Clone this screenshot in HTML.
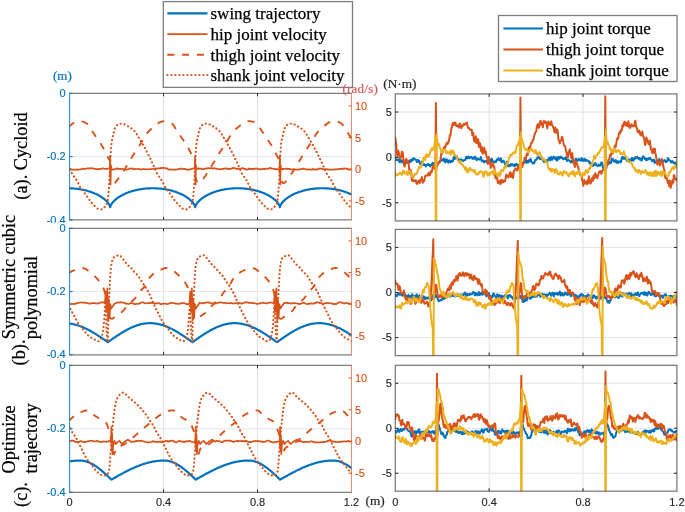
<!DOCTYPE html>
<html><head><meta charset="utf-8"><style>
html,body{margin:0;padding:0;background:#fff;}
body{width:685px;height:512px;position:relative;overflow:hidden;}
</style></head><body>
<svg width="685" height="512" viewBox="0 0 685 512" style="position:absolute;left:0;top:0;will-change:transform"><defs><clipPath id="cl0"><rect x="69.6" y="93.3" width="281.9" height="126.60000000000001"/></clipPath><clipPath id="cl1"><rect x="69.6" y="228.3" width="281.9" height="126.5"/></clipPath><clipPath id="cl2"><rect x="69.6" y="365.3" width="281.9" height="127.0"/></clipPath><clipPath id="cr0"><rect x="395.3" y="93.9" width="281.59999999999997" height="127.0"/></clipPath><clipPath id="cr1"><rect x="395.3" y="229.4" width="281.59999999999997" height="126.20000000000002"/></clipPath><clipPath id="cr2"><rect x="395.3" y="365.3" width="281.59999999999997" height="125.89999999999998"/></clipPath></defs><line x1="163.57" y1="93.3" x2="163.57" y2="219.9" stroke="#e3e3e3" stroke-width="1"/><line x1="257.53" y1="93.3" x2="257.53" y2="219.9" stroke="#e3e3e3" stroke-width="1"/><line x1="69.6" y1="156.6" x2="351.5" y2="156.6" stroke="#dfe9f3" stroke-width="1"/><g clip-path="url(#cl0)"><path d="M68.6,188.26 L69.1,188.26 L69.6,188.27 L70.1,188.29 L70.6,188.3 L71.1,188.33 L71.6,188.35 L72.1,188.38 L72.6,188.41 L73.1,188.44 L73.6,188.48 L74.1,188.52 L74.6,188.56 L75.1,188.61 L75.6,188.66 L76.1,188.71 L76.6,188.77 L77.1,188.83 L77.6,188.89 L78.1,188.96 L78.6,189.03 L79.1,189.11 L79.6,189.18 L80.1,189.27 L80.6,189.35 L81.1,189.44 L81.6,189.53 L82.1,189.63 L82.6,189.73 L83.1,189.83 L83.6,189.94 L84.1,190.05 L84.6,190.17 L85.1,190.29 L85.6,190.41 L86.1,190.54 L86.6,190.67 L87.1,190.81 L87.6,190.95 L88.1,191.09 L88.6,191.24 L89.1,191.4 L89.6,191.55 L90.1,191.72 L90.6,191.89 L91.1,192.06 L91.6,192.24 L92.1,192.42 L92.6,192.61 L93.1,192.8 L93.6,193 L94.1,193.21 L94.6,193.42 L95.1,193.64 L95.6,193.86 L96.1,194.09 L96.6,194.33 L97.1,194.58 L97.6,194.83 L98.1,195.09 L98.6,195.35 L99.1,195.63 L99.6,195.91 L100.1,196.21 L100.6,196.51 L101.1,196.82 L101.6,197.15 L102.1,197.48 L102.6,197.83 L103.1,198.19 L103.6,198.57 L104.1,198.96 L104.6,199.37 L105.1,199.79 L105.6,200.24 L106.1,200.71 L106.6,201.21 L107.1,201.74 L107.6,202.31 L108.1,202.93 L108.6,203.62 L109.1,204.39 L109.6,205.32 L110.1,206.65 L110.2,207.24 L110.6,205.76 L111.1,204.74 L111.6,203.91 L112.1,203.2 L112.6,202.55 L113.1,201.97 L113.6,201.42 L114.1,200.91 L114.6,200.43 L115.1,199.97 L115.6,199.53 L116.1,199.12 L116.6,198.72 L117.1,198.34 L117.6,197.97 L118.1,197.62 L118.6,197.28 L119.1,196.95 L119.6,196.63 L120.1,196.33 L120.6,196.03 L121.1,195.74 L121.6,195.46 L122.1,195.19 L122.6,194.93 L123.1,194.68 L123.6,194.43 L124.1,194.19 L124.6,193.96 L125.1,193.73 L125.6,193.51 L126.1,193.29 L126.6,193.09 L127.1,192.88 L127.6,192.69 L128.1,192.5 L128.6,192.31 L129.1,192.13 L129.6,191.95 L130.1,191.78 L130.6,191.62 L131.1,191.46 L131.6,191.3 L132.1,191.15 L132.6,191 L133.1,190.86 L133.6,190.72 L134.1,190.59 L134.6,190.46 L135.1,190.34 L135.6,190.21 L136.1,190.1 L136.6,189.98 L137.1,189.87 L137.6,189.77 L138.1,189.67 L138.6,189.57 L139.1,189.48 L139.6,189.39 L140.1,189.3 L140.6,189.22 L141.1,189.14 L141.6,189.06 L142.1,188.99 L142.6,188.92 L143.1,188.85 L143.6,188.79 L144.1,188.73 L144.6,188.68 L145.1,188.63 L145.6,188.58 L146.1,188.53 L146.6,188.49 L147.1,188.45 L147.6,188.42 L148.1,188.39 L148.6,188.36 L149.1,188.33 L149.6,188.31 L150.1,188.29 L150.6,188.28 L151.1,188.27 L151.6,188.26 L152.1,188.25 L152.6,188.25 L153.1,188.25 L153.6,188.26 L154.1,188.26 L154.6,188.27 L155.1,188.29 L155.6,188.3 L156.1,188.33 L156.6,188.35 L157.1,188.38 L157.6,188.41 L158.1,188.44 L158.6,188.48 L159.1,188.52 L159.6,188.56 L160.1,188.61 L160.6,188.66 L161.1,188.71 L161.6,188.77 L162.1,188.83 L162.6,188.89 L163.1,188.96 L163.6,189.03 L164.1,189.11 L164.6,189.18 L165.1,189.27 L165.6,189.35 L166.1,189.44 L166.6,189.53 L167.1,189.63 L167.6,189.73 L168.1,189.83 L168.6,189.94 L169.1,190.05 L169.6,190.17 L170.1,190.29 L170.6,190.41 L171.1,190.54 L171.6,190.67 L172.1,190.81 L172.6,190.95 L173.1,191.09 L173.6,191.24 L174.1,191.4 L174.6,191.55 L175.1,191.72 L175.6,191.89 L176.1,192.06 L176.6,192.24 L177.1,192.42 L177.6,192.61 L178.1,192.8 L178.6,193 L179.1,193.21 L179.6,193.42 L180.1,193.64 L180.6,193.86 L181.1,194.09 L181.6,194.33 L182.1,194.58 L182.6,194.83 L183.1,195.09 L183.6,195.35 L184.1,195.63 L184.6,195.91 L185.1,196.21 L185.6,196.51 L186.1,196.82 L186.6,197.15 L187.1,197.48 L187.6,197.83 L188.1,198.19 L188.6,198.57 L189.1,198.96 L189.6,199.37 L190.1,199.79 L190.6,200.24 L191.1,200.71 L191.6,201.21 L192.1,201.74 L192.6,202.31 L193.1,202.93 L193.6,203.62 L194.1,204.39 L194.6,205.32 L195.1,206.65 L195.2,207.24 L195.6,205.76 L196.1,204.73 L196.6,203.9 L197.1,203.19 L197.6,202.54 L198.1,201.95 L198.6,201.41 L199.1,200.89 L199.6,200.41 L200.1,199.95 L200.6,199.52 L201.1,199.1 L201.6,198.7 L202.1,198.32 L202.6,197.95 L203.1,197.6 L203.6,197.26 L204.1,196.93 L204.6,196.61 L205.1,196.31 L205.6,196.01 L206.1,195.72 L206.6,195.44 L207.1,195.17 L207.6,194.91 L208.1,194.65 L208.6,194.41 L209.1,194.17 L209.6,193.93 L210.1,193.71 L210.6,193.48 L211.1,193.27 L211.6,193.06 L212.1,192.86 L212.6,192.66 L213.1,192.47 L213.6,192.29 L214.1,192.11 L214.6,191.93 L215.1,191.76 L215.6,191.6 L216.1,191.44 L216.6,191.28 L217.1,191.13 L217.6,190.98 L218.1,190.84 L218.6,190.7 L219.1,190.57 L219.6,190.44 L220.1,190.31 L220.6,190.19 L221.1,190.08 L221.6,189.96 L222.1,189.85 L222.6,189.75 L223.1,189.65 L223.6,189.55 L224.1,189.46 L224.6,189.37 L225.1,189.28 L225.6,189.2 L226.1,189.12 L226.6,189.04 L227.1,188.97 L227.6,188.9 L228.1,188.84 L228.6,188.78 L229.1,188.72 L229.6,188.67 L230.1,188.61 L230.6,188.57 L231.1,188.52 L231.6,188.48 L232.1,188.44 L232.6,188.41 L233.1,188.38 L233.6,188.35 L234.1,188.33 L234.6,188.31 L235.1,188.29 L235.6,188.27 L236.1,188.26 L236.6,188.26 L237.1,188.25 L237.6,188.25 L238.1,188.25 L238.6,188.26 L239.1,188.27 L239.6,188.28 L240.1,188.29 L240.6,188.31 L241.1,188.33 L241.6,188.36 L242.1,188.39 L242.6,188.42 L243.1,188.45 L243.6,188.49 L244.1,188.53 L244.6,188.58 L245.1,188.62 L245.6,188.68 L246.1,188.73 L246.6,188.79 L247.1,188.85 L247.6,188.92 L248.1,188.99 L248.6,189.06 L249.1,189.14 L249.6,189.21 L250.1,189.3 L250.6,189.38 L251.1,189.48 L251.6,189.57 L252.1,189.67 L252.6,189.77 L253.1,189.88 L253.6,189.99 L254.1,190.1 L254.6,190.22 L255.1,190.34 L255.6,190.46 L256.1,190.59 L256.6,190.73 L257.1,190.87 L257.6,191.01 L258.1,191.16 L258.6,191.31 L259.1,191.47 L259.6,191.63 L260.1,191.79 L260.6,191.97 L261.1,192.14 L261.6,192.32 L262.1,192.51 L262.6,192.7 L263.1,192.9 L263.6,193.1 L264.1,193.31 L264.6,193.53 L265.1,193.75 L265.6,193.98 L266.1,194.21 L266.6,194.45 L267.1,194.7 L267.6,194.96 L268.1,195.22 L268.6,195.5 L269.1,195.78 L269.6,196.07 L270.1,196.37 L270.6,196.68 L271.1,197 L271.6,197.33 L272.1,197.67 L272.6,198.03 L273.1,198.4 L273.6,198.78 L274.1,199.18 L274.6,199.6 L275.1,200.04 L275.6,200.51 L276.1,200.99 L276.6,201.51 L277.1,202.07 L277.6,202.67 L278.1,203.32 L278.6,204.06 L279.1,204.92 L279.6,206.02 L279.9,207.24 L280.1,206.3 L280.6,205.11 L281.1,204.22 L281.6,203.47 L282.1,202.8 L282.6,202.19 L283.1,201.63 L283.6,201.1 L284.1,200.61 L284.6,200.14 L285.1,199.69 L285.6,199.27 L286.1,198.87 L286.6,198.48 L287.1,198.11 L287.6,197.75 L288.1,197.4 L288.6,197.07 L289.1,196.75 L289.6,196.44 L290.1,196.13 L290.6,195.84 L291.1,195.56 L291.6,195.29 L292.1,195.02 L292.6,194.76 L293.1,194.51 L293.6,194.27 L294.1,194.03 L294.6,193.8 L295.1,193.58 L295.6,193.36 L296.1,193.15 L296.6,192.95 L297.1,192.75 L297.6,192.56 L298.1,192.37 L298.6,192.19 L299.1,192.01 L299.6,191.84 L300.1,191.67 L300.6,191.51 L301.1,191.35 L301.6,191.2 L302.1,191.05 L302.6,190.9 L303.1,190.76 L303.6,190.63 L304.1,190.5 L304.6,190.37 L305.1,190.25 L305.6,190.13 L306.1,190.02 L306.6,189.9 L307.1,189.8 L307.6,189.69 L308.1,189.6 L308.6,189.5 L309.1,189.41 L309.6,189.32 L310.1,189.24 L310.6,189.16 L311.1,189.08 L311.6,189.01 L312.1,188.94 L312.6,188.87 L313.1,188.81 L313.6,188.75 L314.1,188.69 L314.6,188.64 L315.1,188.59 L315.6,188.54 L316.1,188.5 L316.6,188.46 L317.1,188.43 L317.6,188.39 L318.1,188.37 L318.6,188.34 L319.1,188.32 L319.6,188.3 L320.1,188.28 L320.6,188.27 L321.1,188.26 L321.6,188.25 L322.1,188.25 L322.6,188.25 L323.1,188.25 L323.6,188.26 L324.1,188.27 L324.6,188.28 L325.1,188.3 L325.6,188.32 L326.1,188.34 L326.6,188.37 L327.1,188.4 L327.6,188.43 L328.1,188.47 L328.6,188.51 L329.1,188.55 L329.6,188.6 L330.1,188.65 L330.6,188.7 L331.1,188.76 L331.6,188.82 L332.1,188.88 L332.6,188.95 L333.1,189.02 L333.6,189.09 L334.1,189.17 L334.6,189.25 L335.1,189.34 L335.6,189.43 L336.1,189.52 L336.6,189.62 L337.1,189.72 L337.6,189.82 L338.1,189.93 L338.6,190.04 L339.1,190.15 L339.6,190.27 L340.1,190.4 L340.6,190.52 L341.1,190.66 L341.6,190.79 L342.1,190.93 L342.6,191.08 L343.1,191.23 L343.6,191.38 L344.1,191.54 L344.6,191.7 L345.1,191.87 L345.6,192.04 L346.1,192.22 L346.6,192.41 L347.1,192.59 L347.6,192.79 L348.1,192.99 L348.6,193.19 L349.1,193.41 L349.6,193.62 L350.1,193.85 L350.6,194.08 L351.1,194.32 L351.6,194.56 L352.1,194.81" fill="none" stroke="#0072BD" stroke-width="2.2" stroke-linejoin="round"/><path d="M68.6,168.88 L69.1,168.7 L69.6,168.58 L70.1,169.09 L70.6,169.08 L71.1,169.32 L71.6,169.65 L72.1,169.67 L72.6,169.67 L73.1,169.67 L73.6,169.67 L74.1,169.67 L74.6,169.67 L75.1,169.67 L75.6,169.67 L76.1,169.67 L76.6,169.55 L77.1,169.67 L77.6,169.65 L78.1,169.67 L78.6,169.67 L79.1,169.67 L79.6,169.51 L80.1,169.41 L80.6,169.24 L81.1,169.37 L81.6,169.1 L82.1,168.99 L82.6,168.8 L83.1,168.87 L83.6,169.06 L84.1,168.65 L84.6,168.94 L85.1,168.94 L85.6,168.81 L86.1,168.91 L86.6,168.55 L87.1,168.42 L87.6,168.42 L88.1,168.42 L88.6,168.57 L89.1,168.31 L89.6,168.34 L90.1,168.38 L90.6,168.13 L91.1,168.24 L91.6,168.51 L92.1,168.24 L92.6,168.35 L93.1,168.43 L93.6,168.62 L94.1,168.85 L94.6,168.88 L95.1,168.84 L95.6,168.89 L96.1,169.01 L96.6,169.2 L97.1,168.99 L97.6,169.39 L98.1,169.25 L98.6,169.16 L99.1,168.89 L99.6,168.93 L100.1,169.2 L100.6,169.03 L101.1,168.92 L101.6,168.76 L102.1,168.47 L102.6,168.44 L103.1,168.35 L103.6,168.61 L104.1,168.78 L104.6,168.92 L105.1,168.86 L105.6,168.89 L106.1,168.96 L106.6,168.76 L107.1,168.7 L107.6,168.65 L108.1,168.69 L108.6,168.45 L109.1,168.24 L109.6,168.13 L109.8,168.75 L110.2,155.97 L110.55,184.45 L110.9,165.46 L111.4,168.75 L111.6,169.44 L112.1,169.55 L112.6,169.67 L113.1,169.29 L113.6,169.56 L114.1,169.43 L114.6,169.46 L115.1,169.05 L115.6,168.7 L116.1,168.68 L116.6,168.38 L117.1,168.32 L117.6,168.93 L118.1,168.79 L118.6,168.67 L119.1,168.9 L119.6,168.95 L120.1,169.08 L120.6,168.85 L121.1,168.95 L121.6,169.03 L122.1,168.95 L122.6,168.95 L123.1,169.34 L123.6,169.35 L124.1,169.33 L124.6,169.57 L125.1,169.59 L125.6,169.67 L126.1,169.67 L126.6,169.67 L127.1,169.67 L127.6,169.31 L128.1,169.39 L128.6,169.22 L129.1,168.55 L129.6,168.72 L130.1,168.45 L130.6,168.62 L131.1,168.64 L131.6,168.58 L132.1,168.71 L132.6,168.43 L133.1,168.81 L133.6,169.2 L134.1,169.43 L134.6,169.14 L135.1,169.14 L135.6,168.78 L136.1,168.98 L136.6,169.01 L137.1,169.06 L137.6,169.02 L138.1,168.9 L138.6,168.73 L139.1,169.02 L139.6,169.25 L140.1,169.58 L140.6,169.28 L141.1,169.27 L141.6,169.41 L142.1,169.24 L142.6,168.98 L143.1,169.18 L143.6,169.16 L144.1,169.02 L144.6,169.2 L145.1,169.37 L145.6,169.25 L146.1,169.04 L146.6,169.24 L147.1,169.42 L147.6,169.25 L148.1,169.24 L148.6,169.33 L149.1,169.23 L149.6,169.11 L150.1,169.2 L150.6,169.16 L151.1,169.03 L151.6,169.2 L152.1,169.19 L152.6,169.05 L153.1,168.89 L153.6,168.69 L154.1,168.94 L154.6,168.63 L155.1,168.55 L155.6,168.47 L156.1,168.5 L156.6,168.66 L157.1,168.6 L157.6,168.36 L158.1,168.36 L158.6,168.26 L159.1,168.34 L159.6,168.31 L160.1,168.21 L160.6,168.19 L161.1,167.84 L161.6,168.06 L162.1,168.08 L162.6,167.96 L163.1,167.89 L163.6,167.84 L164.1,167.84 L164.6,167.95 L165.1,168.19 L165.6,168.32 L166.1,168.27 L166.6,168.44 L167.1,168.37 L167.6,168.84 L168.1,169.59 L168.6,169.67 L169.1,169.6 L169.6,169.33 L170.1,169.48 L170.6,169.45 L171.1,169.67 L171.6,169.67 L172.1,169.67 L172.6,169.67 L173.1,169.66 L173.6,169.67 L174.1,169.55 L174.6,169.67 L175.1,169.67 L175.6,169.61 L176.1,169.67 L176.6,169.53 L177.1,169.37 L177.6,169.4 L178.1,169.32 L178.6,169.02 L179.1,169.09 L179.6,168.8 L180.1,168.63 L180.6,168.47 L181.1,168.78 L181.6,168.72 L182.1,168.64 L182.6,168.72 L183.1,169.09 L183.6,168.88 L184.1,168.83 L184.6,168.82 L185.1,169.23 L185.6,169.09 L186.1,169.37 L186.6,169.67 L187.1,169.67 L187.6,169.67 L188.1,169.67 L188.6,169.67 L189.1,169.67 L189.6,169.67 L190.1,169.67 L190.6,169.35 L191.1,168.75 L191.6,168.64 L192.1,168.74 L192.6,168.65 L193.1,168.39 L193.6,168.41 L194.1,168.52 L194.6,168.68 L194.8,168.75 L195.2,155.97 L195.55,184.45 L195.9,165.46 L196.4,168.75 L196.6,169.25 L197.1,168.97 L197.6,168.5 L198.1,168.68 L198.6,168.41 L199.1,168.54 L199.6,168.79 L200.1,168.72 L200.6,168.73 L201.1,168.47 L201.6,168.99 L202.1,169.32 L202.6,169.26 L203.1,169.19 L203.6,169.19 L204.1,168.7 L204.6,168.46 L205.1,168.56 L205.6,168.65 L206.1,168.78 L206.6,168.44 L207.1,168.22 L207.6,168.28 L208.1,168.21 L208.6,168.19 L209.1,168.44 L209.6,168.38 L210.1,168.35 L210.6,167.99 L211.1,168.01 L211.6,168.08 L212.1,168.27 L212.6,168.5 L213.1,168.64 L213.6,168.38 L214.1,168.24 L214.6,168.19 L215.1,168.26 L215.6,168.75 L216.1,168.87 L216.6,168.69 L217.1,168.66 L217.6,168.58 L218.1,168.93 L218.6,169 L219.1,169.31 L219.6,169.29 L220.1,169.24 L220.6,169.06 L221.1,169.37 L221.6,169.19 L222.1,168.86 L222.6,168.88 L223.1,169.01 L223.6,168.68 L224.1,168.63 L224.6,168.66 L225.1,168.74 L225.6,168.22 L226.1,168.37 L226.6,168.7 L227.1,168.84 L227.6,168.66 L228.1,168.93 L228.6,169.14 L229.1,168.71 L229.6,168.97 L230.1,169.14 L230.6,168.81 L231.1,168.72 L231.6,168.42 L232.1,168.12 L232.6,167.92 L233.1,167.84 L233.6,168.32 L234.1,168.14 L234.6,168.07 L235.1,168.17 L235.6,168.4 L236.1,168.66 L236.6,169.12 L237.1,169.03 L237.6,168.96 L238.1,168.66 L238.6,168.62 L239.1,168.95 L239.6,169.14 L240.1,168.92 L240.6,168.78 L241.1,168.59 L241.6,168.29 L242.1,168.14 L242.6,168.17 L243.1,168.54 L243.6,168.41 L244.1,168.77 L244.6,169.08 L245.1,168.9 L245.6,168.86 L246.1,169.24 L246.6,169.67 L247.1,169.67 L247.6,169.56 L248.1,169.52 L248.6,168.73 L249.1,168.42 L249.6,168.73 L250.1,169.08 L250.6,169.06 L251.1,168.78 L251.6,168.92 L252.1,168.77 L252.6,169.11 L253.1,169.32 L253.6,169.17 L254.1,168.82 L254.6,168.68 L255.1,168.58 L255.6,168.57 L256.1,168.43 L256.6,168.51 L257.1,168.54 L257.6,169.02 L258.1,169.07 L258.6,169.31 L259.1,169.18 L259.6,169.09 L260.1,169.39 L260.6,169.46 L261.1,169.37 L261.6,169.05 L262.1,168.85 L262.6,168.8 L263.1,168.73 L263.6,169 L264.1,169.36 L264.6,168.88 L265.1,168.65 L265.6,169.04 L266.1,168.86 L266.6,168.68 L267.1,168.62 L267.6,168.73 L268.1,168.56 L268.6,168.59 L269.1,168.27 L269.6,168.39 L270.1,167.84 L270.6,168.11 L271.1,168.19 L271.6,168.76 L272.1,168.76 L272.6,168.52 L273.1,168.54 L273.6,168.81 L274.1,168.72 L274.6,169.21 L275.1,169.18 L275.6,169.3 L276.1,169 L276.6,169.03 L277.1,169.37 L277.6,169.19 L278.1,169.58 L278.6,169.67 L279.1,169.67 L279.5,168.75 L279.9,155.97 L280.25,184.45 L280.6,165.46 L281.1,168.75 L281.6,169.46 L282.1,169.37 L282.6,168.84 L283.1,168.98 L283.6,169.08 L284.1,168.83 L284.6,168.97 L285.1,168.74 L285.6,168.59 L286.1,168.63 L286.6,168.54 L287.1,169.03 L287.6,168.9 L288.1,168.97 L288.6,168.74 L289.1,168.77 L289.6,168.89 L290.1,169.18 L290.6,169.17 L291.1,169.37 L291.6,169.5 L292.1,169.5 L292.6,169.3 L293.1,169.67 L293.6,169.67 L294.1,169.67 L294.6,169.67 L295.1,169.67 L295.6,169.67 L296.1,169.61 L296.6,169.49 L297.1,169.67 L297.6,169.48 L298.1,169.45 L298.6,169.54 L299.1,169.67 L299.6,169.4 L300.1,169.31 L300.6,169.12 L301.1,169.24 L301.6,169.07 L302.1,169.14 L302.6,168.6 L303.1,168.57 L303.6,168.51 L304.1,169.05 L304.6,169.24 L305.1,169.15 L305.6,168.99 L306.1,169.2 L306.6,169.47 L307.1,169.67 L307.6,169.44 L308.1,169.67 L308.6,169.39 L309.1,169.34 L309.6,169.28 L310.1,169.64 L310.6,169.51 L311.1,169.53 L311.6,169.65 L312.1,169.65 L312.6,168.97 L313.1,169.14 L313.6,169.1 L314.1,169.66 L314.6,169.53 L315.1,169.48 L315.6,169.21 L316.1,169.05 L316.6,169.52 L317.1,169.67 L317.6,169.62 L318.1,169.21 L318.6,168.5 L319.1,168.46 L319.6,168.59 L320.1,168.59 L320.6,168.69 L321.1,168.62 L321.6,168.61 L322.1,168.8 L322.6,168.93 L323.1,169.3 L323.6,169.23 L324.1,169.12 L324.6,169.24 L325.1,169.31 L325.6,169.21 L326.1,169.3 L326.6,169.06 L327.1,169.18 L327.6,169.42 L328.1,169.45 L328.6,169.67 L329.1,169.65 L329.6,169.52 L330.1,169.67 L330.6,169.67 L331.1,169.67 L331.6,169.67 L332.1,169.62 L332.6,169.67 L333.1,169.63 L333.6,169.57 L334.1,169.61 L334.6,169.21 L335.1,169.45 L335.6,169.44 L336.1,169.38 L336.6,169.33 L337.1,169.34 L337.6,169.05 L338.1,169.31 L338.6,169.12 L339.1,169.09 L339.6,168.82 L340.1,168.79 L340.6,168.94 L341.1,168.96 L341.6,168.76 L342.1,168.78 L342.6,168.43 L343.1,168.8 L343.6,168.74 L344.1,168.58 L344.6,168.46 L345.1,168.29 L345.6,168.54 L346.1,168.48 L346.6,168.59 L347.1,169.1 L347.6,168.75 L348.1,169.13 L348.6,169.59 L349.1,169.67 L349.6,169.67 L350.1,169.48 L350.6,169.61 L351.1,169.25 L351.6,168.48 L352.1,168.57" fill="none" stroke="#D95319" stroke-width="1.7" stroke-linejoin="round"/><path d="M68.6,126.92 L69.1,126.51 L69.6,126.1 L70.1,125.68 L70.6,125.26 L71.1,124.84 L71.6,124.42 L72.1,124.02 L72.6,123.64 L73.1,123.28 L73.6,122.94 L74.1,122.64 L74.6,122.38 L75.1,122.17 L75.6,121.99 L76.1,121.82 L76.6,121.66 L77.1,121.51 L77.6,121.38 L78.1,121.27 L78.6,121.19 L79.1,121.16 L79.6,121.16 L80.1,121.19 L80.6,121.24 L81.1,121.31 L81.6,121.4 L82.1,121.5 L82.6,121.62 L83.1,121.74 L83.6,121.87 L84.1,122.04 L84.6,122.25 L85.1,122.5 L85.6,122.79 L86.1,123.11 L86.6,123.46 L87.1,123.84 L87.6,124.26 L88.1,124.8 L88.6,125.46 L89.1,126.2 L89.6,127 L90.1,127.84 L90.6,128.69 L91.1,129.52 L91.6,130.32 L92.1,131.06 L92.6,131.8 L93.1,132.54 L93.6,133.28 L94.1,134.02 L94.6,134.76 L95.1,135.5 L95.6,136.24 L96.1,136.98 L96.6,137.72 L97.1,138.45 L97.6,139.17 L98.1,139.89 L98.6,140.61 L99.1,141.33 L99.6,142.06 L100.1,142.81 L100.6,143.57 L101.1,144.36 L101.6,145.17 L102.1,146.01 L102.6,146.87 L103.1,147.75 L103.6,148.65 L104.1,149.56 L104.6,150.51 L105.1,151.5 L105.6,152.52 L106.1,153.55 L106.6,154.57 L107.1,155.56 L107.6,156.52 L108.1,157.43 L108.6,158.32 L109.1,159.19 L109.6,160.04 L110.1,160.87 L110.2,176.86 L110.6,178.03 L111.1,179.4 L111.6,180.61 L112.1,181.62 L112.6,182.42 L113.1,182.95 L113.6,183.18 L114.1,183.13 L114.6,182.9 L115.1,182.52 L115.6,182.04 L116.1,181.46 L116.6,180.83 L117.1,180.17 L117.6,179.51 L118.1,178.89 L118.6,178.29 L119.1,177.64 L119.6,176.96 L120.1,176.24 L120.6,175.51 L121.1,174.75 L121.6,174 L122.1,173.24 L122.6,172.49 L123.1,171.72 L123.6,170.94 L124.1,170.15 L124.6,169.36 L125.1,168.55 L125.6,167.75 L126.1,166.94 L126.6,166.12 L127.1,165.3 L127.6,164.47 L128.1,163.63 L128.6,162.78 L129.1,161.93 L129.6,161.08 L130.1,160.23 L130.6,159.39 L131.1,158.54 L131.6,157.7 L132.1,156.87 L132.6,156.05 L133.1,155.24 L133.6,154.45 L134.1,153.66 L134.6,152.89 L135.1,152.12 L135.6,151.36 L136.1,150.61 L136.6,149.85 L137.1,149.1 L137.6,148.35 L138.1,147.59 L138.6,146.83 L139.1,146.06 L139.6,145.28 L140.1,144.5 L140.6,143.69 L141.1,142.88 L141.6,142.05 L142.1,141.23 L142.6,140.41 L143.1,139.6 L143.6,138.81 L144.1,138.03 L144.6,137.23 L145.1,136.43 L145.6,135.64 L146.1,134.87 L146.6,134.12 L147.1,133.4 L147.6,132.73 L148.1,132.11 L148.6,131.54 L149.1,130.99 L149.6,130.47 L150.1,129.98 L150.6,129.5 L151.1,129.04 L151.6,128.6 L152.1,128.16 L152.6,127.74 L153.1,127.33 L153.6,126.92 L154.1,126.51 L154.6,126.1 L155.1,125.68 L155.6,125.26 L156.1,124.84 L156.6,124.42 L157.1,124.02 L157.6,123.64 L158.1,123.28 L158.6,122.94 L159.1,122.64 L159.6,122.38 L160.1,122.17 L160.6,121.99 L161.1,121.82 L161.6,121.66 L162.1,121.51 L162.6,121.38 L163.1,121.27 L163.6,121.19 L164.1,121.16 L164.6,121.16 L165.1,121.19 L165.6,121.24 L166.1,121.31 L166.6,121.4 L167.1,121.5 L167.6,121.62 L168.1,121.74 L168.6,121.87 L169.1,122.04 L169.6,122.25 L170.1,122.5 L170.6,122.79 L171.1,123.11 L171.6,123.46 L172.1,123.84 L172.6,124.26 L173.1,124.8 L173.6,125.46 L174.1,126.2 L174.6,127 L175.1,127.84 L175.6,128.69 L176.1,129.52 L176.6,130.32 L177.1,131.06 L177.6,131.8 L178.1,132.54 L178.6,133.28 L179.1,134.02 L179.6,134.76 L180.1,135.5 L180.6,136.24 L181.1,136.98 L181.6,137.72 L182.1,138.45 L182.6,139.17 L183.1,139.89 L183.6,140.61 L184.1,141.33 L184.6,142.06 L185.1,142.81 L185.6,143.57 L186.1,144.36 L186.6,145.17 L187.1,146.01 L187.6,146.87 L188.1,147.75 L188.6,148.65 L189.1,149.56 L189.6,150.51 L190.1,151.5 L190.6,152.52 L191.1,153.55 L191.6,154.57 L192.1,155.56 L192.6,156.52 L193.1,157.43 L193.6,158.32 L194.1,159.19 L194.6,160.04 L195.1,160.87 L195.2,176.86 L195.6,178.04 L196.1,179.41 L196.6,180.62 L197.1,181.64 L197.6,182.43 L198.1,182.95 L198.6,183.18 L199.1,183.12 L199.6,182.89 L200.1,182.51 L200.6,182.01 L201.1,181.43 L201.6,180.8 L202.1,180.14 L202.6,179.48 L203.1,178.86 L203.6,178.25 L204.1,177.6 L204.6,176.91 L205.1,176.19 L205.6,175.45 L206.1,174.69 L206.6,173.93 L207.1,173.18 L207.6,172.42 L208.1,171.65 L208.6,170.87 L209.1,170.07 L209.6,169.27 L210.1,168.47 L210.6,167.66 L211.1,166.84 L211.6,166.03 L212.1,165.2 L212.6,164.36 L213.1,163.52 L213.6,162.67 L214.1,161.82 L214.6,160.97 L215.1,160.11 L215.6,159.26 L216.1,158.42 L216.6,157.58 L217.1,156.74 L217.6,155.92 L218.1,155.11 L218.6,154.32 L219.1,153.53 L219.6,152.75 L220.1,151.99 L220.6,151.22 L221.1,150.47 L221.6,149.71 L222.1,148.96 L222.6,148.2 L223.1,147.44 L223.6,146.67 L224.1,145.9 L224.6,145.12 L225.1,144.33 L225.6,143.52 L226.1,142.7 L226.6,141.87 L227.1,141.04 L227.6,140.22 L228.1,139.41 L228.6,138.63 L229.1,137.84 L229.6,137.04 L230.1,136.24 L230.6,135.45 L231.1,134.68 L231.6,133.93 L232.1,133.22 L232.6,132.56 L233.1,131.95 L233.6,131.39 L234.1,130.85 L234.6,130.33 L235.1,129.84 L235.6,129.37 L236.1,128.91 L236.6,128.47 L237.1,128.04 L237.6,127.62 L238.1,127.2 L238.6,126.79 L239.1,126.39 L239.6,125.97 L240.1,125.55 L240.6,125.12 L241.1,124.7 L241.6,124.29 L242.1,123.89 L242.6,123.51 L243.1,123.16 L243.6,122.84 L244.1,122.55 L244.6,122.3 L245.1,122.11 L245.6,121.93 L246.1,121.76 L246.6,121.6 L247.1,121.46 L247.6,121.33 L248.1,121.24 L248.6,121.17 L249.1,121.15 L249.6,121.17 L250.1,121.2 L250.6,121.27 L251.1,121.35 L251.6,121.44 L252.1,121.55 L252.6,121.66 L253.1,121.79 L253.6,121.93 L254.1,122.12 L254.6,122.35 L255.1,122.62 L255.6,122.92 L256.1,123.26 L256.6,123.62 L257.1,124.01 L257.6,124.48 L258.1,125.08 L258.6,125.78 L259.1,126.56 L259.6,127.38 L260.1,128.23 L260.6,129.08 L261.1,129.9 L261.6,130.67 L262.1,131.41 L262.6,132.16 L263.1,132.9 L263.6,133.64 L264.1,134.38 L264.6,135.12 L265.1,135.87 L265.6,136.61 L266.1,137.35 L266.6,138.09 L267.1,138.82 L267.6,139.54 L268.1,140.26 L268.6,140.98 L269.1,141.71 L269.6,142.46 L270.1,143.21 L270.6,143.99 L271.1,144.79 L271.6,145.62 L272.1,146.47 L272.6,147.35 L273.1,148.24 L273.6,149.15 L274.1,150.09 L274.6,151.07 L275.1,152.08 L275.6,153.11 L276.1,154.13 L276.6,155.14 L277.1,156.12 L277.6,157.05 L278.1,157.96 L278.6,158.84 L279.1,159.7 L279.6,160.54 L279.9,176.86 L280.1,177.45 L280.6,178.87 L281.1,180.15 L281.6,181.25 L282.1,182.14 L282.6,182.77 L283.1,183.13 L283.6,183.17 L284.1,183 L284.6,182.68 L285.1,182.23 L285.6,181.68 L286.1,181.07 L286.6,180.41 L287.1,179.75 L287.6,179.11 L288.1,178.51 L288.6,177.88 L289.1,177.21 L289.6,176.5 L290.1,175.77 L290.6,175.02 L291.1,174.26 L291.6,173.5 L292.1,172.75 L292.6,171.98 L293.1,171.21 L293.6,170.42 L294.1,169.62 L294.6,168.82 L295.1,168.01 L295.6,167.2 L296.1,166.39 L296.6,165.56 L297.1,164.73 L297.6,163.89 L298.1,163.05 L298.6,162.2 L299.1,161.35 L299.6,160.49 L300.1,159.64 L300.6,158.8 L301.1,157.95 L301.6,157.12 L302.1,156.29 L302.6,155.48 L303.1,154.68 L303.6,153.89 L304.1,153.11 L304.6,152.34 L305.1,151.57 L305.6,150.82 L306.1,150.06 L306.6,149.31 L307.1,148.55 L307.6,147.79 L308.1,147.03 L308.6,146.26 L309.1,145.49 L309.6,144.7 L310.1,143.9 L310.6,143.09 L311.1,142.26 L311.6,141.43 L312.1,140.61 L312.6,139.8 L313.1,139 L313.6,138.22 L314.1,137.42 L314.6,136.62 L315.1,135.83 L315.6,135.05 L316.1,134.29 L316.6,133.56 L317.1,132.88 L317.6,132.24 L318.1,131.66 L318.6,131.11 L319.1,130.58 L319.6,130.08 L320.1,129.6 L320.6,129.13 L321.1,128.69 L321.6,128.25 L322.1,127.82 L322.6,127.41 L323.1,127 L323.6,126.59 L324.1,126.18 L324.6,125.76 L325.1,125.34 L325.6,124.92 L326.1,124.5 L326.6,124.09 L327.1,123.7 L327.6,123.34 L328.1,123 L328.6,122.69 L329.1,122.43 L329.6,122.2 L330.1,122.02 L330.6,121.85 L331.1,121.68 L331.6,121.53 L332.1,121.39 L332.6,121.28 L333.1,121.2 L333.6,121.16 L334.1,121.16 L334.6,121.18 L335.1,121.23 L335.6,121.3 L336.1,121.39 L336.6,121.49 L337.1,121.6 L337.6,121.72 L338.1,121.85 L338.6,122.01 L339.1,122.22 L339.6,122.47 L340.1,122.75 L340.6,123.07 L341.1,123.42 L341.6,123.79 L342.1,124.21 L342.6,124.74 L343.1,125.39 L343.6,126.12 L344.1,126.92 L344.6,127.76 L345.1,128.61 L345.6,129.45 L346.1,130.25 L346.6,131 L347.1,131.74 L347.6,132.48 L348.1,133.22 L348.6,133.96 L349.1,134.71 L349.6,135.45 L350.1,136.19 L350.6,136.93 L351.1,137.67 L351.6,138.41 L352.1,139.13" fill="none" stroke="#D95319" stroke-width="1.9" stroke-dasharray="7,7.8"/><path d="M68.6,165.74 L69.1,166.84 L69.6,167.97 L70.1,169.14 L70.6,170.32 L71.1,171.47 L71.6,172.55 L72.1,173.54 L72.6,174.42 L73.1,175.22 L73.6,175.97 L74.1,176.67 L74.6,177.36 L75.1,178.03 L75.6,178.72 L76.1,179.43 L76.6,180.18 L77.1,180.98 L77.6,181.88 L78.1,182.84 L78.6,183.85 L79.1,184.88 L79.6,185.89 L80.1,186.85 L80.6,187.74 L81.1,188.53 L81.6,189.26 L82.1,189.95 L82.6,190.61 L83.1,191.25 L83.6,191.88 L84.1,192.5 L84.6,193.13 L85.1,193.78 L85.6,194.46 L86.1,195.16 L86.6,195.88 L87.1,196.62 L87.6,197.36 L88.1,198.09 L88.6,198.81 L89.1,199.51 L89.6,200.19 L90.1,200.83 L90.6,201.45 L91.1,202.06 L91.6,202.65 L92.1,203.24 L92.6,203.81 L93.1,204.36 L93.6,204.89 L94.1,205.41 L94.6,205.9 L95.1,206.36 L95.6,206.84 L96.1,207.33 L96.6,207.8 L97.1,208.22 L97.6,208.56 L98.1,208.79 L98.6,208.91 L99.1,209.02 L99.6,209.11 L100.1,209.19 L100.6,209.26 L101.1,209.3 L101.6,209.33 L102.1,209.3 L102.6,209.1 L103.1,208.74 L103.6,208.27 L104.1,207.72 L104.6,207.13 L105.1,206.54 L105.6,205.94 L106.1,205.26 L106.6,204.38 L107.1,203.21 L107.6,201.22 L108.1,197.67 L108.6,193.06 L109.1,186.52 L109.6,177.39 L110.1,165.57 L110.2,162.93 L110.6,154.87 L111.1,147.25 L111.6,142.45 L112.1,139.65 L112.6,137.46 L113.1,135.5 L113.6,133.36 L114.1,131.09 L114.6,129.14 L115.1,127.96 L115.6,127.17 L116.1,126.44 L116.6,125.78 L117.1,125.19 L117.6,124.69 L118.1,124.29 L118.6,123.98 L119.1,123.78 L119.6,123.69 L120.1,123.68 L120.6,123.68 L121.1,123.68 L121.6,123.68 L122.1,123.68 L122.6,123.7 L123.1,123.79 L123.6,123.93 L124.1,124.12 L124.6,124.35 L125.1,124.62 L125.6,124.9 L126.1,125.2 L126.6,125.51 L127.1,125.8 L127.6,126.09 L128.1,126.36 L128.6,126.64 L129.1,126.93 L129.6,127.23 L130.1,127.55 L130.6,127.88 L131.1,128.22 L131.6,128.57 L132.1,128.94 L132.6,129.32 L133.1,129.72 L133.6,130.15 L134.1,130.62 L134.6,131.13 L135.1,131.69 L135.6,132.35 L136.1,133.07 L136.6,133.85 L137.1,134.66 L137.6,135.51 L138.1,136.36 L138.6,137.21 L139.1,138.03 L139.6,138.85 L140.1,139.67 L140.6,140.5 L141.1,141.33 L141.6,142.18 L142.1,143.04 L142.6,143.91 L143.1,144.79 L143.6,145.68 L144.1,146.58 L144.6,147.5 L145.1,148.43 L145.6,149.37 L146.1,150.32 L146.6,151.27 L147.1,152.24 L147.6,153.21 L148.1,154.19 L148.6,155.18 L149.1,156.18 L149.6,157.2 L150.1,158.22 L150.6,159.26 L151.1,160.31 L151.6,161.37 L152.1,162.46 L152.6,163.55 L153.1,164.64 L153.6,165.74 L154.1,166.84 L154.6,167.97 L155.1,169.14 L155.6,170.32 L156.1,171.47 L156.6,172.55 L157.1,173.54 L157.6,174.42 L158.1,175.22 L158.6,175.97 L159.1,176.67 L159.6,177.36 L160.1,178.03 L160.6,178.72 L161.1,179.43 L161.6,180.18 L162.1,180.98 L162.6,181.88 L163.1,182.84 L163.6,183.85 L164.1,184.88 L164.6,185.89 L165.1,186.85 L165.6,187.74 L166.1,188.53 L166.6,189.26 L167.1,189.95 L167.6,190.61 L168.1,191.25 L168.6,191.88 L169.1,192.5 L169.6,193.13 L170.1,193.78 L170.6,194.46 L171.1,195.16 L171.6,195.88 L172.1,196.62 L172.6,197.36 L173.1,198.09 L173.6,198.81 L174.1,199.51 L174.6,200.19 L175.1,200.83 L175.6,201.45 L176.1,202.06 L176.6,202.65 L177.1,203.24 L177.6,203.81 L178.1,204.36 L178.6,204.89 L179.1,205.41 L179.6,205.9 L180.1,206.36 L180.6,206.84 L181.1,207.33 L181.6,207.8 L182.1,208.22 L182.6,208.56 L183.1,208.79 L183.6,208.91 L184.1,209.02 L184.6,209.11 L185.1,209.19 L185.6,209.26 L186.1,209.3 L186.6,209.33 L187.1,209.3 L187.6,209.1 L188.1,208.74 L188.6,208.27 L189.1,207.72 L189.6,207.13 L190.1,206.54 L190.6,205.94 L191.1,205.26 L191.6,204.38 L192.1,203.21 L192.6,201.22 L193.1,197.67 L193.6,193.06 L194.1,186.52 L194.6,177.39 L195.1,165.57 L195.2,162.93 L195.6,154.84 L196.1,147.21 L196.6,142.42 L197.1,139.62 L197.6,137.42 L198.1,135.46 L198.6,133.31 L199.1,131.03 L199.6,129.09 L200.1,127.94 L200.6,127.14 L201.1,126.41 L201.6,125.75 L202.1,125.17 L202.6,124.67 L203.1,124.27 L203.6,123.96 L204.1,123.77 L204.6,123.69 L205.1,123.68 L205.6,123.68 L206.1,123.68 L206.6,123.68 L207.1,123.68 L207.6,123.71 L208.1,123.8 L208.6,123.95 L209.1,124.14 L209.6,124.38 L210.1,124.65 L210.6,124.94 L211.1,125.24 L211.6,125.54 L212.1,125.84 L212.6,126.12 L213.1,126.4 L213.6,126.68 L214.1,126.97 L214.6,127.27 L215.1,127.59 L215.6,127.92 L216.1,128.27 L216.6,128.63 L217.1,129 L217.6,129.39 L218.1,129.79 L218.6,130.23 L219.1,130.7 L219.6,131.22 L220.1,131.8 L220.6,132.47 L221.1,133.21 L221.6,134 L222.1,134.82 L222.6,135.67 L223.1,136.53 L223.6,137.37 L224.1,138.2 L224.6,139.02 L225.1,139.84 L225.6,140.68 L226.1,141.52 L226.6,142.37 L227.1,143.23 L227.6,144.11 L228.1,144.99 L228.6,145.89 L229.1,146.8 L229.6,147.73 L230.1,148.66 L230.6,149.61 L231.1,150.56 L231.6,151.52 L232.1,152.49 L232.6,153.47 L233.1,154.45 L233.6,155.45 L234.1,156.46 L234.6,157.48 L235.1,158.51 L235.6,159.55 L236.1,160.61 L236.6,161.69 L237.1,162.78 L237.6,163.88 L238.1,164.98 L238.6,166.08 L239.1,167.19 L239.6,168.34 L240.1,169.52 L240.6,170.7 L241.1,171.83 L241.6,172.89 L242.1,173.84 L242.6,174.69 L243.1,175.48 L243.6,176.21 L244.1,176.91 L244.6,177.59 L245.1,178.27 L245.6,178.97 L246.1,179.69 L246.6,180.46 L247.1,181.3 L247.6,182.23 L248.1,183.22 L248.6,184.24 L249.1,185.27 L249.6,186.27 L250.1,187.21 L250.6,188.06 L251.1,188.82 L251.6,189.54 L252.1,190.22 L252.6,190.87 L253.1,191.51 L253.6,192.13 L254.1,192.76 L254.6,193.4 L255.1,194.06 L255.6,194.75 L256.1,195.47 L256.6,196.2 L257.1,196.94 L257.6,197.68 L258.1,198.41 L258.6,199.13 L259.1,199.82 L259.6,200.48 L260.1,201.11 L260.6,201.73 L261.1,202.34 L261.6,202.93 L262.1,203.51 L262.6,204.07 L263.1,204.62 L263.6,205.14 L264.1,205.65 L264.6,206.13 L265.1,206.59 L265.6,207.09 L266.1,207.57 L266.6,208.02 L267.1,208.41 L267.6,208.69 L268.1,208.85 L268.6,208.97 L269.1,209.07 L269.6,209.16 L270.1,209.23 L270.6,209.28 L271.1,209.32 L271.6,209.33 L272.1,209.21 L272.6,208.92 L273.1,208.49 L273.6,207.97 L274.1,207.39 L274.6,206.79 L275.1,206.21 L275.6,205.57 L276.1,204.78 L276.6,203.75 L277.1,202.29 L277.6,199.28 L278.1,195.18 L278.6,189.44 L279.1,181.45 L279.6,170.62 L279.9,162.93 L280.1,158.68 L280.6,150.03 L281.1,143.93 L281.6,140.66 L282.1,138.26 L282.6,136.25 L283.1,134.22 L283.6,131.95 L284.1,129.82 L284.6,128.3 L285.1,127.46 L285.6,126.7 L286.1,126.01 L286.6,125.4 L287.1,124.87 L287.6,124.42 L288.1,124.08 L288.6,123.84 L289.1,123.71 L289.6,123.68 L290.1,123.68 L290.6,123.68 L291.1,123.68 L291.6,123.68 L292.1,123.69 L292.6,123.75 L293.1,123.88 L293.6,124.05 L294.1,124.27 L294.6,124.53 L295.1,124.81 L295.6,125.1 L296.1,125.41 L296.6,125.71 L297.1,126 L297.6,126.28 L298.1,126.55 L298.6,126.84 L299.1,127.14 L299.6,127.45 L300.1,127.77 L300.6,128.11 L301.1,128.47 L301.6,128.83 L302.1,129.21 L302.6,129.6 L303.1,130.03 L303.6,130.48 L304.1,130.98 L304.6,131.52 L305.1,132.16 L305.6,132.86 L306.1,133.63 L306.6,134.44 L307.1,135.27 L307.6,136.13 L308.1,136.98 L308.6,137.82 L309.1,138.63 L309.6,139.45 L310.1,140.28 L310.6,141.12 L311.1,141.97 L311.6,142.82 L312.1,143.69 L312.6,144.57 L313.1,145.46 L313.6,146.36 L314.1,147.28 L314.6,148.21 L315.1,149.15 L315.6,150.1 L316.1,151.05 L316.6,152.02 L317.1,152.99 L317.6,153.97 L318.1,154.96 L318.6,155.96 L319.1,156.98 L319.6,158 L320.1,159.04 L320.6,160.09 L321.1,161.15 L321.6,162.24 L322.1,163.33 L322.6,164.42 L323.1,165.53 L323.6,166.63 L324.1,167.75 L324.6,168.92 L325.1,170.1 L325.6,171.26 L326.1,172.36 L326.6,173.37 L327.1,174.27 L327.6,175.08 L328.1,175.84 L328.6,176.56 L329.1,177.24 L329.6,177.92 L330.1,178.6 L330.6,179.31 L331.1,180.05 L331.6,180.85 L332.1,181.73 L332.6,182.69 L333.1,183.7 L333.6,184.73 L334.1,185.75 L334.6,186.72 L335.1,187.62 L335.6,188.42 L336.1,189.16 L336.6,189.86 L337.1,190.53 L337.6,191.17 L338.1,191.8 L338.6,192.42 L339.1,193.05 L339.6,193.7 L340.1,194.38 L340.6,195.08 L341.1,195.8 L341.6,196.54 L342.1,197.28 L342.6,198.02 L343.1,198.74 L343.6,199.45 L344.1,200.12 L344.6,200.77 L345.1,201.39 L345.6,202 L346.1,202.6 L346.6,203.19 L347.1,203.76 L347.6,204.32 L348.1,204.85 L348.6,205.37 L349.1,205.86 L349.6,206.33 L350.1,206.81 L350.6,207.3 L351.1,207.77 L351.6,208.2 L352.1,208.54" fill="none" stroke="#D95319" stroke-width="2.1" stroke-linecap="round" stroke-dasharray="0.2,3.8"/></g><line x1="69.6" y1="93.3" x2="351.5" y2="93.3" stroke="#262626" stroke-opacity="0.6" stroke-width="1.3"/><line x1="69.6" y1="219.9" x2="351.5" y2="219.9" stroke="#262626" stroke-opacity="0.6" stroke-width="1.3"/><line x1="69.6" y1="92.7" x2="69.6" y2="220.5" stroke="#0072BD" stroke-opacity="0.8" stroke-width="1.1"/><line x1="351.5" y1="92.7" x2="351.5" y2="220.5" stroke="#D95319" stroke-opacity="0.65" stroke-width="1"/><line x1="163.57" y1="93.3" x2="163.57" y2="96.3" stroke="#262626" stroke-width="1"/><line x1="163.57" y1="219.9" x2="163.57" y2="216.9" stroke="#262626" stroke-width="1"/><line x1="257.53" y1="93.3" x2="257.53" y2="96.3" stroke="#262626" stroke-width="1"/><line x1="257.53" y1="219.9" x2="257.53" y2="216.9" stroke="#262626" stroke-width="1"/><line x1="69.6" y1="93.3" x2="72.6" y2="93.3" stroke="#0072BD" stroke-width="1"/><line x1="69.6" y1="156.6" x2="72.6" y2="156.6" stroke="#0072BD" stroke-width="1"/><line x1="69.6" y1="219.9" x2="72.6" y2="219.9" stroke="#0072BD" stroke-width="1"/><line x1="351.5" y1="105.96" x2="348.5" y2="105.96" stroke="#D95319" stroke-width="1"/><line x1="351.5" y1="137.61" x2="348.5" y2="137.61" stroke="#D95319" stroke-width="1"/><line x1="351.5" y1="169.26" x2="348.5" y2="169.26" stroke="#D95319" stroke-width="1"/><line x1="351.5" y1="200.91" x2="348.5" y2="200.91" stroke="#D95319" stroke-width="1"/><text x="65.6" y="96.75" text-anchor="end" style="font-family:'Liberation Sans',sans-serif;font-size:11px" fill="#0072BD" stroke="#0072BD" stroke-width="0.15">0</text><text x="65.6" y="160.05" text-anchor="end" style="font-family:'Liberation Sans',sans-serif;font-size:11px" fill="#0072BD" stroke="#0072BD" stroke-width="0.15">-0.2</text><text x="65.6" y="224.25" text-anchor="end" style="font-family:'Liberation Sans',sans-serif;font-size:11px" fill="#0072BD" stroke="#0072BD" stroke-width="0.15">-0.4</text><text x="355.0" y="109.86" style="font-family:'Liberation Sans',sans-serif;font-size:11px" fill="#D95319" stroke="#D95319" stroke-width="0.15">10</text><text x="355.0" y="141.51" style="font-family:'Liberation Sans',sans-serif;font-size:11px" fill="#D95319" stroke="#D95319" stroke-width="0.15">5</text><text x="355.0" y="173.16" style="font-family:'Liberation Sans',sans-serif;font-size:11px" fill="#D95319" stroke="#D95319" stroke-width="0.15">0</text><text x="355.0" y="204.81" style="font-family:'Liberation Sans',sans-serif;font-size:11px" fill="#D95319" stroke="#D95319" stroke-width="0.15">-5</text><rect x="40" y="222.8" width="27" height="2.5" fill="#fff"/><line x1="163.57" y1="228.3" x2="163.57" y2="354.8" stroke="#e3e3e3" stroke-width="1"/><line x1="257.53" y1="228.3" x2="257.53" y2="354.8" stroke="#e3e3e3" stroke-width="1"/><line x1="69.6" y1="291.55" x2="351.5" y2="291.55" stroke="#dfe9f3" stroke-width="1"/><g clip-path="url(#cl1)"><path d="M68.6,323.39 L69.1,323.45 L69.6,323.51 L70.1,323.58 L70.6,323.65 L71.1,323.73 L71.6,323.81 L72.1,323.9 L72.6,324 L73.1,324.1 L73.6,324.21 L74.1,324.33 L74.6,324.45 L75.1,324.57 L75.6,324.71 L76.1,324.84 L76.6,324.99 L77.1,325.14 L77.6,325.29 L78.1,325.45 L78.6,325.62 L79.1,325.79 L79.6,325.96 L80.1,326.14 L80.6,326.33 L81.1,326.52 L81.6,326.72 L82.1,326.92 L82.6,327.13 L83.1,327.34 L83.6,327.56 L84.1,327.78 L84.6,328 L85.1,328.23 L85.6,328.47 L86.1,328.71 L86.6,328.95 L87.1,329.2 L87.6,329.45 L88.1,329.71 L88.6,329.97 L89.1,330.24 L89.6,330.5 L90.1,330.78 L90.6,331.05 L91.1,331.33 L91.6,331.62 L92.1,331.9 L92.6,332.19 L93.1,332.49 L93.6,332.78 L94.1,333.08 L94.6,333.38 L95.1,333.69 L95.6,334 L96.1,334.31 L96.6,334.62 L97.1,334.94 L97.6,335.25 L98.1,335.57 L98.6,335.9 L99.1,336.22 L99.6,336.55 L100.1,336.88 L100.6,337.21 L101.1,337.54 L101.6,337.87 L102.1,338.2 L102.6,338.54 L103.1,338.88 L103.6,339.22 L104.1,339.55 L104.6,339.89 L105.1,340.23 L105.6,340.58 L106.1,340.92 L106.6,341.26 L107.1,341.6 L107.6,341.94 L107.9,342.15 L108.1,342.01 L108.6,341.66 L109.1,341.3 L109.6,340.95 L110.1,340.6 L110.6,340.25 L111.1,339.9 L111.6,339.55 L112.1,339.2 L112.6,338.85 L113.1,338.51 L113.6,338.16 L114.1,337.82 L114.6,337.47 L115.1,337.13 L115.6,336.79 L116.1,336.46 L116.6,336.12 L117.1,335.79 L117.6,335.46 L118.1,335.13 L118.6,334.8 L119.1,334.48 L119.6,334.16 L120.1,333.84 L120.6,333.52 L121.1,333.21 L121.6,332.9 L122.1,332.6 L122.6,332.29 L123.1,331.99 L123.6,331.7 L124.1,331.41 L124.6,331.12 L125.1,330.83 L125.6,330.55 L126.1,330.27 L126.6,330 L127.1,329.73 L127.6,329.47 L128.1,329.21 L128.6,328.95 L129.1,328.7 L129.6,328.46 L130.1,328.21 L130.6,327.98 L131.1,327.74 L131.6,327.52 L132.1,327.3 L132.6,327.08 L133.1,326.87 L133.6,326.66 L134.1,326.46 L134.6,326.26 L135.1,326.07 L135.6,325.89 L136.1,325.71 L136.6,325.54 L137.1,325.37 L137.6,325.21 L138.1,325.05 L138.6,324.9 L139.1,324.76 L139.6,324.62 L140.1,324.49 L140.6,324.36 L141.1,324.24 L141.6,324.13 L142.1,324.02 L142.6,323.92 L143.1,323.83 L143.6,323.74 L144.1,323.66 L144.6,323.58 L145.1,323.51 L145.6,323.45 L146.1,323.39 L146.6,323.34 L147.1,323.3 L147.6,323.26 L148.1,323.23 L148.6,323.21 L149.1,323.19 L149.6,323.18 L150.1,323.18 L150.6,323.18 L151.1,323.19 L151.6,323.2 L152.1,323.22 L152.6,323.25 L153.1,323.29 L153.6,323.33 L154.1,323.38 L154.6,323.43 L155.1,323.49 L155.6,323.56 L156.1,323.63 L156.6,323.71 L157.1,323.8 L157.6,323.89 L158.1,323.99 L158.6,324.1 L159.1,324.21 L159.6,324.33 L160.1,324.45 L160.6,324.58 L161.1,324.72 L161.6,324.86 L162.1,325.01 L162.6,325.16 L163.1,325.32 L163.6,325.49 L164.1,325.66 L164.6,325.84 L165.1,326.02 L165.6,326.21 L166.1,326.4 L166.6,326.6 L167.1,326.81 L167.6,327.02 L168.1,327.23 L168.6,327.45 L169.1,327.68 L169.6,327.91 L170.1,328.14 L170.6,328.38 L171.1,328.63 L171.6,328.88 L172.1,329.13 L172.6,329.39 L173.1,329.65 L173.6,329.92 L174.1,330.19 L174.6,330.47 L175.1,330.75 L175.6,331.03 L176.1,331.32 L176.6,331.61 L177.1,331.9 L177.6,332.2 L178.1,332.51 L178.6,332.81 L179.1,333.12 L179.6,333.43 L180.1,333.75 L180.6,334.06 L181.1,334.38 L181.6,334.71 L182.1,335.03 L182.6,335.36 L183.1,335.69 L183.6,336.02 L184.1,336.36 L184.6,336.69 L185.1,337.03 L185.6,337.37 L186.1,337.71 L186.6,338.06 L187.1,338.4 L187.6,338.75 L188.1,339.1 L188.6,339.44 L189.1,339.79 L189.6,340.14 L190.1,340.5 L190.6,340.85 L191.1,341.2 L191.6,341.55 L192.1,341.9 L192.45,342.15 L192.6,342.04 L193.1,341.69 L193.6,341.34 L194.1,340.99 L194.6,340.64 L195.1,340.28 L195.6,339.93 L196.1,339.58 L196.6,339.24 L197.1,338.89 L197.6,338.54 L198.1,338.2 L198.6,337.85 L199.1,337.51 L199.6,337.17 L200.1,336.83 L200.6,336.49 L201.1,336.16 L201.6,335.82 L202.1,335.49 L202.6,335.16 L203.1,334.84 L203.6,334.51 L204.1,334.19 L204.6,333.87 L205.1,333.56 L205.6,333.24 L206.1,332.93 L206.6,332.63 L207.1,332.32 L207.6,332.02 L208.1,331.73 L208.6,331.43 L209.1,331.15 L209.6,330.86 L210.1,330.58 L210.6,330.3 L211.1,330.03 L211.6,329.76 L212.1,329.49 L212.6,329.23 L213.1,328.98 L213.6,328.73 L214.1,328.48 L214.6,328.24 L215.1,328 L215.6,327.77 L216.1,327.54 L216.6,327.32 L217.1,327.1 L217.6,326.89 L218.1,326.68 L218.6,326.48 L219.1,326.28 L219.6,326.09 L220.1,325.91 L220.6,325.73 L221.1,325.56 L221.6,325.39 L222.1,325.22 L222.6,325.07 L223.1,324.92 L223.6,324.77 L224.1,324.63 L224.6,324.5 L225.1,324.38 L225.6,324.26 L226.1,324.14 L226.6,324.03 L227.1,323.93 L227.6,323.84 L228.1,323.75 L228.6,323.66 L229.1,323.59 L229.6,323.52 L230.1,323.45 L230.6,323.4 L231.1,323.35 L231.6,323.3 L232.1,323.27 L232.6,323.23 L233.1,323.21 L233.6,323.19 L234.1,323.18 L234.6,323.18 L235.1,323.18 L235.6,323.19 L236.1,323.2 L236.6,323.22 L237.1,323.25 L237.6,323.28 L238.1,323.32 L238.6,323.37 L239.1,323.43 L239.6,323.49 L240.1,323.55 L240.6,323.63 L241.1,323.7 L241.6,323.79 L242.1,323.88 L242.6,323.98 L243.1,324.09 L243.6,324.2 L244.1,324.31 L244.6,324.44 L245.1,324.57 L245.6,324.7 L246.1,324.84 L246.6,324.99 L247.1,325.15 L247.6,325.31 L248.1,325.47 L248.6,325.64 L249.1,325.82 L249.6,326 L250.1,326.19 L250.6,326.38 L251.1,326.58 L251.6,326.78 L252.1,326.99 L252.6,327.21 L253.1,327.43 L253.6,327.65 L254.1,327.88 L254.6,328.12 L255.1,328.36 L255.6,328.6 L256.1,328.85 L256.6,329.11 L257.1,329.36 L257.6,329.63 L258.1,329.89 L258.6,330.16 L259.1,330.44 L259.6,330.72 L260.1,331 L260.6,331.29 L261.1,331.58 L261.6,331.88 L262.1,332.17 L262.6,332.47 L263.1,332.78 L263.6,333.09 L264.1,333.4 L264.6,333.71 L265.1,334.03 L265.6,334.35 L266.1,334.67 L266.6,335 L267.1,335.33 L267.6,335.66 L268.1,335.99 L268.6,336.32 L269.1,336.66 L269.6,337 L270.1,337.34 L270.6,337.68 L271.1,338.02 L271.6,338.37 L272.1,338.71 L272.6,339.06 L273.1,339.41 L273.6,339.76 L274.1,340.11 L274.6,340.46 L275.1,340.81 L275.6,341.16 L276.1,341.52 L276.6,341.87 L277,342.15 L277.1,342.08 L277.6,341.73 L278.1,341.37 L278.6,341.02 L279.1,340.67 L279.6,340.32 L280.1,339.97 L280.6,339.62 L281.1,339.27 L281.6,338.92 L282.1,338.57 L282.6,338.23 L283.1,337.88 L283.6,337.54 L284.1,337.2 L284.6,336.86 L285.1,336.52 L285.6,336.19 L286.1,335.85 L286.6,335.52 L287.1,335.19 L287.6,334.86 L288.1,334.54 L288.6,334.22 L289.1,333.9 L289.6,333.58 L290.1,333.27 L290.6,332.96 L291.1,332.65 L291.6,332.35 L292.1,332.05 L292.6,331.75 L293.1,331.46 L293.6,331.17 L294.1,330.88 L294.6,330.6 L295.1,330.32 L295.6,330.05 L296.1,329.78 L296.6,329.51 L297.1,329.25 L297.6,329 L298.1,328.75 L298.6,328.5 L299.1,328.26 L299.6,328.02 L300.1,327.78 L300.6,327.56 L301.1,327.33 L301.6,327.12 L302.1,326.9 L302.6,326.7 L303.1,326.49 L303.6,326.3 L304.1,326.11 L304.6,325.92 L305.1,325.74 L305.6,325.57 L306.1,325.4 L306.6,325.24 L307.1,325.08 L307.6,324.93 L308.1,324.78 L308.6,324.64 L309.1,324.51 L309.6,324.38 L310.1,324.26 L310.6,324.15 L311.1,324.04 L311.6,323.94 L312.1,323.84 L312.6,323.75 L313.1,323.67 L313.6,323.59 L314.1,323.52 L314.6,323.46 L315.1,323.4 L315.6,323.35 L316.1,323.3 L316.6,323.27 L317.1,323.24 L317.6,323.21 L318.1,323.19 L318.6,323.18 L319.1,323.18 L319.6,323.18 L320.1,323.18 L320.6,323.2 L321.1,323.22 L321.6,323.25 L322.1,323.28 L322.6,323.32 L323.1,323.37 L323.6,323.42 L324.1,323.48 L324.6,323.55 L325.1,323.62 L325.6,323.7 L326.1,323.79 L326.6,323.88 L327.1,323.98 L327.6,324.08 L328.1,324.19 L328.6,324.31 L329.1,324.43 L329.6,324.56 L330.1,324.7 L330.6,324.84 L331.1,324.99 L331.6,325.14 L332.1,325.3 L332.6,325.46 L333.1,325.64 L333.6,325.81 L334.1,325.99 L334.6,326.18 L335.1,326.38 L335.6,326.57 L336.1,326.78 L336.6,326.99 L337.1,327.2 L337.6,327.42 L338.1,327.65 L338.6,327.88 L339.1,328.11 L339.6,328.35 L340.1,328.6 L340.6,328.85 L341.1,329.1 L341.6,329.36 L342.1,329.62 L342.6,329.89 L343.1,330.16 L343.6,330.43 L344.1,330.71 L344.6,331 L345.1,331.28 L345.6,331.58 L346.1,331.87 L346.6,332.17 L347.1,332.47 L347.6,332.77 L348.1,333.08 L348.6,333.39 L349.1,333.71 L349.6,334.03 L350.1,334.35 L350.6,334.67 L351.1,334.99 L351.6,335.32 L352.1,335.65" fill="none" stroke="#0072BD" stroke-width="2.2" stroke-linejoin="round"/><path d="M68.6,303.25 L69.1,303.29 L69.6,303.71 L70.1,303.83 L70.6,303.87 L71.1,304.05 L71.6,304.16 L72.1,304.05 L72.6,304 L73.1,303.93 L73.6,304.07 L74.1,303.82 L74.6,303.65 L75.1,303.97 L75.6,303.86 L76.1,303.44 L76.6,303.29 L77.1,303.17 L77.6,303.05 L78.1,302.92 L78.6,302.87 L79.1,302.86 L79.6,302.53 L80.1,302.52 L80.6,302.46 L81.1,302.34 L81.6,302.55 L82.1,302.73 L82.6,302.74 L83.1,302.59 L83.6,302.71 L84.1,302.41 L84.6,302.55 L85.1,302.71 L85.6,303.04 L86.1,302.89 L86.6,302.73 L87.1,302.99 L87.6,303.33 L88.1,303.27 L88.6,303.59 L89.1,303.68 L89.6,303.49 L90.1,303.39 L90.6,303.43 L91.1,303.66 L91.6,303.28 L92.1,303.18 L92.6,303.06 L93.1,303.1 L93.6,303 L94.1,303.13 L94.6,303.31 L95.1,303.28 L95.6,303.17 L96.1,303.46 L96.6,303.41 L97.1,303.63 L97.6,303.36 L98.1,303.32 L98.6,303.42 L99.1,303.13 L99.6,302.9 L100.1,302.63 L100.6,302.49 L101.1,302.46 L101.6,302.34 L102.1,302.34 L102.6,302.39 L103.1,302.34 L103.6,302.42 L104.1,302.88 L104.6,303.43 L104.9,303.25 L105.7,291.55 L106.5,311.79 L107.3,288.39 L108.1,320.64 L108.8,299.14 L109.5,318.12 L110.3,304.2 L111.3,308.63 L112.9,306.1 L114.9,303.25 L115.1,303.27 L115.6,303.18 L116.1,303.02 L116.6,302.67 L117.1,302.81 L117.6,302.63 L118.1,302.34 L118.6,302.34 L119.1,302.44 L119.6,302.66 L120.1,302.35 L120.6,302.34 L121.1,302.43 L121.6,302.34 L122.1,302.54 L122.6,302.63 L123.1,302.73 L123.6,302.77 L124.1,302.59 L124.6,302.93 L125.1,303.44 L125.6,303.47 L126.1,303.68 L126.6,303.43 L127.1,303.62 L127.6,303.64 L128.1,304.05 L128.6,303.97 L129.1,303.88 L129.6,303.46 L130.1,303.22 L130.6,303.1 L131.1,303.32 L131.6,303.37 L132.1,303.5 L132.6,303.22 L133.1,303.4 L133.6,303.74 L134.1,303.85 L134.6,304.16 L135.1,304.16 L135.6,304.08 L136.1,303.99 L136.6,303.82 L137.1,303.83 L137.6,303.93 L138.1,303.88 L138.6,303.94 L139.1,303.43 L139.6,303.18 L140.1,302.97 L140.6,302.81 L141.1,302.9 L141.6,302.6 L142.1,302.52 L142.6,302.34 L143.1,302.34 L143.6,302.58 L144.1,302.94 L144.6,303.16 L145.1,303.43 L145.6,303.38 L146.1,303.25 L146.6,303.26 L147.1,303.28 L147.6,303.16 L148.1,303.07 L148.6,303.17 L149.1,303.19 L149.6,302.88 L150.1,302.79 L150.6,303.11 L151.1,302.87 L151.6,302.93 L152.1,303 L152.6,303.19 L153.1,302.79 L153.6,303.06 L154.1,303.3 L154.6,303.42 L155.1,303.34 L155.6,303.48 L156.1,303.17 L156.6,303.42 L157.1,303.22 L157.6,303.49 L158.1,303.3 L158.6,303.12 L159.1,303.18 L159.6,303.59 L160.1,303.74 L160.6,304.16 L161.1,304.03 L161.6,304.09 L162.1,304 L162.6,303.66 L163.1,303.77 L163.6,303.86 L164.1,303.66 L164.6,303.75 L165.1,303.7 L165.6,303.54 L166.1,303.69 L166.6,304.04 L167.1,304.16 L167.6,304.16 L168.1,303.87 L168.6,303.74 L169.1,303.51 L169.6,303.32 L170.1,303.2 L170.6,303.04 L171.1,302.68 L171.6,302.73 L172.1,302.93 L172.6,303.01 L173.1,303.06 L173.6,303.13 L174.1,303.34 L174.6,303.28 L175.1,303.33 L175.6,303.57 L176.1,303.89 L176.6,303.71 L177.1,303.7 L177.6,303.77 L178.1,303.78 L178.6,303.68 L179.1,303.84 L179.6,303.96 L180.1,303.79 L180.6,303.38 L181.1,302.95 L181.6,303.09 L182.1,303.05 L182.6,303.19 L183.1,302.98 L183.6,303.23 L184.1,303.2 L184.6,303.2 L185.1,303.49 L185.6,304.02 L186.1,303.94 L186.6,304.16 L187.1,304.16 L187.6,304.16 L188.1,304.16 L188.6,304.16 L189.1,304.16 L189.45,303.25 L190.25,291.55 L191.05,311.79 L191.85,288.39 L192.65,320.64 L193.35,299.14 L194.05,318.12 L194.85,304.2 L195.85,308.63 L197.45,306.1 L199.45,303.25 L199.6,302.59 L200.1,302.81 L200.6,302.98 L201.1,303 L201.6,303.37 L202.1,303.47 L202.6,303.19 L203.1,303.13 L203.6,303.06 L204.1,303.41 L204.6,303.2 L205.1,302.63 L205.6,302.47 L206.1,302.43 L206.6,302.42 L207.1,302.35 L207.6,302.54 L208.1,302.68 L208.6,302.44 L209.1,302.46 L209.6,302.85 L210.1,302.92 L210.6,303 L211.1,303 L211.6,303.29 L212.1,303.32 L212.6,303.31 L213.1,303.25 L213.6,303.5 L214.1,303.47 L214.6,303.42 L215.1,303.54 L215.6,303.53 L216.1,303.67 L216.6,303.33 L217.1,302.97 L217.6,302.8 L218.1,302.69 L218.6,302.54 L219.1,302.62 L219.6,302.45 L220.1,302.34 L220.6,302.34 L221.1,302.34 L221.6,302.65 L222.1,302.74 L222.6,302.68 L223.1,302.89 L223.6,302.87 L224.1,302.77 L224.6,303 L225.1,302.73 L225.6,302.97 L226.1,303.28 L226.6,303.36 L227.1,303.28 L227.6,303.16 L228.1,303.19 L228.6,303.14 L229.1,303.22 L229.6,303.4 L230.1,303.35 L230.6,302.85 L231.1,303.19 L231.6,303.12 L232.1,303.24 L232.6,303.41 L233.1,303.38 L233.6,303.32 L234.1,303.41 L234.6,303.44 L235.1,303.48 L235.6,303.09 L236.1,303.33 L236.6,303.18 L237.1,302.9 L237.6,303.19 L238.1,303.12 L238.6,302.93 L239.1,302.96 L239.6,303.17 L240.1,303.34 L240.6,303.27 L241.1,303.42 L241.6,303.59 L242.1,303.32 L242.6,303.35 L243.1,303.21 L243.6,302.95 L244.1,302.78 L244.6,302.45 L245.1,302.58 L245.6,302.37 L246.1,302.36 L246.6,302.34 L247.1,302.34 L247.6,302.45 L248.1,302.78 L248.6,302.76 L249.1,302.99 L249.6,302.75 L250.1,302.88 L250.6,302.77 L251.1,302.95 L251.6,303.22 L252.1,302.77 L252.6,302.96 L253.1,302.97 L253.6,303.24 L254.1,303.21 L254.6,303.23 L255.1,303.43 L255.6,303.48 L256.1,303.6 L256.6,303.89 L257.1,303.79 L257.6,303.89 L258.1,303.66 L258.6,303.65 L259.1,303.64 L259.6,303.34 L260.1,303.4 L260.6,303.27 L261.1,303.05 L261.6,302.66 L262.1,302.7 L262.6,302.81 L263.1,302.99 L263.6,302.96 L264.1,303.25 L264.6,303.1 L265.1,303.15 L265.6,303.16 L266.1,303.45 L266.6,303.34 L267.1,303.25 L267.6,303.28 L268.1,302.99 L268.6,302.8 L269.1,302.69 L269.6,302.48 L270.1,302.65 L270.6,302.59 L271.1,302.57 L271.6,302.62 L272.1,302.55 L272.6,302.9 L273.1,303.23 L273.6,303.53 L274,303.25 L274.8,291.55 L275.6,311.79 L276.4,288.39 L277.2,320.64 L277.9,299.14 L278.6,318.12 L279.4,304.2 L280.4,308.63 L282,306.1 L284,303.25 L284.1,302.97 L284.6,303.22 L285.1,302.92 L285.6,303.01 L286.1,302.83 L286.6,302.83 L287.1,302.65 L287.6,303.22 L288.1,303.29 L288.6,303.18 L289.1,303.08 L289.6,303.29 L290.1,303.29 L290.6,303.63 L291.1,303.6 L291.6,303.5 L292.1,303.03 L292.6,303.15 L293.1,303.41 L293.6,303.42 L294.1,303.15 L294.6,303.23 L295.1,303.13 L295.6,303.01 L296.1,303.25 L296.6,303.48 L297.1,303.48 L297.6,303.58 L298.1,303.63 L298.6,304.11 L299.1,303.88 L299.6,303.87 L300.1,303.93 L300.6,303.78 L301.1,303.55 L301.6,303.55 L302.1,303.19 L302.6,302.91 L303.1,302.68 L303.6,302.94 L304.1,302.86 L304.6,303.17 L305.1,303.23 L305.6,303.77 L306.1,303.77 L306.6,303.94 L307.1,304.15 L307.6,304.01 L308.1,303.83 L308.6,303.84 L309.1,303.43 L309.6,303.97 L310.1,303.61 L310.6,303.55 L311.1,303.49 L311.6,303.42 L312.1,303.59 L312.6,303.72 L313.1,303.57 L313.6,303.69 L314.1,303.47 L314.6,303.16 L315.1,302.71 L315.6,302.95 L316.1,302.94 L316.6,302.42 L317.1,302.34 L317.6,302.34 L318.1,302.38 L318.6,302.35 L319.1,302.69 L319.6,303.12 L320.1,302.79 L320.6,302.9 L321.1,303.34 L321.6,303.64 L322.1,303.68 L322.6,303.79 L323.1,303.73 L323.6,303.54 L324.1,303.4 L324.6,303.44 L325.1,303.33 L325.6,303.25 L326.1,303.09 L326.6,303.13 L327.1,302.88 L327.6,303.02 L328.1,302.97 L328.6,303.02 L329.1,303.21 L329.6,303.34 L330.1,303.45 L330.6,303.4 L331.1,303.47 L331.6,303.41 L332.1,303.36 L332.6,303.91 L333.1,304.02 L333.6,304.16 L334.1,304.14 L334.6,303.88 L335.1,303.81 L335.6,303.9 L336.1,304.16 L336.6,303.8 L337.1,303.41 L337.6,303.3 L338.1,302.84 L338.6,302.47 L339.1,302.43 L339.6,302.51 L340.1,302.34 L340.6,302.34 L341.1,302.4 L341.6,302.61 L342.1,302.6 L342.6,302.91 L343.1,303.28 L343.6,303.47 L344.1,303.13 L344.6,303.32 L345.1,303.43 L345.6,303.36 L346.1,303.13 L346.6,302.98 L347.1,302.91 L347.6,303.03 L348.1,303.29 L348.6,303.78 L349.1,303.57 L349.6,303.55 L350.1,303.68 L350.6,303.8 L351.1,303.95 L351.6,303.8 L352.1,303.77" fill="none" stroke="#D95319" stroke-width="1.7" stroke-linejoin="round"/><path d="M68.6,273.2 L69.1,272.86 L69.6,272.55 L70.1,272.25 L70.6,271.96 L71.1,271.69 L71.6,271.43 L72.1,271.18 L72.6,270.94 L73.1,270.71 L73.6,270.48 L74.1,270.27 L74.6,270.06 L75.1,269.86 L75.6,269.67 L76.1,269.47 L76.6,269.28 L77.1,269.07 L77.6,268.85 L78.1,268.64 L78.6,268.44 L79.1,268.27 L79.6,268.14 L80.1,268.05 L80.6,268.02 L81.1,268.03 L81.6,268.06 L82.1,268.09 L82.6,268.14 L83.1,268.2 L83.6,268.26 L84.1,268.36 L84.6,268.52 L85.1,268.74 L85.6,269 L86.1,269.3 L86.6,269.64 L87.1,269.99 L87.6,270.36 L88.1,270.73 L88.6,271.09 L89.1,271.44 L89.6,271.8 L90.1,272.18 L90.6,272.58 L91.1,272.99 L91.6,273.42 L92.1,273.86 L92.6,274.31 L93.1,274.77 L93.6,275.23 L94.1,275.7 L94.6,276.18 L95.1,276.65 L95.6,277.13 L96.1,277.61 L96.6,278.1 L97.1,278.61 L97.6,279.14 L98.1,279.69 L98.6,280.28 L99.1,280.89 L99.6,281.55 L100.1,282.23 L100.6,282.94 L101.1,283.7 L101.6,284.52 L102.1,285.4 L102.6,286.36 L103.1,287.41 L103.6,288.56 L104.1,289.9 L104.6,291.49 L105.1,293.32 L105.6,295.41 L106.1,297.91 L106.6,300.9 L107.1,304.32 L107.6,308.1 L107.9,310.53 L108.1,311.62 L108.6,314.21 L109.1,316.34 L109.6,317.74 L110.1,318.23 L110.6,318.47 L111.1,318.64 L111.6,318.73 L112.1,318.73 L112.6,318.56 L113.1,318.26 L113.6,317.87 L114.1,317.45 L114.6,317.06 L115.1,316.72 L115.6,316.42 L116.1,316.11 L116.6,315.8 L117.1,315.49 L117.6,315.16 L118.1,314.81 L118.6,314.46 L119.1,314.1 L119.6,313.74 L120.1,313.37 L120.6,312.98 L121.1,312.59 L121.6,312.17 L122.1,311.74 L122.6,311.29 L123.1,310.82 L123.6,310.32 L124.1,309.74 L124.6,309.1 L125.1,308.42 L125.6,307.73 L126.1,307.06 L126.6,306.44 L127.1,305.88 L127.6,305.37 L128.1,304.88 L128.6,304.41 L129.1,303.95 L129.6,303.5 L130.1,303.04 L130.6,302.58 L131.1,302.11 L131.6,301.66 L132.1,301.21 L132.6,300.77 L133.1,300.32 L133.6,299.85 L134.1,299.36 L134.6,298.84 L135.1,298.27 L135.6,297.63 L136.1,296.92 L136.6,296.17 L137.1,295.4 L137.6,294.62 L138.1,293.85 L138.6,293.12 L139.1,292.44 L139.6,291.82 L140.1,291.26 L140.6,290.75 L141.1,290.25 L141.6,289.77 L142.1,289.29 L142.6,288.79 L143.1,288.27 L143.6,287.7 L144.1,287.07 L144.6,286.36 L145.1,285.51 L145.6,284.54 L146.1,283.51 L146.6,282.47 L147.1,281.44 L147.6,280.49 L148.1,279.65 L148.6,278.95 L149.1,278.31 L149.6,277.69 L150.1,277.1 L150.6,276.54 L151.1,276 L151.6,275.48 L152.1,275 L152.6,274.53 L153.1,274.1 L153.6,273.69 L154.1,273.31 L154.6,272.96 L155.1,272.63 L155.6,272.32 L156.1,272.02 L156.6,271.73 L157.1,271.46 L157.6,271.2 L158.1,270.96 L158.6,270.72 L159.1,270.49 L159.6,270.27 L160.1,270.06 L160.6,269.85 L161.1,269.65 L161.6,269.45 L162.1,269.25 L162.6,269.03 L163.1,268.81 L163.6,268.59 L164.1,268.4 L164.6,268.23 L165.1,268.1 L165.6,268.03 L166.1,268.02 L166.6,268.04 L167.1,268.07 L167.6,268.11 L168.1,268.17 L168.6,268.23 L169.1,268.31 L169.6,268.44 L170.1,268.64 L170.6,268.9 L171.1,269.2 L171.6,269.53 L172.1,269.89 L172.6,270.27 L173.1,270.65 L173.6,271.02 L174.1,271.38 L174.6,271.75 L175.1,272.14 L175.6,272.55 L176.1,272.97 L176.6,273.41 L177.1,273.86 L177.6,274.33 L178.1,274.8 L178.6,275.28 L179.1,275.76 L179.6,276.25 L180.1,276.74 L180.6,277.23 L181.1,277.73 L181.6,278.24 L182.1,278.77 L182.6,279.32 L183.1,279.9 L183.6,280.51 L184.1,281.16 L184.6,281.85 L185.1,282.56 L185.6,283.32 L186.1,284.13 L186.6,285.01 L187.1,285.96 L187.6,287 L188.1,288.15 L188.6,289.44 L189.1,291 L189.6,292.81 L190.1,294.89 L190.6,297.35 L191.1,300.34 L191.6,303.78 L192.1,307.63 L192.45,310.53 L192.6,311.35 L193.1,313.96 L193.6,316.15 L194.1,317.64 L194.6,318.2 L195.1,318.44 L195.6,318.62 L196.1,318.73 L196.6,318.74 L197.1,318.59 L197.6,318.3 L198.1,317.92 L198.6,317.5 L199.1,317.09 L199.6,316.76 L200.1,316.45 L200.6,316.14 L201.1,315.83 L201.6,315.52 L202.1,315.19 L202.6,314.85 L203.1,314.5 L203.6,314.14 L204.1,313.78 L204.6,313.41 L205.1,313.02 L205.6,312.63 L206.1,312.22 L206.6,311.79 L207.1,311.34 L207.6,310.87 L208.1,310.37 L208.6,309.8 L209.1,309.16 L209.6,308.49 L210.1,307.8 L210.6,307.13 L211.1,306.5 L211.6,305.94 L212.1,305.42 L212.6,304.93 L213.1,304.45 L213.6,303.99 L214.1,303.54 L214.6,303.09 L215.1,302.63 L215.6,302.16 L216.1,301.7 L216.6,301.26 L217.1,300.81 L217.6,300.36 L218.1,299.9 L218.6,299.41 L219.1,298.9 L219.6,298.33 L220.1,297.7 L220.6,297 L221.1,296.25 L221.6,295.48 L222.1,294.69 L222.6,293.92 L223.1,293.19 L223.6,292.5 L224.1,291.88 L224.6,291.32 L225.1,290.8 L225.6,290.3 L226.1,289.82 L226.6,289.34 L227.1,288.84 L227.6,288.32 L228.1,287.76 L228.6,287.14 L229.1,286.44 L229.6,285.6 L230.1,284.64 L230.6,283.62 L231.1,282.57 L231.6,281.54 L232.1,280.58 L232.6,279.72 L233.1,279.02 L233.6,278.37 L234.1,277.75 L234.6,277.16 L235.1,276.59 L235.6,276.05 L236.1,275.53 L236.6,275.04 L237.1,274.58 L237.6,274.14 L238.1,273.73 L238.6,273.35 L239.1,272.99 L239.6,272.66 L240.1,272.35 L240.6,272.05 L241.1,271.76 L241.6,271.49 L242.1,271.23 L242.6,270.98 L243.1,270.74 L243.6,270.51 L244.1,270.29 L244.6,270.08 L245.1,269.87 L245.6,269.67 L246.1,269.47 L246.6,269.27 L247.1,269.05 L247.6,268.83 L248.1,268.61 L248.6,268.41 L249.1,268.24 L249.6,268.12 L250.1,268.04 L250.6,268.02 L251.1,268.04 L251.6,268.07 L252.1,268.11 L252.6,268.16 L253.1,268.23 L253.6,268.3 L254.1,268.43 L254.6,268.62 L255.1,268.87 L255.6,269.17 L256.1,269.5 L256.6,269.85 L257.1,270.23 L257.6,270.61 L258.1,270.98 L258.6,271.35 L259.1,271.71 L259.6,272.1 L260.1,272.51 L260.6,272.93 L261.1,273.37 L261.6,273.82 L262.1,274.28 L262.6,274.75 L263.1,275.23 L263.6,275.71 L264.1,276.2 L264.6,276.69 L265.1,277.18 L265.6,277.68 L266.1,278.19 L266.6,278.71 L267.1,279.26 L267.6,279.84 L268.1,280.45 L268.6,281.09 L269.1,281.78 L269.6,282.49 L270.1,283.24 L270.6,284.05 L271.1,284.92 L271.6,285.86 L272.1,286.89 L272.6,288.03 L273.1,289.3 L273.6,290.83 L274.1,292.62 L274.6,294.67 L275.1,297.08 L275.6,300.02 L276.1,303.42 L276.6,307.23 L277,310.53 L277.1,311.08 L277.6,313.72 L278.1,315.96 L278.6,317.53 L279.1,318.17 L279.6,318.42 L280.1,318.61 L280.6,318.72 L281.1,318.74 L281.6,318.61 L282.1,318.33 L282.6,317.95 L283.1,317.54 L283.6,317.13 L284.1,316.78 L284.6,316.47 L285.1,316.17 L285.6,315.86 L286.1,315.55 L286.6,315.22 L287.1,314.88 L287.6,314.53 L288.1,314.17 L288.6,313.81 L289.1,313.44 L289.6,313.06 L290.1,312.66 L290.6,312.25 L291.1,311.82 L291.6,311.38 L292.1,310.91 L292.6,310.41 L293.1,309.85 L293.6,309.22 L294.1,308.54 L294.6,307.85 L295.1,307.18 L295.6,306.55 L296.1,305.98 L296.6,305.46 L297.1,304.96 L297.6,304.49 L298.1,304.03 L298.6,303.57 L299.1,303.12 L299.6,302.66 L300.1,302.2 L300.6,301.74 L301.1,301.29 L301.6,300.84 L302.1,300.4 L302.6,299.93 L303.1,299.45 L303.6,298.93 L304.1,298.37 L304.6,297.74 L305.1,297.04 L305.6,296.3 L306.1,295.53 L306.6,294.74 L307.1,293.97 L307.6,293.23 L308.1,292.54 L308.6,291.92 L309.1,291.35 L309.6,290.83 L310.1,290.33 L310.6,289.85 L311.1,289.37 L311.6,288.87 L312.1,288.35 L312.6,287.79 L313.1,287.18 L313.6,286.48 L314.1,285.65 L314.6,284.7 L315.1,283.68 L315.6,282.63 L316.1,281.6 L316.6,280.63 L317.1,279.77 L317.6,279.05 L318.1,278.41 L318.6,277.78 L319.1,277.19 L319.6,276.62 L320.1,276.08 L320.6,275.56 L321.1,275.07 L321.6,274.6 L322.1,274.16 L322.6,273.75 L323.1,273.37 L323.6,273.01 L324.1,272.68 L324.6,272.36 L325.1,272.06 L325.6,271.77 L326.1,271.5 L326.6,271.24 L327.1,270.99 L327.6,270.75 L328.1,270.52 L328.6,270.3 L329.1,270.09 L329.6,269.88 L330.1,269.68 L330.6,269.48 L331.1,269.28 L331.6,269.06 L332.1,268.84 L332.6,268.62 L333.1,268.42 L333.6,268.25 L334.1,268.12 L334.6,268.04 L335.1,268.02 L335.6,268.04 L336.1,268.07 L336.6,268.11 L337.1,268.16 L337.6,268.22 L338.1,268.3 L338.6,268.42 L339.1,268.62 L339.6,268.86 L340.1,269.16 L340.6,269.49 L341.1,269.85 L341.6,270.22 L342.1,270.6 L342.6,270.97 L343.1,271.34 L343.6,271.7 L344.1,272.09 L344.6,272.5 L345.1,272.92 L345.6,273.36 L346.1,273.81 L346.6,274.27 L347.1,274.74 L347.6,275.22 L348.1,275.7 L348.6,276.19 L349.1,276.68 L349.6,277.17 L350.1,277.67 L350.6,278.18 L351.1,278.71 L351.6,279.26 L352.1,279.83" fill="none" stroke="#D95319" stroke-width="1.9" stroke-dasharray="7,7.8"/><path d="M68.6,305.18 L69.1,306.19 L69.6,307.18 L70.1,308.15 L70.6,309.11 L71.1,310.08 L71.6,311.05 L72.1,312 L72.6,312.95 L73.1,313.9 L73.6,314.86 L74.1,315.84 L74.6,316.84 L75.1,317.83 L75.6,318.8 L76.1,319.73 L76.6,320.6 L77.1,321.45 L77.6,322.27 L78.1,323.06 L78.6,323.81 L79.1,324.53 L79.6,325.2 L80.1,325.83 L80.6,326.44 L81.1,327.04 L81.6,327.63 L82.1,328.22 L82.6,328.82 L83.1,329.44 L83.6,330.08 L84.1,330.71 L84.6,331.35 L85.1,331.97 L85.6,332.57 L86.1,333.14 L86.6,333.69 L87.1,334.23 L87.6,334.77 L88.1,335.29 L88.6,335.78 L89.1,336.24 L89.6,336.65 L90.1,337.02 L90.6,337.36 L91.1,337.67 L91.6,337.97 L92.1,338.24 L92.6,338.51 L93.1,338.77 L93.6,339.03 L94.1,339.29 L94.6,339.56 L95.1,339.87 L95.6,340.19 L96.1,340.52 L96.6,340.81 L97.1,341.05 L97.6,341.21 L98.1,341.26 L98.6,341.18 L99.1,340.96 L99.6,340.62 L100.1,340.18 L100.6,339.67 L101.1,338.82 L101.6,337.36 L102.1,335.49 L102.6,333.43 L103.1,330.98 L103.6,327.15 L104.1,320.07 L104.6,313.69 L105.1,305.29 L105.6,307.82 L106.1,318.19 L106.6,330.57 L107.1,338.6 L107.6,342.12 L107.9,340.88 L108.1,329.74 L108.6,308.44 L109.1,297.48 L109.6,288.96 L110.1,279.58 L110.6,272.09 L111.1,266.56 L111.6,263.18 L112.1,261.08 L112.6,259.45 L113.1,258.29 L113.6,257.61 L114.1,257.17 L114.6,256.84 L115.1,256.57 L115.6,256.34 L116.1,256.13 L116.6,255.9 L117.1,255.67 L117.6,255.46 L118.1,255.3 L118.6,255.2 L119.1,255.2 L119.6,255.36 L120.1,255.69 L120.6,256.13 L121.1,256.68 L121.6,257.28 L122.1,257.92 L122.6,258.56 L123.1,259.18 L123.6,259.79 L124.1,260.49 L124.6,261.22 L125.1,261.93 L125.6,262.58 L126.1,263.17 L126.6,263.75 L127.1,264.3 L127.6,264.82 L128.1,265.33 L128.6,265.8 L129.1,266.23 L129.6,266.61 L130.1,267 L130.6,267.4 L131.1,267.85 L131.6,268.37 L132.1,269.04 L132.6,269.78 L133.1,270.52 L133.6,271.19 L134.1,271.75 L134.6,272.25 L135.1,272.71 L135.6,273.17 L136.1,273.66 L136.6,274.18 L137.1,274.72 L137.6,275.27 L138.1,275.84 L138.6,276.47 L139.1,277.15 L139.6,277.95 L140.1,278.82 L140.6,279.69 L141.1,280.48 L141.6,281.25 L142.1,282.01 L142.6,282.76 L143.1,283.52 L143.6,284.27 L144.1,285.01 L144.6,285.76 L145.1,286.51 L145.6,287.28 L146.1,288.08 L146.6,288.88 L147.1,289.7 L147.6,290.55 L148.1,291.44 L148.6,292.38 L149.1,293.38 L149.6,294.45 L150.1,295.56 L150.6,296.7 L151.1,297.84 L151.6,298.99 L152.1,300.19 L152.6,301.4 L153.1,302.6 L153.6,303.76 L154.1,304.85 L154.6,305.9 L155.1,306.92 L155.6,307.92 L156.1,308.91 L156.6,309.91 L157.1,310.9 L157.6,311.88 L158.1,312.86 L158.6,313.84 L159.1,314.83 L159.6,315.83 L160.1,316.86 L160.6,317.89 L161.1,318.88 L161.6,319.83 L162.1,320.73 L162.6,321.59 L163.1,322.43 L163.6,323.24 L164.1,324 L164.6,324.72 L165.1,325.4 L165.6,326.05 L166.1,326.67 L166.6,327.27 L167.1,327.88 L167.6,328.49 L168.1,329.12 L168.6,329.77 L169.1,330.42 L169.6,331.08 L170.1,331.72 L170.6,332.35 L171.1,332.95 L171.6,333.52 L172.1,334.08 L172.6,334.64 L173.1,335.18 L173.6,335.69 L174.1,336.17 L174.6,336.6 L175.1,336.98 L175.6,337.33 L176.1,337.66 L176.6,337.96 L177.1,338.25 L177.6,338.52 L178.1,338.79 L178.6,339.05 L179.1,339.32 L179.6,339.6 L180.1,339.93 L180.6,340.26 L181.1,340.59 L181.6,340.88 L182.1,341.11 L182.6,341.24 L183.1,341.25 L183.6,341.11 L184.1,340.83 L184.6,340.44 L185.1,339.95 L185.6,339.33 L186.1,338.1 L186.6,336.35 L187.1,334.29 L187.6,332.01 L188.1,328.77 L188.6,322.16 L189.1,315.66 L189.6,307.18 L190.1,305.82 L190.6,315.77 L191.1,328.62 L191.6,337.52 L192.1,342.15 L192.45,340.88 L192.6,332.45 L193.1,309.93 L193.6,298.37 L194.1,289.86 L194.6,280.49 L195.1,272.71 L195.6,267.04 L196.1,263.42 L196.6,261.27 L197.1,259.59 L197.6,258.38 L198.1,257.66 L198.6,257.21 L199.1,256.87 L199.6,256.6 L200.1,256.37 L200.6,256.15 L201.1,255.93 L201.6,255.7 L202.1,255.48 L202.6,255.31 L203.1,255.21 L203.6,255.19 L204.1,255.34 L204.6,255.65 L205.1,256.08 L205.6,256.62 L206.1,257.22 L206.6,257.86 L207.1,258.5 L207.6,259.12 L208.1,259.72 L208.6,260.42 L209.1,261.15 L209.6,261.86 L210.1,262.52 L210.6,263.11 L211.1,263.69 L211.6,264.24 L212.1,264.77 L212.6,265.28 L213.1,265.76 L213.6,266.19 L214.1,266.58 L214.6,266.96 L215.1,267.36 L215.6,267.8 L216.1,268.31 L216.6,268.96 L217.1,269.7 L217.6,270.45 L218.1,271.13 L218.6,271.7 L219.1,272.2 L219.6,272.67 L220.1,273.13 L220.6,273.61 L221.1,274.13 L221.6,274.66 L222.1,275.21 L222.6,275.79 L223.1,276.4 L223.6,277.07 L224.1,277.86 L224.6,278.74 L225.1,279.6 L225.6,280.4 L226.1,281.18 L226.6,281.93 L227.1,282.69 L227.6,283.44 L228.1,284.2 L228.6,284.94 L229.1,285.68 L229.6,286.43 L230.1,287.2 L230.6,288 L231.1,288.8 L231.6,289.62 L232.1,290.46 L232.6,291.35 L233.1,292.28 L233.6,293.28 L234.1,294.34 L234.6,295.45 L235.1,296.58 L235.6,297.72 L236.1,298.87 L236.6,300.07 L237.1,301.28 L237.6,302.48 L238.1,303.64 L238.6,304.74 L239.1,305.79 L239.6,306.82 L240.1,307.82 L240.6,308.81 L241.1,309.81 L241.6,310.8 L242.1,311.79 L242.6,312.76 L243.1,313.74 L243.6,314.73 L244.1,315.73 L244.6,316.76 L245.1,317.78 L245.6,318.79 L246.1,319.74 L246.6,320.64 L247.1,321.51 L247.6,322.35 L248.1,323.16 L248.6,323.93 L249.1,324.65 L249.6,325.34 L250.1,325.98 L250.6,326.61 L251.1,327.21 L251.6,327.82 L252.1,328.43 L252.6,329.06 L253.1,329.7 L253.6,330.36 L254.1,331.01 L254.6,331.66 L255.1,332.29 L255.6,332.89 L256.1,333.46 L256.6,334.03 L257.1,334.58 L257.6,335.12 L258.1,335.64 L258.6,336.12 L259.1,336.56 L259.6,336.95 L260.1,337.3 L260.6,337.63 L261.1,337.93 L261.6,338.22 L262.1,338.5 L262.6,338.76 L263.1,339.03 L263.6,339.29 L264.1,339.57 L264.6,339.89 L265.1,340.23 L265.6,340.56 L266.1,340.86 L266.6,341.09 L267.1,341.23 L267.6,341.26 L268.1,341.13 L268.6,340.86 L269.1,340.48 L269.6,340 L270.1,339.41 L270.6,338.25 L271.1,336.54 L271.6,334.5 L272.1,332.27 L272.6,329.17 L273.1,322.89 L273.6,316.32 L274.1,308.06 L274.6,305.15 L275.1,314.68 L275.6,327.4 L276.1,336.73 L276.6,342.09 L277,340.88 L277.1,335.21 L277.6,311.58 L278.1,299.28 L278.6,290.72 L279.1,281.39 L279.6,273.31 L280.1,267.52 L280.6,263.65 L281.1,261.46 L281.6,259.73 L282.1,258.47 L282.6,257.71 L283.1,257.25 L283.6,256.9 L284.1,256.62 L284.6,256.39 L285.1,256.17 L285.6,255.95 L286.1,255.72 L286.6,255.5 L287.1,255.32 L287.6,255.21 L288.1,255.19 L288.6,255.32 L289.1,255.62 L289.6,256.04 L290.1,256.57 L290.6,257.17 L291.1,257.8 L291.6,258.45 L292.1,259.07 L292.6,259.67 L293.1,260.36 L293.6,261.09 L294.1,261.81 L294.6,262.47 L295.1,263.07 L295.6,263.65 L296.1,264.2 L296.6,264.73 L297.1,265.24 L297.6,265.72 L298.1,266.15 L298.6,266.55 L299.1,266.93 L299.6,267.33 L300.1,267.76 L300.6,268.27 L301.1,268.91 L301.6,269.65 L302.1,270.4 L302.6,271.09 L303.1,271.66 L303.6,272.16 L304.1,272.64 L304.6,273.1 L305.1,273.57 L305.6,274.09 L306.1,274.63 L306.6,275.17 L307.1,275.75 L307.6,276.36 L308.1,277.03 L308.6,277.81 L309.1,278.68 L309.6,279.55 L310.1,280.36 L310.6,281.13 L311.1,281.89 L311.6,282.64 L312.1,283.4 L312.6,284.15 L313.1,284.9 L313.6,285.64 L314.1,286.39 L314.6,287.16 L315.1,287.95 L315.6,288.76 L316.1,289.57 L316.6,290.42 L317.1,291.3 L317.6,292.23 L318.1,293.23 L318.6,294.29 L319.1,295.39 L319.6,296.53 L320.1,297.67 L320.6,298.82 L321.1,300.01 L321.6,301.22 L322.1,302.42 L322.6,303.59 L323.1,304.69 L323.6,305.75 L324.1,306.77 L324.6,307.77 L325.1,308.77 L325.6,309.77 L326.1,310.76 L326.6,311.75 L327.1,312.72 L327.6,313.7 L328.1,314.69 L328.6,315.69 L329.1,316.72 L329.6,317.75 L330.1,318.75 L330.6,319.71 L331.1,320.61 L331.6,321.48 L332.1,322.32 L332.6,323.13 L333.1,323.9 L333.6,324.63 L334.1,325.31 L334.6,325.96 L335.1,326.59 L335.6,327.2 L336.1,327.8 L336.6,328.41 L337.1,329.04 L337.6,329.69 L338.1,330.34 L338.6,330.99 L339.1,331.64 L339.6,332.27 L340.1,332.88 L340.6,333.45 L341.1,334.01 L341.6,334.57 L342.1,335.11 L342.6,335.63 L343.1,336.11 L343.6,336.55 L344.1,336.94 L344.6,337.29 L345.1,337.62 L345.6,337.93 L346.1,338.21 L346.6,338.49 L347.1,338.76 L347.6,339.02 L348.1,339.29 L348.6,339.57 L349.1,339.89 L349.6,340.23 L350.1,340.56 L350.6,340.85 L351.1,341.09 L351.6,341.23 L352.1,341.26" fill="none" stroke="#D95319" stroke-width="2.1" stroke-linecap="round" stroke-dasharray="0.2,3.8"/></g><line x1="69.6" y1="228.3" x2="351.5" y2="228.3" stroke="#262626" stroke-opacity="0.6" stroke-width="1.3"/><line x1="69.6" y1="354.8" x2="351.5" y2="354.8" stroke="#262626" stroke-opacity="0.6" stroke-width="1.3"/><line x1="69.6" y1="227.70000000000002" x2="69.6" y2="355.40000000000003" stroke="#0072BD" stroke-opacity="0.8" stroke-width="1.1"/><line x1="351.5" y1="227.70000000000002" x2="351.5" y2="355.40000000000003" stroke="#D95319" stroke-opacity="0.65" stroke-width="1"/><line x1="163.57" y1="228.3" x2="163.57" y2="231.3" stroke="#262626" stroke-width="1"/><line x1="163.57" y1="354.8" x2="163.57" y2="351.8" stroke="#262626" stroke-width="1"/><line x1="257.53" y1="228.3" x2="257.53" y2="231.3" stroke="#262626" stroke-width="1"/><line x1="257.53" y1="354.8" x2="257.53" y2="351.8" stroke="#262626" stroke-width="1"/><line x1="69.6" y1="228.3" x2="72.6" y2="228.3" stroke="#0072BD" stroke-width="1"/><line x1="69.6" y1="291.55" x2="72.6" y2="291.55" stroke="#0072BD" stroke-width="1"/><line x1="69.6" y1="354.8" x2="72.6" y2="354.8" stroke="#0072BD" stroke-width="1"/><line x1="351.5" y1="240.95" x2="348.5" y2="240.95" stroke="#D95319" stroke-width="1"/><line x1="351.5" y1="272.57" x2="348.5" y2="272.57" stroke="#D95319" stroke-width="1"/><line x1="351.5" y1="304.2" x2="348.5" y2="304.2" stroke="#D95319" stroke-width="1"/><line x1="351.5" y1="335.82" x2="348.5" y2="335.82" stroke="#D95319" stroke-width="1"/><text x="65.6" y="231.75" text-anchor="end" style="font-family:'Liberation Sans',sans-serif;font-size:11px" fill="#0072BD" stroke="#0072BD" stroke-width="0.15">0</text><text x="65.6" y="295" text-anchor="end" style="font-family:'Liberation Sans',sans-serif;font-size:11px" fill="#0072BD" stroke="#0072BD" stroke-width="0.15">-0.2</text><text x="65.6" y="358.25" text-anchor="end" style="font-family:'Liberation Sans',sans-serif;font-size:11px" fill="#0072BD" stroke="#0072BD" stroke-width="0.15">-0.4</text><text x="355.0" y="244.85" style="font-family:'Liberation Sans',sans-serif;font-size:11px" fill="#D95319" stroke="#D95319" stroke-width="0.15">10</text><text x="355.0" y="276.47" style="font-family:'Liberation Sans',sans-serif;font-size:11px" fill="#D95319" stroke="#D95319" stroke-width="0.15">5</text><text x="355.0" y="308.1" style="font-family:'Liberation Sans',sans-serif;font-size:11px" fill="#D95319" stroke="#D95319" stroke-width="0.15">0</text><text x="355.0" y="339.72" style="font-family:'Liberation Sans',sans-serif;font-size:11px" fill="#D95319" stroke="#D95319" stroke-width="0.15">-5</text><line x1="163.57" y1="365.3" x2="163.57" y2="492.3" stroke="#e3e3e3" stroke-width="1"/><line x1="257.53" y1="365.3" x2="257.53" y2="492.3" stroke="#e3e3e3" stroke-width="1"/><line x1="69.6" y1="428.8" x2="351.5" y2="428.8" stroke="#dfe9f3" stroke-width="1"/><g clip-path="url(#cl2)"><path d="M68.6,461.62 L69.1,461.53 L69.6,461.45 L70.1,461.36 L70.6,461.28 L71.1,461.21 L71.6,461.13 L72.1,461.07 L72.6,461 L73.1,460.94 L73.6,460.89 L74.1,460.84 L74.6,460.79 L75.1,460.75 L75.6,460.71 L76.1,460.67 L76.6,460.64 L77.1,460.62 L77.6,460.6 L78.1,460.58 L78.6,460.57 L79.1,460.56 L79.6,460.55 L80.1,460.55 L80.6,460.56 L81.1,460.58 L81.6,460.61 L82.1,460.66 L82.6,460.72 L83.1,460.78 L83.6,460.86 L84.1,460.96 L84.6,461.06 L85.1,461.18 L85.6,461.3 L86.1,461.44 L86.6,461.59 L87.1,461.75 L87.6,461.92 L88.1,462.1 L88.6,462.3 L89.1,462.5 L89.6,462.72 L90.1,462.94 L90.6,463.18 L91.1,463.43 L91.6,463.68 L92.1,463.95 L92.6,464.23 L93.1,464.51 L93.6,464.81 L94.1,465.11 L94.6,465.42 L95.1,465.75 L95.6,466.08 L96.1,466.42 L96.6,466.76 L97.1,467.12 L97.6,467.48 L98.1,467.85 L98.6,468.23 L99.1,468.62 L99.6,469.01 L100.1,469.41 L100.6,469.81 L101.1,470.22 L101.6,470.64 L102.1,471.06 L102.6,471.49 L103.1,471.93 L103.6,472.36 L104.1,472.81 L104.6,473.25 L105.1,473.7 L105.6,474.16 L106.1,474.61 L106.6,475.08 L107.1,475.54 L107.6,476.01 L108.1,476.47 L108.6,476.94 L109.1,477.42 L109.6,477.89 L110.1,478.36 L110.6,478.84 L111.1,479.31 L111.4,479.6 L111.6,479.49 L112.1,479.2 L112.6,478.92 L113.1,478.64 L113.6,478.36 L114.1,478.07 L114.6,477.79 L115.1,477.51 L115.6,477.23 L116.1,476.95 L116.6,476.67 L117.1,476.39 L117.6,476.11 L118.1,475.83 L118.6,475.55 L119.1,475.28 L119.6,475 L120.1,474.73 L120.6,474.46 L121.1,474.18 L121.6,473.91 L122.1,473.64 L122.6,473.38 L123.1,473.11 L123.6,472.84 L124.1,472.58 L124.6,472.32 L125.1,472.06 L125.6,471.8 L126.1,471.54 L126.6,471.28 L127.1,471.03 L127.6,470.78 L128.1,470.53 L128.6,470.28 L129.1,470.04 L129.6,469.79 L130.1,469.55 L130.6,469.31 L131.1,469.07 L131.6,468.84 L132.1,468.61 L132.6,468.38 L133.1,468.15 L133.6,467.92 L134.1,467.7 L134.6,467.48 L135.1,467.26 L135.6,467.05 L136.1,466.84 L136.6,466.63 L137.1,466.42 L137.6,466.22 L138.1,466.02 L138.6,465.82 L139.1,465.63 L139.6,465.44 L140.1,465.25 L140.6,465.07 L141.1,464.89 L141.6,464.71 L142.1,464.53 L142.6,464.36 L143.1,464.19 L143.6,464.03 L144.1,463.87 L144.6,463.71 L145.1,463.55 L145.6,463.4 L146.1,463.26 L146.6,463.11 L147.1,462.97 L147.6,462.84 L148.1,462.7 L148.6,462.58 L149.1,462.45 L149.6,462.33 L150.1,462.21 L150.6,462.1 L151.1,461.99 L151.6,461.88 L152.1,461.78 L152.6,461.68 L153.1,461.59 L153.6,461.5 L154.1,461.41 L154.6,461.33 L155.1,461.25 L155.6,461.18 L156.1,461.11 L156.6,461.04 L157.1,460.98 L157.6,460.92 L158.1,460.87 L158.6,460.82 L159.1,460.77 L159.6,460.73 L160.1,460.7 L160.6,460.66 L161.1,460.63 L161.6,460.61 L162.1,460.59 L162.6,460.57 L163.1,460.56 L163.6,460.55 L164.1,460.55 L164.6,460.55 L165.1,460.57 L165.6,460.59 L166.1,460.63 L166.6,460.68 L167.1,460.74 L167.6,460.82 L168.1,460.9 L168.6,461 L169.1,461.11 L169.6,461.22 L170.1,461.36 L170.6,461.5 L171.1,461.65 L171.6,461.82 L172.1,461.99 L172.6,462.18 L173.1,462.38 L173.6,462.59 L174.1,462.81 L174.6,463.04 L175.1,463.28 L175.6,463.53 L176.1,463.79 L176.6,464.06 L177.1,464.34 L177.6,464.63 L178.1,464.93 L178.6,465.23 L179.1,465.55 L179.6,465.88 L180.1,466.21 L180.6,466.55 L181.1,466.91 L181.6,467.26 L182.1,467.63 L182.6,468 L183.1,468.39 L183.6,468.77 L184.1,469.17 L184.6,469.57 L185.1,469.98 L185.6,470.39 L186.1,470.81 L186.6,471.24 L187.1,471.67 L187.6,472.1 L188.1,472.54 L188.6,472.98 L189.1,473.43 L189.6,473.88 L190.1,474.34 L190.6,474.8 L191.1,475.26 L191.6,475.73 L192.1,476.19 L192.6,476.66 L193.1,477.13 L193.6,477.61 L194.1,478.08 L194.6,478.55 L195.1,479.03 L195.6,479.5 L195.7,479.6 L196.1,479.37 L196.6,479.09 L197.1,478.81 L197.6,478.53 L198.1,478.24 L198.6,477.96 L199.1,477.68 L199.6,477.4 L200.1,477.12 L200.6,476.84 L201.1,476.56 L201.6,476.28 L202.1,476 L202.6,475.73 L203.1,475.45 L203.6,475.17 L204.1,474.9 L204.6,474.63 L205.1,474.35 L205.6,474.08 L206.1,473.81 L206.6,473.54 L207.1,473.28 L207.6,473.01 L208.1,472.75 L208.6,472.48 L209.1,472.22 L209.6,471.96 L210.1,471.7 L210.6,471.45 L211.1,471.19 L211.6,470.94 L212.1,470.69 L212.6,470.44 L213.1,470.19 L213.6,469.95 L214.1,469.71 L214.6,469.46 L215.1,469.23 L215.6,468.99 L216.1,468.76 L216.6,468.53 L217.1,468.3 L217.6,468.07 L218.1,467.85 L218.6,467.63 L219.1,467.41 L219.6,467.19 L220.1,466.98 L220.6,466.77 L221.1,466.56 L221.6,466.36 L222.1,466.15 L222.6,465.95 L223.1,465.76 L223.6,465.57 L224.1,465.38 L224.6,465.19 L225.1,465.01 L225.6,464.83 L226.1,464.65 L226.6,464.48 L227.1,464.31 L227.6,464.14 L228.1,463.98 L228.6,463.82 L229.1,463.66 L229.6,463.51 L230.1,463.36 L230.6,463.21 L231.1,463.07 L231.6,462.93 L232.1,462.79 L232.6,462.66 L233.1,462.54 L233.6,462.41 L234.1,462.29 L234.6,462.18 L235.1,462.06 L235.6,461.95 L236.1,461.85 L236.6,461.75 L237.1,461.65 L237.6,461.56 L238.1,461.47 L238.6,461.39 L239.1,461.31 L239.6,461.23 L240.1,461.16 L240.6,461.09 L241.1,461.02 L241.6,460.96 L242.1,460.91 L242.6,460.85 L243.1,460.81 L243.6,460.76 L244.1,460.72 L244.6,460.69 L245.1,460.65 L245.6,460.63 L246.1,460.6 L246.6,460.58 L247.1,460.57 L247.6,460.56 L248.1,460.55 L248.6,460.55 L249.1,460.56 L249.6,460.57 L250.1,460.6 L250.6,460.64 L251.1,460.7 L251.6,460.76 L252.1,460.84 L252.6,460.92 L253.1,461.02 L253.6,461.14 L254.1,461.26 L254.6,461.39 L255.1,461.54 L255.6,461.69 L256.1,461.86 L256.6,462.04 L257.1,462.23 L257.6,462.43 L258.1,462.64 L258.6,462.86 L259.1,463.1 L259.6,463.34 L260.1,463.59 L260.6,463.85 L261.1,464.13 L261.6,464.41 L262.1,464.7 L262.6,465 L263.1,465.31 L263.6,465.63 L264.1,465.96 L264.6,466.29 L265.1,466.64 L265.6,466.99 L266.1,467.35 L266.6,467.72 L267.1,468.09 L267.6,468.47 L268.1,468.86 L268.6,469.26 L269.1,469.66 L269.6,470.07 L270.1,470.48 L270.6,470.9 L271.1,471.33 L271.6,471.76 L272.1,472.2 L272.6,472.64 L273.1,473.08 L273.6,473.53 L274.1,473.98 L274.6,474.44 L275.1,474.9 L275.6,475.36 L276.1,475.82 L276.6,476.29 L277.1,476.76 L277.6,477.23 L278.1,477.7 L278.6,478.18 L279.1,478.65 L279.6,479.12 L280.1,479.6 L280.6,479.32 L281.1,479.03 L281.6,478.75 L282.1,478.47 L282.6,478.19 L283.1,477.91 L283.6,477.62 L284.1,477.34 L284.6,477.06 L285.1,476.78 L285.6,476.5 L286.1,476.23 L286.6,475.95 L287.1,475.67 L287.6,475.39 L288.1,475.12 L288.6,474.84 L289.1,474.57 L289.6,474.3 L290.1,474.03 L290.6,473.76 L291.1,473.49 L291.6,473.22 L292.1,472.96 L292.6,472.69 L293.1,472.43 L293.6,472.17 L294.1,471.91 L294.6,471.65 L295.1,471.4 L295.6,471.14 L296.1,470.89 L296.6,470.64 L297.1,470.39 L297.6,470.14 L298.1,469.9 L298.6,469.66 L299.1,469.42 L299.6,469.18 L300.1,468.94 L300.6,468.71 L301.1,468.48 L301.6,468.25 L302.1,468.03 L302.6,467.8 L303.1,467.58 L303.6,467.36 L304.1,467.15 L304.6,466.94 L305.1,466.73 L305.6,466.52 L306.1,466.31 L306.6,466.11 L307.1,465.92 L307.6,465.72 L308.1,465.53 L308.6,465.34 L309.1,465.15 L309.6,464.97 L310.1,464.79 L310.6,464.61 L311.1,464.44 L311.6,464.27 L312.1,464.11 L312.6,463.94 L313.1,463.78 L313.6,463.63 L314.1,463.48 L314.6,463.33 L315.1,463.18 L315.6,463.04 L316.1,462.9 L316.6,462.77 L317.1,462.64 L317.6,462.51 L318.1,462.39 L318.6,462.27 L319.1,462.15 L319.6,462.04 L320.1,461.93 L320.6,461.83 L321.1,461.73 L321.6,461.63 L322.1,461.54 L322.6,461.45 L323.1,461.37 L323.6,461.29 L324.1,461.21 L324.6,461.14 L325.1,461.07 L325.6,461.01 L326.1,460.95 L326.6,460.89 L327.1,460.84 L327.6,460.8 L328.1,460.75 L328.6,460.71 L329.1,460.68 L329.6,460.65 L330.1,460.62 L330.6,460.6 L331.1,460.58 L331.6,460.57 L332.1,460.56 L332.6,460.55 L333.1,460.55 L333.6,460.56 L334.1,460.58 L334.6,460.61 L335.1,460.65 L335.6,460.71 L336.1,460.77 L336.6,460.85 L337.1,460.94 L337.6,461.05 L338.1,461.16 L338.6,461.28 L339.1,461.42 L339.6,461.57 L340.1,461.73 L340.6,461.9 L341.1,462.08 L341.6,462.27 L342.1,462.47 L342.6,462.69 L343.1,462.91 L343.6,463.14 L344.1,463.39 L344.6,463.64 L345.1,463.91 L345.6,464.18 L346.1,464.47 L346.6,464.76 L347.1,465.06 L347.6,465.37 L348.1,465.69 L348.6,466.02 L349.1,466.36 L349.6,466.71 L350.1,467.06 L350.6,467.42 L351.1,467.79 L351.6,468.17 L352.1,468.55" fill="none" stroke="#0072BD" stroke-width="2.2" stroke-linejoin="round"/><path d="M68.6,441.77 L69.1,441.85 L69.6,441.69 L70.1,441.22 L70.6,441.02 L71.1,440.67 L71.6,440.61 L72.1,440.67 L72.6,440.64 L73.1,440.99 L73.6,440.88 L74.1,441.11 L74.6,441.35 L75.1,441.8 L75.6,442.15 L76.1,442.13 L76.6,441.96 L77.1,441.94 L77.6,441.74 L78.1,441.8 L78.6,441.85 L79.1,441.73 L79.6,441.5 L80.1,441.26 L80.6,440.99 L81.1,441.13 L81.6,441.52 L82.1,441.64 L82.6,441.84 L83.1,441.89 L83.6,441.75 L84.1,441.68 L84.6,442.01 L85.1,442.18 L85.6,441.98 L86.1,441.8 L86.6,441.77 L87.1,441.6 L87.6,441.37 L88.1,441.47 L88.6,441.33 L89.1,440.9 L89.6,440.82 L90.1,440.8 L90.6,440.64 L91.1,440.78 L91.6,440.75 L92.1,440.74 L92.6,440.9 L93.1,440.94 L93.6,441.19 L94.1,441.51 L94.6,441.5 L95.1,441.5 L95.6,441.23 L96.1,441.06 L96.6,440.95 L97.1,440.84 L97.6,441.36 L98.1,441.41 L98.6,441.33 L99.1,441.71 L99.6,441.78 L100.1,441.63 L100.6,441.85 L101.1,442.19 L101.6,441.93 L102.1,441.62 L102.6,441.71 L103.1,441.6 L103.6,441.38 L104.1,441.52 L104.6,441.58 L105.1,441.58 L105.6,441.55 L106.1,441.84 L106.6,441.65 L107.1,441.55 L107.6,441.54 L108.1,441.62 L108.6,441.07 L109.1,441.3 L109.6,441.01 L110.1,440.88 L110.6,440.93 L111,441.5 L111.4,426.89 L111.8,451.03 L112.2,435.15 L112.6,454.2 L113.2,444.68 L114.4,440.87 L115.9,444.04 L117.4,442.13 L119.4,440.87 L121.9,444.04 L124.4,441.82 L127.9,439.6 L130.4,441.5 L130.6,441.27 L131.1,441.7 L131.6,441.95 L132.1,441.91 L132.6,441.79 L133.1,441.5 L133.6,441.63 L134.1,441.75 L134.6,441.63 L135.1,441.38 L135.6,440.97 L136.1,440.89 L136.6,441.17 L137.1,441.28 L137.6,440.9 L138.1,440.83 L138.6,440.59 L139.1,440.59 L139.6,440.99 L140.1,440.78 L140.6,440.94 L141.1,440.72 L141.6,440.82 L142.1,441.1 L142.6,441.14 L143.1,441.28 L143.6,441.48 L144.1,441.53 L144.6,441.73 L145.1,441.65 L145.6,441.82 L146.1,442.06 L146.6,442.27 L147.1,442.41 L147.6,442.41 L148.1,442.41 L148.6,442.41 L149.1,442.41 L149.6,442.32 L150.1,442.35 L150.6,442.26 L151.1,442.04 L151.6,441.79 L152.1,441.63 L152.6,441.11 L153.1,441.19 L153.6,441.44 L154.1,441.95 L154.6,441.67 L155.1,441.51 L155.6,441.87 L156.1,441.99 L156.6,441.85 L157.1,442.03 L157.6,442.08 L158.1,441.8 L158.6,441.51 L159.1,441.84 L159.6,441.93 L160.1,441.66 L160.6,441.59 L161.1,442.01 L161.6,442.14 L162.1,441.92 L162.6,441.77 L163.1,442.2 L163.6,441.52 L164.1,441.65 L164.6,441.56 L165.1,441.28 L165.6,440.8 L166.1,440.73 L166.6,441.03 L167.1,441.18 L167.6,440.95 L168.1,441.74 L168.6,441.13 L169.1,441.17 L169.6,441.08 L170.1,441.37 L170.6,441.17 L171.1,440.74 L171.6,440.6 L172.1,440.59 L172.6,440.59 L173.1,440.75 L173.6,441.2 L174.1,441.75 L174.6,441.59 L175.1,441.97 L175.6,442.25 L176.1,442.41 L176.6,442.2 L177.1,441.81 L177.6,441.79 L178.1,441.26 L178.6,441.12 L179.1,441.19 L179.6,440.89 L180.1,441.06 L180.6,441.09 L181.1,441.59 L181.6,441.77 L182.1,441.51 L182.6,441.82 L183.1,441.66 L183.6,441.75 L184.1,442.07 L184.6,442.07 L185.1,441.8 L185.6,441.23 L186.1,441.17 L186.6,441.53 L187.1,441.31 L187.6,441.4 L188.1,441.13 L188.6,440.91 L189.1,440.67 L189.6,440.81 L190.1,441.26 L190.6,441.4 L191.1,441.56 L191.6,441.73 L192.1,441.9 L192.6,442.05 L193.1,442.24 L193.6,442.27 L194.1,442.29 L194.6,442.41 L195.1,442.41 L195.3,441.5 L195.7,426.89 L196.1,451.03 L196.5,435.15 L196.9,454.2 L197.5,444.68 L198.7,440.87 L200.2,444.04 L201.7,442.13 L203.7,440.87 L206.2,444.04 L208.7,441.82 L212.2,439.6 L214.7,441.5 L215.1,441.69 L215.6,441.48 L216.1,440.99 L216.6,440.78 L217.1,440.9 L217.6,441.03 L218.1,441.08 L218.6,441.08 L219.1,441.27 L219.6,441.32 L220.1,441.55 L220.6,441.84 L221.1,442.04 L221.6,442.06 L222.1,442.22 L222.6,441.83 L223.1,441.62 L223.6,441.18 L224.1,441 L224.6,440.7 L225.1,440.85 L225.6,440.68 L226.1,440.59 L226.6,440.59 L227.1,440.59 L227.6,440.59 L228.1,440.59 L228.6,440.59 L229.1,440.59 L229.6,440.59 L230.1,440.59 L230.6,441.04 L231.1,440.96 L231.6,441.24 L232.1,441.52 L232.6,441.56 L233.1,441.61 L233.6,442.03 L234.1,441.62 L234.6,441.5 L235.1,441.24 L235.6,441.19 L236.1,441.11 L236.6,441 L237.1,440.96 L237.6,441.3 L238.1,440.95 L238.6,440.81 L239.1,441.28 L239.6,441.24 L240.1,441.12 L240.6,441.13 L241.1,441 L241.6,441.25 L242.1,440.96 L242.6,440.84 L243.1,441.34 L243.6,441.11 L244.1,441.25 L244.6,441.38 L245.1,441.12 L245.6,441.48 L246.1,441.15 L246.6,441.38 L247.1,441.5 L247.6,441.49 L248.1,441.83 L248.6,441.85 L249.1,441.95 L249.6,442.27 L250.1,441.88 L250.6,442.2 L251.1,442.17 L251.6,442.04 L252.1,442.01 L252.6,441.35 L253.1,441.3 L253.6,441.27 L254.1,441.21 L254.6,441.26 L255.1,440.93 L255.6,440.76 L256.1,440.98 L256.6,441.02 L257.1,441.36 L257.6,441.1 L258.1,440.96 L258.6,441.13 L259.1,441.4 L259.6,441.43 L260.1,441.33 L260.6,441.36 L261.1,441.45 L261.6,441.35 L262.1,441.93 L262.6,442.14 L263.1,441.83 L263.6,441.83 L264.1,441.89 L264.6,441.79 L265.1,441.67 L265.6,441.56 L266.1,441.22 L266.6,440.85 L267.1,440.7 L267.6,440.71 L268.1,440.59 L268.6,440.76 L269.1,440.95 L269.6,441.08 L270.1,441.39 L270.6,441.76 L271.1,441.91 L271.6,441.93 L272.1,442.3 L272.6,442.41 L273.1,442.3 L273.6,442.29 L274.1,442.41 L274.6,442.03 L275.1,442.2 L275.6,442.19 L276.1,441.91 L276.6,441.76 L277.1,441.78 L277.6,441.61 L278.1,441.68 L278.6,441.55 L279.1,441.62 L279.6,441.25 L279.7,441.5 L280.1,426.89 L280.5,451.03 L280.9,435.15 L281.3,454.2 L281.9,444.68 L283.1,440.87 L284.6,444.04 L286.1,442.13 L288.1,440.87 L290.6,444.04 L293.1,441.82 L296.6,439.6 L299.1,441.5 L299.6,440.9 L300.1,440.9 L300.6,441.01 L301.1,441.08 L301.6,441.73 L302.1,441.63 L302.6,441.91 L303.1,442.02 L303.6,442.16 L304.1,441.97 L304.6,441.89 L305.1,442.07 L305.6,442.18 L306.1,441.8 L306.6,441.91 L307.1,441.91 L307.6,441.93 L308.1,442.02 L308.6,442 L309.1,441.88 L309.6,441.84 L310.1,441.46 L310.6,441.38 L311.1,441.47 L311.6,441.29 L312.1,441.43 L312.6,441.57 L313.1,441.76 L313.6,442.01 L314.1,441.89 L314.6,442.21 L315.1,442.32 L315.6,442.41 L316.1,442.41 L316.6,442.41 L317.1,442.41 L317.6,442.32 L318.1,442.41 L318.6,442.41 L319.1,442.41 L319.6,442.41 L320.1,442.27 L320.6,442.26 L321.1,442.19 L321.6,442.21 L322.1,442.29 L322.6,442.04 L323.1,442.14 L323.6,441.8 L324.1,441.87 L324.6,442.08 L325.1,442.12 L325.6,441.8 L326.1,441.63 L326.6,441.32 L327.1,441.37 L327.6,440.86 L328.1,440.86 L328.6,440.8 L329.1,440.59 L329.6,440.59 L330.1,440.63 L330.6,440.83 L331.1,441.04 L331.6,440.94 L332.1,441.33 L332.6,441.42 L333.1,441.35 L333.6,441.53 L334.1,441.9 L334.6,441.93 L335.1,441.69 L335.6,441.76 L336.1,441.87 L336.6,442.03 L337.1,442.03 L337.6,442.19 L338.1,442.09 L338.6,442.04 L339.1,441.91 L339.6,442.05 L340.1,441.81 L340.6,441.97 L341.1,441.69 L341.6,441.45 L342.1,441.48 L342.6,441.72 L343.1,441.48 L343.6,441.74 L344.1,441.52 L344.6,441.38 L345.1,441.34 L345.6,441.52 L346.1,441.68 L346.6,441.38 L347.1,441.15 L347.6,440.92 L348.1,440.9 L348.6,441.11 L349.1,441.59 L349.6,441.7 L350.1,441.28 L350.6,441.57 L351.1,441.39 L351.6,441.5 L352.1,441.78" fill="none" stroke="#D95319" stroke-width="1.7" stroke-linejoin="round"/><path d="M68.6,420.89 L69.1,420.47 L69.6,420.03 L70.1,419.59 L70.6,419.14 L71.1,418.69 L71.6,418.23 L72.1,417.79 L72.6,417.35 L73.1,416.93 L73.6,416.52 L74.1,416.13 L74.6,415.77 L75.1,415.43 L75.6,415.11 L76.1,414.8 L76.6,414.5 L77.1,414.21 L77.6,413.94 L78.1,413.67 L78.6,413.41 L79.1,413.15 L79.6,412.91 L80.1,412.67 L80.6,412.44 L81.1,412.22 L81.6,411.98 L82.1,411.74 L82.6,411.51 L83.1,411.29 L83.6,411.09 L84.1,410.92 L84.6,410.78 L85.1,410.69 L85.6,410.63 L86.1,410.56 L86.6,410.51 L87.1,410.46 L87.6,410.42 L88.1,410.4 L88.6,410.39 L89.1,410.44 L89.6,410.67 L90.1,411.03 L90.6,411.46 L91.1,411.92 L91.6,412.35 L92.1,412.84 L92.6,413.39 L93.1,413.98 L93.6,414.56 L94.1,415.09 L94.6,415.53 L95.1,415.89 L95.6,416.2 L96.1,416.5 L96.6,416.79 L97.1,417.11 L97.6,417.44 L98.1,417.78 L98.6,418.12 L99.1,418.46 L99.6,418.79 L100.1,419.1 L100.6,419.38 L101.1,419.62 L101.6,419.85 L102.1,420.07 L102.6,420.32 L103.1,420.6 L103.6,420.89 L104.1,421.19 L104.6,421.51 L105.1,421.88 L105.6,422.32 L106.1,422.84 L106.6,423.54 L107.1,424.67 L107.6,426.08 L108.1,427.58 L108.6,428.96 L109.1,430.24 L109.6,431.68 L110.1,433.56 L110.6,436.55 L111.1,441.7 L111.4,445.31 L111.6,446.55 L112.1,449.29 L112.6,451.4 L113.1,452.8 L113.6,453.86 L114.1,454.16 L114.6,453.18 L115.1,451.45 L115.6,449.76 L116.1,448.83 L116.6,448.23 L117.1,447.76 L117.6,447.39 L118.1,447.07 L118.6,446.79 L119.1,446.54 L119.6,446.31 L120.1,446.08 L120.6,445.85 L121.1,445.63 L121.6,445.42 L122.1,445.23 L122.6,445.04 L123.1,444.84 L123.6,444.63 L124.1,444.4 L124.6,444.14 L125.1,443.85 L125.6,443.51 L126.1,443.12 L126.6,442.7 L127.1,442.26 L127.6,441.8 L128.1,441.35 L128.6,440.9 L129.1,440.46 L129.6,440.05 L130.1,439.65 L130.6,439.26 L131.1,438.87 L131.6,438.48 L132.1,438.1 L132.6,437.71 L133.1,437.32 L133.6,436.93 L134.1,436.53 L134.6,436.13 L135.1,435.72 L135.6,435.3 L136.1,434.86 L136.6,434.41 L137.1,433.94 L137.6,433.46 L138.1,432.98 L138.6,432.5 L139.1,432.03 L139.6,431.58 L140.1,431.14 L140.6,430.7 L141.1,430.28 L141.6,429.86 L142.1,429.44 L142.6,429.03 L143.1,428.62 L143.6,428.22 L144.1,427.82 L144.6,427.42 L145.1,427.02 L145.6,426.62 L146.1,426.22 L146.6,425.83 L147.1,425.43 L147.6,425.04 L148.1,424.64 L148.6,424.25 L149.1,423.86 L149.6,423.48 L150.1,423.1 L150.6,422.71 L151.1,422.33 L151.6,421.94 L152.1,421.54 L152.6,421.14 L153.1,420.73 L153.6,420.3 L154.1,419.86 L154.6,419.41 L155.1,418.96 L155.6,418.5 L156.1,418.06 L156.6,417.61 L157.1,417.18 L157.6,416.76 L158.1,416.36 L158.6,415.98 L159.1,415.63 L159.6,415.3 L160.1,414.98 L160.6,414.68 L161.1,414.39 L161.6,414.1 L162.1,413.83 L162.6,413.56 L163.1,413.3 L163.6,413.06 L164.1,412.81 L164.6,412.58 L165.1,412.35 L165.6,412.12 L166.1,411.89 L166.6,411.65 L167.1,411.42 L167.6,411.21 L168.1,411.01 L168.6,410.86 L169.1,410.74 L169.6,410.67 L170.1,410.6 L170.6,410.54 L171.1,410.49 L171.6,410.44 L172.1,410.41 L172.6,410.39 L173.1,410.39 L173.6,410.51 L174.1,410.8 L174.6,411.19 L175.1,411.64 L175.6,412.1 L176.1,412.54 L176.6,413.05 L177.1,413.63 L177.6,414.22 L178.1,414.78 L178.6,415.28 L179.1,415.68 L179.6,416.02 L180.1,416.32 L180.6,416.62 L181.1,416.92 L181.6,417.24 L182.1,417.57 L182.6,417.92 L183.1,418.26 L183.6,418.59 L184.1,418.91 L184.6,419.21 L185.1,419.48 L185.6,419.71 L186.1,419.94 L186.6,420.17 L187.1,420.42 L187.6,420.71 L188.1,421.01 L188.6,421.31 L189.1,421.65 L189.6,422.05 L190.1,422.51 L190.6,423.08 L191.1,423.95 L191.6,425.21 L192.1,426.68 L192.6,428.15 L193.1,429.47 L193.6,430.78 L194.1,432.36 L194.6,434.51 L195.1,438.41 L195.6,444.09 L195.7,445.31 L196.1,447.71 L196.6,450.22 L197.1,452.03 L197.6,453.27 L198.1,454.11 L198.6,453.92 L199.1,452.55 L199.6,450.74 L200.1,449.29 L200.6,448.58 L201.1,448.03 L201.6,447.61 L202.1,447.26 L202.6,446.96 L203.1,446.69 L203.6,446.45 L204.1,446.22 L204.6,445.99 L205.1,445.76 L205.6,445.55 L206.1,445.35 L206.6,445.16 L207.1,444.96 L207.6,444.76 L208.1,444.55 L208.6,444.31 L209.1,444.04 L209.6,443.73 L210.1,443.37 L210.6,442.97 L211.1,442.54 L211.6,442.09 L212.1,441.64 L212.6,441.18 L213.1,440.74 L213.6,440.31 L214.1,439.91 L214.6,439.51 L215.1,439.12 L215.6,438.73 L216.1,438.35 L216.6,437.96 L217.1,437.57 L217.6,437.19 L218.1,436.79 L218.6,436.4 L219.1,435.99 L219.6,435.57 L220.1,435.15 L220.6,434.71 L221.1,434.25 L221.6,433.78 L222.1,433.3 L222.6,432.82 L223.1,432.34 L223.6,431.88 L224.1,431.43 L224.6,430.99 L225.1,430.56 L225.6,430.14 L226.1,429.72 L226.6,429.31 L227.1,428.9 L227.6,428.49 L228.1,428.09 L228.6,427.69 L229.1,427.29 L229.6,426.89 L230.1,426.49 L230.6,426.1 L231.1,425.7 L231.6,425.31 L232.1,424.91 L232.6,424.52 L233.1,424.13 L233.6,423.74 L234.1,423.36 L234.6,422.98 L235.1,422.59 L235.6,422.21 L236.1,421.82 L236.6,421.42 L237.1,421.02 L237.6,420.6 L238.1,420.17 L238.6,419.72 L239.1,419.28 L239.6,418.82 L240.1,418.37 L240.6,417.92 L241.1,417.49 L241.6,417.06 L242.1,416.64 L242.6,416.25 L243.1,415.88 L243.6,415.53 L244.1,415.21 L244.6,414.9 L245.1,414.59 L245.6,414.3 L246.1,414.02 L246.6,413.75 L247.1,413.49 L247.6,413.23 L248.1,412.99 L248.6,412.75 L249.1,412.52 L249.6,412.29 L250.1,412.06 L250.6,411.82 L251.1,411.59 L251.6,411.36 L252.1,411.15 L252.6,410.97 L253.1,410.82 L253.6,410.72 L254.1,410.65 L254.6,410.58 L255.1,410.53 L255.6,410.47 L256.1,410.43 L256.6,410.4 L257.1,410.39 L257.6,410.4 L258.1,410.57 L258.6,410.89 L259.1,411.3 L259.6,411.76 L260.1,412.21 L260.6,412.66 L261.1,413.19 L261.6,413.77 L262.1,414.36 L262.6,414.91 L263.1,415.38 L263.6,415.76 L264.1,416.09 L264.6,416.39 L265.1,416.69 L265.6,416.99 L266.1,417.31 L266.6,417.65 L267.1,418 L267.6,418.34 L268.1,418.67 L268.6,418.98 L269.1,419.28 L269.6,419.53 L270.1,419.76 L270.6,419.99 L271.1,420.22 L271.6,420.49 L272.1,420.78 L272.6,421.07 L273.1,421.38 L273.6,421.73 L274.1,422.14 L274.6,422.63 L275.1,423.22 L275.6,424.19 L276.1,425.51 L276.6,426.99 L277.1,428.44 L277.6,429.73 L278.1,431.07 L278.6,432.74 L279.1,435.08 L279.6,439.46 L280.1,445.31 L280.6,448.26 L281.1,450.64 L281.6,452.3 L282.1,453.48 L282.6,454.18 L283.1,453.72 L283.6,452.19 L284.1,450.4 L284.6,449.12 L285.1,448.46 L285.6,447.94 L286.1,447.53 L286.6,447.19 L287.1,446.9 L287.6,446.64 L288.1,446.41 L288.6,446.18 L289.1,445.94 L289.6,445.72 L290.1,445.51 L290.6,445.31 L291.1,445.12 L291.6,444.92 L292.1,444.72 L292.6,444.5 L293.1,444.26 L293.6,443.98 L294.1,443.66 L294.6,443.29 L295.1,442.89 L295.6,442.45 L296.1,442 L296.6,441.55 L297.1,441.09 L297.6,440.65 L298.1,440.23 L298.6,439.83 L299.1,439.43 L299.6,439.04 L300.1,438.65 L300.6,438.27 L301.1,437.88 L301.6,437.5 L302.1,437.11 L302.6,436.71 L303.1,436.31 L303.6,435.91 L304.1,435.49 L304.6,435.06 L305.1,434.62 L305.6,434.16 L306.1,433.68 L306.6,433.2 L307.1,432.72 L307.6,432.25 L308.1,431.79 L308.6,431.34 L309.1,430.91 L309.6,430.48 L310.1,430.06 L310.6,429.64 L311.1,429.22 L311.6,428.82 L312.1,428.41 L312.6,428.01 L313.1,427.61 L313.6,427.21 L314.1,426.81 L314.6,426.41 L315.1,426.02 L315.6,425.62 L316.1,425.23 L316.6,424.83 L317.1,424.44 L317.6,424.05 L318.1,423.67 L318.6,423.28 L319.1,422.9 L319.6,422.52 L320.1,422.13 L320.6,421.74 L321.1,421.34 L321.6,420.93 L322.1,420.51 L322.6,420.08 L323.1,419.63 L323.6,419.18 L324.1,418.73 L324.6,418.28 L325.1,417.84 L325.6,417.4 L326.1,416.97 L326.6,416.56 L327.1,416.17 L327.6,415.81 L328.1,415.46 L328.6,415.14 L329.1,414.83 L329.6,414.54 L330.1,414.25 L330.6,413.97 L331.1,413.7 L331.6,413.44 L332.1,413.18 L332.6,412.94 L333.1,412.7 L333.6,412.47 L334.1,412.25 L334.6,412.01 L335.1,411.78 L335.6,411.54 L336.1,411.32 L336.6,411.11 L337.1,410.94 L337.6,410.8 L338.1,410.7 L338.6,410.63 L339.1,410.57 L339.6,410.51 L340.1,410.47 L340.6,410.43 L341.1,410.4 L341.6,410.39 L342.1,410.42 L342.6,410.63 L343.1,410.97 L343.6,411.39 L344.1,411.85 L344.6,412.29 L345.1,412.76 L345.6,413.31 L346.1,413.89 L346.6,414.48 L347.1,415.01 L347.6,415.47 L348.1,415.83 L348.6,416.15 L349.1,416.45 L349.6,416.74 L350.1,417.05 L350.6,417.38 L351.1,417.72 L351.6,418.06 L352.1,418.4" fill="none" stroke="#D95319" stroke-width="1.9" stroke-dasharray="7,7.8"/><path d="M68.6,424.93 L69.1,425.75 L69.6,426.65 L70.1,427.66 L70.6,428.74 L71.1,429.83 L71.6,430.87 L72.1,431.83 L72.6,432.67 L73.1,433.45 L73.6,434.18 L74.1,434.88 L74.6,435.59 L75.1,436.31 L75.6,437.08 L76.1,437.92 L76.6,438.84 L77.1,439.82 L77.6,440.84 L78.1,441.88 L78.6,442.91 L79.1,443.92 L79.6,444.9 L80.1,445.88 L80.6,446.86 L81.1,447.84 L81.6,448.83 L82.1,449.83 L82.6,450.87 L83.1,451.92 L83.6,452.97 L84.1,454 L84.6,454.98 L85.1,455.89 L85.6,456.77 L86.1,457.63 L86.6,458.45 L87.1,459.23 L87.6,459.98 L88.1,460.69 L88.6,461.37 L89.1,462.01 L89.6,462.63 L90.1,463.24 L90.6,463.85 L91.1,464.46 L91.6,465.09 L92.1,465.74 L92.6,466.41 L93.1,467.08 L93.6,467.74 L94.1,468.38 L94.6,468.97 L95.1,469.54 L95.6,470.1 L96.1,470.65 L96.6,471.19 L97.1,471.69 L97.6,472.17 L98.1,472.6 L98.6,473 L99.1,473.39 L99.6,473.78 L100.1,474.17 L100.6,474.52 L101.1,474.83 L101.6,475.07 L102.1,475.23 L102.6,475.3 L103.1,475.34 L103.6,475.38 L104.1,475.41 L104.6,475.44 L105.1,475.46 L105.6,475.47 L106.1,475.47 L106.6,475.29 L107.1,474.85 L107.6,474.18 L108.1,473.28 L108.6,472.17 L109.1,470.32 L109.6,466.28 L110.1,459.18 L110.6,451.99 L111.1,445.33 L111.4,441.5 L111.6,438.91 L112.1,432.81 L112.6,427.11 L113.1,421.91 L113.6,417.18 L114.1,412.96 L114.6,409.15 L115.1,406 L115.6,403.34 L116.1,401.42 L116.6,399.85 L117.1,398.53 L117.6,397.5 L118.1,396.77 L118.6,396.13 L119.1,395.52 L119.6,394.95 L120.1,394.42 L120.6,393.95 L121.1,393.53 L121.6,393.19 L122.1,392.91 L122.6,392.72 L123.1,392.62 L123.6,392.62 L124.1,392.78 L124.6,393.07 L125.1,393.48 L125.6,393.98 L126.1,394.53 L126.6,395.12 L127.1,395.71 L127.6,396.28 L128.1,396.79 L128.6,397.24 L129.1,397.67 L129.6,398.09 L130.1,398.52 L130.6,398.94 L131.1,399.36 L131.6,399.78 L132.1,400.19 L132.6,400.59 L133.1,400.99 L133.6,401.39 L134.1,401.79 L134.6,402.2 L135.1,402.63 L135.6,403.06 L136.1,403.52 L136.6,403.99 L137.1,404.48 L137.6,404.98 L138.1,405.49 L138.6,406.01 L139.1,406.54 L139.6,407.08 L140.1,407.63 L140.6,408.18 L141.1,408.74 L141.6,409.31 L142.1,409.89 L142.6,410.48 L143.1,411.07 L143.6,411.68 L144.1,412.3 L144.6,412.94 L145.1,413.58 L145.6,414.24 L146.1,414.92 L146.6,415.64 L147.1,416.37 L147.6,417.12 L148.1,417.88 L148.6,418.64 L149.1,419.4 L149.6,420.15 L150.1,420.88 L150.6,421.59 L151.1,422.29 L151.6,422.99 L152.1,423.71 L152.6,424.46 L153.1,425.25 L153.6,426.09 L154.1,427.04 L154.6,428.08 L155.1,429.17 L155.6,430.25 L156.1,431.27 L156.6,432.18 L157.1,432.99 L157.6,433.74 L158.1,434.46 L158.6,435.16 L159.1,435.87 L159.6,436.61 L160.1,437.41 L160.6,438.28 L161.1,439.22 L161.6,440.23 L162.1,441.26 L162.6,442.3 L163.1,443.32 L163.6,444.31 L164.1,445.29 L164.6,446.27 L165.1,447.25 L165.6,448.24 L166.1,449.23 L166.6,450.24 L167.1,451.29 L167.6,452.35 L168.1,453.39 L168.6,454.4 L169.1,455.35 L169.6,456.25 L170.1,457.12 L170.6,457.96 L171.1,458.76 L171.6,459.54 L172.1,460.27 L172.6,460.97 L173.1,461.63 L173.6,462.26 L174.1,462.88 L174.6,463.48 L175.1,464.09 L175.6,464.71 L176.1,465.35 L176.6,466.01 L177.1,466.68 L177.6,467.35 L178.1,468 L178.6,468.62 L179.1,469.2 L179.6,469.77 L180.1,470.33 L180.6,470.87 L181.1,471.39 L181.6,471.88 L182.1,472.35 L182.6,472.77 L183.1,473.15 L183.6,473.55 L184.1,473.94 L184.6,474.31 L185.1,474.65 L185.6,474.93 L186.1,475.15 L186.6,475.27 L187.1,475.32 L187.6,475.36 L188.1,475.4 L188.6,475.43 L189.1,475.45 L189.6,475.46 L190.1,475.47 L190.6,475.43 L191.1,475.14 L191.6,474.61 L192.1,473.85 L192.6,472.86 L193.1,471.67 L193.6,468.9 L194.1,463.9 L194.6,456.12 L195.1,449.29 L195.6,442.76 L195.7,441.5 L196.1,436.42 L196.6,430.49 L197.1,424.99 L197.6,419.98 L198.1,415.46 L198.6,411.4 L199.1,407.83 L199.6,404.89 L200.1,402.5 L200.6,400.79 L201.1,399.31 L201.6,398.1 L202.1,397.19 L202.6,396.52 L203.1,395.89 L203.6,395.3 L204.1,394.74 L204.6,394.23 L205.1,393.78 L205.6,393.39 L206.1,393.07 L206.6,392.83 L207.1,392.67 L207.6,392.61 L208.1,392.66 L208.6,392.87 L209.1,393.21 L209.6,393.66 L210.1,394.18 L210.6,394.74 L211.1,395.34 L211.6,395.92 L212.1,396.47 L212.6,396.96 L213.1,397.39 L213.6,397.82 L214.1,398.25 L214.6,398.67 L215.1,399.09 L215.6,399.51 L216.1,399.92 L216.6,400.33 L217.1,400.73 L217.6,401.13 L218.1,401.53 L218.6,401.93 L219.1,402.35 L219.6,402.78 L220.1,403.22 L220.6,403.68 L221.1,404.15 L221.6,404.64 L222.1,405.15 L222.6,405.66 L223.1,406.19 L223.6,406.72 L224.1,407.26 L224.6,407.81 L225.1,408.37 L225.6,408.93 L226.1,409.5 L226.6,410.08 L227.1,410.67 L227.6,411.27 L228.1,411.88 L228.6,412.5 L229.1,413.14 L229.6,413.79 L230.1,414.46 L230.6,415.15 L231.1,415.87 L231.6,416.6 L232.1,417.36 L232.6,418.11 L233.1,418.88 L233.6,419.63 L234.1,420.37 L234.6,421.1 L235.1,421.8 L235.6,422.5 L236.1,423.21 L236.6,423.94 L237.1,424.7 L237.6,425.5 L238.1,426.36 L238.6,427.34 L239.1,428.41 L239.6,429.5 L240.1,430.56 L240.6,431.55 L241.1,432.42 L241.6,433.21 L242.1,433.95 L242.6,434.66 L243.1,435.36 L243.6,436.08 L244.1,436.83 L244.6,437.65 L245.1,438.54 L245.6,439.5 L246.1,440.51 L246.6,441.55 L247.1,442.58 L247.6,443.6 L248.1,444.58 L248.6,445.56 L249.1,446.54 L249.6,447.52 L250.1,448.51 L250.6,449.5 L251.1,450.52 L251.6,451.57 L252.1,452.63 L252.6,453.66 L253.1,454.66 L253.6,455.59 L254.1,456.48 L254.6,457.34 L255.1,458.17 L255.6,458.97 L256.1,459.73 L256.6,460.45 L257.1,461.14 L257.6,461.79 L258.1,462.42 L258.6,463.03 L259.1,463.64 L259.6,464.25 L260.1,464.87 L260.6,465.51 L261.1,466.17 L261.6,466.84 L262.1,467.51 L262.6,468.15 L263.1,468.76 L263.6,469.34 L264.1,469.9 L264.6,470.46 L265.1,470.99 L265.6,471.51 L266.1,472 L266.6,472.45 L267.1,472.86 L267.6,473.24 L268.1,473.64 L268.6,474.03 L269.1,474.39 L269.6,474.72 L270.1,474.99 L270.6,475.18 L271.1,475.28 L271.6,475.33 L272.1,475.37 L272.6,475.4 L273.1,475.43 L273.6,475.45 L274.1,475.47 L274.6,475.47 L275.1,475.39 L275.6,475.05 L276.1,474.47 L276.6,473.66 L277.1,472.63 L277.6,471.33 L278.1,468.06 L278.6,462.38 L279.1,454.72 L279.6,447.95 L280.1,441.5 L280.6,435.21 L281.1,429.35 L281.6,423.96 L282.1,419.03 L282.6,414.63 L283.1,410.63 L283.6,407.21 L284.1,404.35 L284.6,402.13 L285.1,400.47 L285.6,399.04 L286.1,397.89 L286.6,397.05 L287.1,396.4 L287.6,395.77 L288.1,395.18 L288.6,394.63 L289.1,394.14 L289.6,393.7 L290.1,393.32 L290.6,393.02 L291.1,392.79 L291.6,392.65 L292.1,392.61 L292.6,392.69 L293.1,392.93 L293.6,393.29 L294.1,393.75 L294.6,394.29 L295.1,394.86 L295.6,395.45 L296.1,396.03 L296.6,396.57 L297.1,397.05 L297.6,397.48 L298.1,397.91 L298.6,398.33 L299.1,398.75 L299.6,399.17 L300.1,399.59 L300.6,400 L301.1,400.41 L301.6,400.81 L302.1,401.21 L302.6,401.61 L303.1,402.02 L303.6,402.43 L304.1,402.86 L304.6,403.31 L305.1,403.77 L305.6,404.25 L306.1,404.74 L306.6,405.25 L307.1,405.77 L307.6,406.29 L308.1,406.83 L308.6,407.37 L309.1,407.92 L309.6,408.48 L310.1,409.04 L310.6,409.62 L311.1,410.2 L311.6,410.79 L312.1,411.39 L312.6,412.01 L313.1,412.63 L313.6,413.27 L314.1,413.92 L314.6,414.59 L315.1,415.29 L315.6,416.01 L316.1,416.75 L316.6,417.51 L317.1,418.27 L317.6,419.03 L318.1,419.78 L318.6,420.52 L319.1,421.24 L319.6,421.94 L320.1,422.64 L320.6,423.35 L321.1,424.09 L321.6,424.85 L322.1,425.67 L322.6,426.55 L323.1,427.55 L323.6,428.62 L324.1,429.71 L324.6,430.77 L325.1,431.73 L325.6,432.58 L326.1,433.36 L326.6,434.1 L327.1,434.8 L327.6,435.51 L328.1,436.23 L328.6,436.99 L329.1,437.82 L329.6,438.73 L330.1,439.7 L330.6,440.72 L331.1,441.76 L331.6,442.79 L332.1,443.79 L332.6,444.78 L333.1,445.76 L333.6,446.74 L334.1,447.72 L334.6,448.7 L335.1,449.7 L335.6,450.73 L336.1,451.78 L336.6,452.83 L337.1,453.86 L337.6,454.85 L338.1,455.77 L338.6,456.65 L339.1,457.51 L339.6,458.33 L340.1,459.12 L340.6,459.88 L341.1,460.59 L341.6,461.27 L342.1,461.92 L342.6,462.54 L343.1,463.15 L343.6,463.76 L344.1,464.37 L344.6,464.99 L345.1,465.64 L345.6,466.31 L346.1,466.98 L346.6,467.64 L347.1,468.28 L347.6,468.88 L348.1,469.45 L348.6,470.01 L349.1,470.57 L349.6,471.1 L350.1,471.61 L350.6,472.09 L351.1,472.53 L351.6,472.93 L352.1,473.32" fill="none" stroke="#D95319" stroke-width="2.1" stroke-linecap="round" stroke-dasharray="0.2,3.8"/></g><line x1="69.6" y1="365.3" x2="351.5" y2="365.3" stroke="#262626" stroke-opacity="0.6" stroke-width="1.3"/><line x1="69.6" y1="492.3" x2="351.5" y2="492.3" stroke="#262626" stroke-opacity="0.6" stroke-width="1.3"/><line x1="69.6" y1="364.7" x2="69.6" y2="492.90000000000003" stroke="#0072BD" stroke-opacity="0.8" stroke-width="1.1"/><line x1="351.5" y1="364.7" x2="351.5" y2="492.90000000000003" stroke="#D95319" stroke-opacity="0.65" stroke-width="1"/><line x1="163.57" y1="365.3" x2="163.57" y2="368.3" stroke="#262626" stroke-width="1"/><line x1="163.57" y1="492.3" x2="163.57" y2="489.3" stroke="#262626" stroke-width="1"/><line x1="257.53" y1="365.3" x2="257.53" y2="368.3" stroke="#262626" stroke-width="1"/><line x1="257.53" y1="492.3" x2="257.53" y2="489.3" stroke="#262626" stroke-width="1"/><line x1="69.6" y1="365.3" x2="72.6" y2="365.3" stroke="#0072BD" stroke-width="1"/><line x1="69.6" y1="428.8" x2="72.6" y2="428.8" stroke="#0072BD" stroke-width="1"/><line x1="69.6" y1="492.3" x2="72.6" y2="492.3" stroke="#0072BD" stroke-width="1"/><line x1="351.5" y1="378" x2="348.5" y2="378" stroke="#D95319" stroke-width="1"/><line x1="351.5" y1="409.75" x2="348.5" y2="409.75" stroke="#D95319" stroke-width="1"/><line x1="351.5" y1="441.5" x2="348.5" y2="441.5" stroke="#D95319" stroke-width="1"/><line x1="351.5" y1="473.25" x2="348.5" y2="473.25" stroke="#D95319" stroke-width="1"/><text x="65.6" y="368.75" text-anchor="end" style="font-family:'Liberation Sans',sans-serif;font-size:11px" fill="#0072BD" stroke="#0072BD" stroke-width="0.15">0</text><text x="65.6" y="432.25" text-anchor="end" style="font-family:'Liberation Sans',sans-serif;font-size:11px" fill="#0072BD" stroke="#0072BD" stroke-width="0.15">-0.2</text><text x="65.6" y="495.75" text-anchor="end" style="font-family:'Liberation Sans',sans-serif;font-size:11px" fill="#0072BD" stroke="#0072BD" stroke-width="0.15">-0.4</text><text x="355.0" y="381.9" style="font-family:'Liberation Sans',sans-serif;font-size:11px" fill="#D95319" stroke="#D95319" stroke-width="0.15">10</text><text x="355.0" y="413.65" style="font-family:'Liberation Sans',sans-serif;font-size:11px" fill="#D95319" stroke="#D95319" stroke-width="0.15">5</text><text x="355.0" y="445.4" style="font-family:'Liberation Sans',sans-serif;font-size:11px" fill="#D95319" stroke="#D95319" stroke-width="0.15">0</text><text x="355.0" y="477.15" style="font-family:'Liberation Sans',sans-serif;font-size:11px" fill="#D95319" stroke="#D95319" stroke-width="0.15">-5</text><line x1="489.17" y1="93.9" x2="489.17" y2="220.9" stroke="#e3e3e3" stroke-width="1"/><line x1="583.03" y1="93.9" x2="583.03" y2="220.9" stroke="#e3e3e3" stroke-width="1"/><line x1="395.3" y1="112.04" x2="676.9" y2="112.04" stroke="#e3e3e3" stroke-width="1"/><line x1="395.3" y1="157.4" x2="676.9" y2="157.4" stroke="#e3e3e3" stroke-width="1"/><line x1="395.3" y1="202.76" x2="676.9" y2="202.76" stroke="#e3e3e3" stroke-width="1"/><g clip-path="url(#cr0)"><path d="M394.3,159.58 L394.8,158.28 L395.3,157.5 L395.8,159.42 L396.3,160.11 L396.8,160.15 L397.3,159.97 L397.8,159.66 L398.3,159.36 L398.8,159.23 L399.3,161.87 L399.8,162.33 L400.3,160.27 L400.8,160.22 L401.3,160.1 L401.8,160.94 L402.3,162.62 L402.8,161.32 L403.3,161.38 L403.8,163.34 L404.3,162.15 L404.8,160.86 L405.3,161.95 L405.8,162.47 L406.3,163.07 L406.8,163 L407.3,162.11 L407.8,160.73 L408.3,162.33 L408.8,161.93 L409.3,160.89 L409.8,162.38 L410.3,160.71 L410.8,159.76 L411.3,161.52 L411.8,159.72 L412.3,158.99 L412.8,160.22 L413.3,159.19 L413.8,158.12 L414.3,158.67 L414.8,159.11 L415.3,159.57 L415.8,159.78 L416.3,160.17 L416.8,161.87 L417.3,160.04 L417.8,159.92 L418.3,161.89 L418.8,160.64 L419.3,160.88 L419.8,163.65 L420.3,163.49 L420.8,163.92 L421.3,163.7 L421.8,161.76 L422.3,163.32 L422.8,164.99 L423.3,164.43 L423.8,163.96 L424.3,165.01 L424.8,164.59 L425.3,165.53 L425.8,166.41 L426.3,165.01 L426.8,164.88 L427.3,164.27 L427.8,165.09 L428.3,164.84 L428.8,163.94 L429.3,165.01 L429.8,166.03 L430.3,166.42 L430.8,165 L431.3,164.81 L431.8,165.07 L432.3,163.34 L432.8,162.79 L433.3,163.07 L433.8,164.95 L434.3,168.26 L434.8,168.3 L435.3,168.35 L435.8,169.53 L436.3,168.63 L436.8,166.85 L437.3,164.54 L437.8,163.52 L438.3,162.64 L438.8,162.04 L439.3,161.77 L439.8,161.55 L440.3,160.57 L440.8,160.9 L441.3,160 L441.8,159.43 L442.3,159.9 L442.8,159.75 L443.3,160.72 L443.8,158.86 L444.3,158.94 L444.8,161.88 L445.3,162.39 L445.8,161.76 L446.3,159.53 L446.8,159.33 L447.3,160.62 L447.8,161.9 L448.3,162.61 L448.8,161.34 L449.3,160.22 L449.8,161.44 L450.3,162.36 L450.8,161.15 L451.3,162.01 L451.8,161.62 L452.3,160.23 L452.8,161.37 L453.3,160.04 L453.8,157 L454.3,157.48 L454.8,158.93 L455.3,157.35 L455.8,156.18 L456.3,156.91 L456.8,156.33 L457.3,158.09 L457.8,159.05 L458.3,159.22 L458.8,160.32 L459.3,160.42 L459.8,160.47 L460.3,159.43 L460.8,159.28 L461.3,160.31 L461.8,160.57 L462.3,160.05 L462.8,160.47 L463.3,161.07 L463.8,160.21 L464.3,160.12 L464.8,160.04 L465.3,159.93 L465.8,157.97 L466.3,156.91 L466.8,157.38 L467.3,158.45 L467.8,156.86 L468.3,156.49 L468.8,158.34 L469.3,158.32 L469.8,157.97 L470.3,157.01 L470.8,157.29 L471.3,156.7 L471.8,157.44 L472.3,158.65 L472.8,158.75 L473.3,157.79 L473.8,157.21 L474.3,158.82 L474.8,157.74 L475.3,156.62 L475.8,158.37 L476.3,159.74 L476.8,159.98 L477.3,159.57 L477.8,158.46 L478.3,158.88 L478.8,159.38 L479.3,159.41 L479.8,159.46 L480.3,158.76 L480.8,157.04 L481.3,159.48 L481.8,161.28 L482.3,160.41 L482.8,160.32 L483.3,161.17 L483.8,162.04 L484.3,162.33 L484.8,161.69 L485.3,160.7 L485.8,161.43 L486.3,161.18 L486.8,161.23 L487.3,162.85 L487.8,162.09 L488.3,160.47 L488.8,161.06 L489.3,160.41 L489.8,159.18 L490.3,160.91 L490.8,162.56 L491.3,160.23 L491.8,158.7 L492.3,160.17 L492.8,162.33 L493.3,162.17 L493.8,161.51 L494.3,162.25 L494.8,161.72 L495.3,161.36 L495.8,162.28 L496.3,160.26 L496.8,159.65 L497.3,160.36 L497.8,159.11 L498.3,158.27 L498.8,159.08 L499.3,159.82 L499.8,160.44 L500.3,159.27 L500.8,158.37 L501.3,161.24 L501.8,162.25 L502.3,161.15 L502.8,161.18 L503.3,160.63 L503.8,160.84 L504.3,162.52 L504.8,163.94 L505.3,164.7 L505.8,164.53 L506.3,163.41 L506.8,161.73 L507.3,161.83 L507.8,165.75 L508.3,166.23 L508.8,164.66 L509.3,165.21 L509.8,166.09 L510.3,165.35 L510.8,164.31 L511.3,164.14 L511.8,165.2 L512.3,164.38 L512.8,164.08 L513.3,165.19 L513.8,165.91 L514.3,166.15 L514.8,164.41 L515.3,165.12 L515.8,165.74 L516.3,163.74 L516.8,164.01 L517.3,164.67 L517.8,165.87 L518.3,165.77 L518.8,164.89 L519.3,166.98 L519.8,170.67 L520.3,172.75 L520.8,169.84 L521.3,165.94 L521.8,164.73 L522.3,163.69 L522.8,163.26 L523.3,163.59 L523.8,162.52 L524.3,161.63 L524.8,162.61 L525.3,161.86 L525.8,159.14 L526.3,160.71 L526.8,162.8 L527.3,161.4 L527.8,160.7 L528.3,162.52 L528.8,161.75 L529.3,159.67 L529.8,160.92 L530.3,159.44 L530.8,159.13 L531.3,161.84 L531.8,162.12 L532.3,162.6 L532.8,163.56 L533.3,162.52 L533.8,162.47 L534.3,163.25 L534.8,161.28 L535.3,159.9 L535.8,160.09 L536.3,159.73 L536.8,159.28 L537.3,157.74 L537.8,157.46 L538.3,156.52 L538.8,156.87 L539.3,158.45 L539.8,158.84 L540.3,159.1 L540.8,157.77 L541.3,156.61 L541.8,158.06 L542.3,159.75 L542.8,159.91 L543.3,160.92 L543.8,161.9 L544.3,161.35 L544.8,161.82 L545.3,161.75 L545.8,160.19 L546.3,160.77 L546.8,161.57 L547.3,162.08 L547.8,159.49 L548.3,159.32 L548.8,159.45 L549.3,157.64 L549.8,159.15 L550.3,160.52 L550.8,159.17 L551.3,156.82 L551.8,158.14 L552.3,159.78 L552.8,157.99 L553.3,157.37 L553.8,156.51 L554.3,157.26 L554.8,158.51 L555.3,159.1 L555.8,157.76 L556.3,157.32 L556.8,160.61 L557.3,160.49 L557.8,158.72 L558.3,156.96 L558.8,157.13 L559.3,158.79 L559.8,157.99 L560.3,156.62 L560.8,157.18 L561.3,157.65 L561.8,157.15 L562.3,158.3 L562.8,158.68 L563.3,158.4 L563.8,159.25 L564.3,158.23 L564.8,158.67 L565.3,158.87 L565.8,157.15 L566.3,158.6 L566.8,160.5 L567.3,161.05 L567.8,160.4 L568.3,159.92 L568.8,160.35 L569.3,160.28 L569.8,161.02 L570.3,161.66 L570.8,162.51 L571.3,162.04 L571.8,160.53 L572.3,161.51 L572.8,160.6 L573.3,159.61 L573.8,162.98 L574.3,163.22 L574.8,162.26 L575.3,161.32 L575.8,158.8 L576.3,159.16 L576.8,161.17 L577.3,160.87 L577.8,160.56 L578.3,159.72 L578.8,158.84 L579.3,160.17 L579.8,159.84 L580.3,159.68 L580.8,160.65 L581.3,158.7 L581.8,158.18 L582.3,159.84 L582.8,160.96 L583.3,160.49 L583.8,159.95 L584.3,158.7 L584.8,160.01 L585.3,160.93 L585.8,159.69 L586.3,160.04 L586.8,160.62 L587.3,160.25 L587.8,160.66 L588.3,161.62 L588.8,161.87 L589.3,161.29 L589.8,163.54 L590.3,164.1 L590.8,162.81 L591.3,164.26 L591.8,164.97 L592.3,166.11 L592.8,166 L593.3,165.06 L593.8,164.36 L594.3,165.08 L594.8,164.31 L595.3,162.83 L595.8,164.27 L596.3,165.12 L596.8,165.58 L597.3,165.94 L597.8,165.73 L598.3,164.76 L598.8,164.44 L599.3,165.66 L599.8,165.74 L600.3,165.29 L600.8,164.92 L601.3,162.56 L601.8,162.22 L602.3,164.43 L602.8,167.02 L603.3,168.36 L603.8,169.43 L604.3,169.32 L604.8,169.79 L605.3,171.61 L605.8,169.74 L606.3,168.02 L606.8,164.72 L607.3,164.01 L607.8,164.38 L608.3,163.68 L608.8,162.18 L609.3,162.01 L609.8,163.41 L610.3,163.39 L610.8,163.14 L611.3,161.6 L611.8,158.5 L612.3,159.15 L612.8,160.46 L613.3,159.36 L613.8,161.16 L614.3,161.72 L614.8,161.14 L615.3,161.7 L615.8,160.08 L616.3,161.37 L616.8,162.95 L617.3,161.26 L617.8,162.29 L618.3,162.61 L618.8,161.47 L619.3,161.5 L619.8,161.76 L620.3,160.93 L620.8,162.47 L621.3,161.12 L621.8,157.79 L622.3,157.05 L622.8,156.78 L623.3,158.27 L623.8,158.86 L624.3,158.2 L624.8,158.68 L625.3,157.38 L625.8,157.9 L626.3,159.25 L626.8,160.64 L627.3,161.1 L627.8,159.8 L628.3,160.6 L628.8,161.53 L629.3,159.39 L629.8,159.8 L630.3,162.28 L630.8,161.88 L631.3,159.86 L631.8,157.98 L632.3,157.9 L632.8,160.19 L633.3,160.71 L633.8,159.04 L634.3,159.31 L634.8,158.84 L635.3,157.04 L635.8,157.75 L636.3,158.29 L636.8,157.59 L637.3,156.71 L637.8,158.18 L638.3,158.43 L638.8,157.81 L639.3,159.47 L639.8,159.06 L640.3,158.58 L640.8,159.52 L641.3,160.61 L641.8,160.61 L642.3,158.05 L642.8,156.37 L643.3,156.37 L643.8,156.91 L644.3,157.91 L644.8,159 L645.3,158.31 L645.8,159.17 L646.3,160.27 L646.8,159.26 L647.3,158.68 L647.8,159.68 L648.3,159.07 L648.8,158.38 L649.3,157.84 L649.8,157.69 L650.3,159.04 L650.8,159.24 L651.3,159.53 L651.8,160.64 L652.3,161.27 L652.8,160.45 L653.3,159.87 L653.8,159.64 L654.3,161.74 L654.8,163.18 L655.3,162.07 L655.8,161.57 L656.3,161.58 L656.8,162.14 L657.3,161.04 L657.8,160.4 L658.3,162.03 L658.8,160.99 L659.3,159.08 L659.8,160.66 L660.3,160.74 L660.8,160.81 L661.3,160.49 L661.8,159.98 L662.3,161.57 L662.8,161.63 L663.3,161.52 L663.8,160.96 L664.3,160.08 L664.8,160.13 L665.3,160.63 L665.8,162.15 L666.3,162 L666.8,161.28 L667.3,161.03 L667.8,158.34 L668.3,158.28 L668.8,159.64 L669.3,160.21 L669.8,160.27 L670.3,160.94 L670.8,161.74 L671.3,162.51 L671.8,161.45 L672.3,161.12 L672.8,161.73 L673.3,162.3 L673.8,163.34 L674.3,163.46 L674.8,163.25 L675.3,162.51 L675.8,162.81 L676.3,164.2 L676.8,165.18 L677.3,163.26 L677.8,162.91" fill="none" stroke="#0072BD" stroke-width="2" stroke-linejoin="round"/><path d="M394.3,141.89 L394.8,138.73 L395.3,137.78 L395.8,141.44 L396.3,144.78 L396.8,151.66 L397.3,156.14 L397.8,153.73 L398.3,150.72 L398.8,152.28 L399.3,155.65 L399.8,158.33 L400.3,157.01 L400.8,157.63 L401.3,156.03 L401.8,151.75 L402.3,151.81 L402.8,152.94 L403.3,158.73 L403.8,163.07 L404.3,166.01 L404.8,166.47 L405.3,163.01 L405.8,160.14 L406.3,159.01 L406.8,160.44 L407.3,161.93 L407.8,162.48 L408.3,160.67 L408.8,165.31 L409.3,170.51 L409.8,173.33 L410.3,172.1 L410.8,170.12 L411.3,172.99 L411.8,179.11 L412.3,181.07 L412.8,179.74 L413.3,180.47 L413.8,180.85 L414.3,180.43 L414.8,181.3 L415.3,181.1 L415.8,180.28 L416.3,182.79 L416.8,183.62 L417.3,183.87 L417.8,181.79 L418.3,180.85 L418.8,181.02 L419.3,180.5 L419.8,183.05 L420.3,180.44 L420.8,179.46 L421.3,179.65 L421.8,177 L422.3,180.72 L422.8,182.74 L423.3,180.65 L423.8,180.16 L424.3,180.83 L424.8,177.88 L425.3,175.86 L425.8,175.83 L426.3,175.58 L426.8,175.25 L427.3,175.36 L427.8,175.53 L428.3,173.3 L428.8,172.91 L429.3,174.05 L429.8,175.24 L430.3,173.82 L430.8,171.18 L431.3,171.06 L431.8,171.85 L432.3,170.01 L432.8,165.47 L433.3,165.37 L433.8,167.57 L434.3,165.96 L434.8,169.12 L435.4,165.37 L435.9,102.97 L436.4,164.66 L437,164.3 L437.3,165.4 L437.8,164.97 L438.3,163.35 L438.8,163.1 L439.3,162.4 L439.8,162.25 L440.3,161.24 L440.8,157.35 L441.3,153.68 L441.8,152.6 L442.3,153.55 L442.8,151.84 L443.3,149.77 L443.8,148.1 L444.3,146.87 L444.8,147.64 L445.3,147.33 L445.8,145.58 L446.3,144.13 L446.8,142.73 L447.3,142.74 L447.8,143.93 L448.3,142.58 L448.8,141.22 L449.3,139.04 L449.8,135.09 L450.3,135.79 L450.8,133.27 L451.3,128.37 L451.8,127.53 L452.3,125.15 L452.8,123.08 L453.3,124.81 L453.8,125.21 L454.3,122.63 L454.8,123.2 L455.3,122.57 L455.8,124.01 L456.3,125.97 L456.8,126.11 L457.3,126.32 L457.8,125.39 L458.3,126.29 L458.8,127.52 L459.3,124.9 L459.8,123.63 L460.3,123.94 L460.8,126.48 L461.3,128.15 L461.8,126.72 L462.3,125.81 L462.8,125.93 L463.3,124.69 L463.8,123.85 L464.3,124.91 L464.8,124.62 L465.3,123.49 L465.8,124.02 L466.3,123.38 L466.8,122.46 L467.3,124.9 L467.8,126.97 L468.3,128 L468.8,127.93 L469.3,128.13 L469.8,129.31 L470.3,129.54 L470.8,130.01 L471.3,129.51 L471.8,129.86 L472.3,135.27 L472.8,134.3 L473.3,133.09 L473.8,139.49 L474.3,141.48 L474.8,141.62 L475.3,138.26 L475.8,136.26 L476.3,142.81 L476.8,143.02 L477.3,141.26 L477.8,139.07 L478.3,140.39 L478.8,146.84 L479.3,146.32 L479.8,143.1 L480.3,144.48 L480.8,149.94 L481.3,151.45 L481.8,146.74 L482.3,152.29 L482.8,153.72 L483.3,151.34 L483.8,149.19 L484.3,147.73 L484.8,152.83 L485.3,151.96 L485.8,151.35 L486.3,155.99 L486.8,156.84 L487.3,157.84 L487.8,164.08 L488.3,159.37 L488.8,156.84 L489.3,162.91 L489.8,161.88 L490.3,164.37 L490.8,167.86 L491.3,166.88 L491.8,165.72 L492.3,165.19 L492.8,162.5 L493.3,164.61 L493.8,167.09 L494.3,166.79 L494.8,173.17 L495.3,176.98 L495.8,178.56 L496.3,177.83 L496.8,175.78 L497.3,178.59 L497.8,182.76 L498.3,183.02 L498.8,182.32 L499.3,181.61 L499.8,180.8 L500.3,184.13 L500.8,182.44 L501.3,179.75 L501.8,182.63 L502.3,181.49 L502.8,180.35 L503.3,182.25 L503.8,180.74 L504.3,180.92 L504.8,181.54 L505.3,180.26 L505.8,176.71 L506.3,174.51 L506.8,176.64 L507.3,176.32 L507.8,175.79 L508.3,177.53 L508.8,175.73 L509.3,175.42 L509.8,172.69 L510.3,172.16 L510.8,177.01 L511.3,174.95 L511.8,173.42 L512.3,175.48 L512.8,177.91 L513.3,176.7 L513.8,170.91 L514.3,170.82 L514.8,170.1 L515.3,168.35 L515.8,168.99 L516.3,169.29 L516.8,169.51 L517.3,170.55 L517.8,167.43 L518.3,165.74 L518.8,168.24 L519.3,167.58 L519.8,165.34 L519.95,165.37 L520.45,97.53 L520.95,164.66 L521.55,164.3 L521.8,166.62 L522.3,167.03 L522.8,162.52 L523.3,162.38 L523.8,163.39 L524.3,159.59 L524.8,157.85 L525.3,158.94 L525.8,159.04 L526.3,156.25 L526.8,153.76 L527.3,153.65 L527.8,154.99 L528.3,151.75 L528.8,147.69 L529.3,147.21 L529.8,148.03 L530.3,146.62 L530.8,144.33 L531.3,142.41 L531.8,142.76 L532.3,142.33 L532.8,139.61 L533.3,139.8 L533.8,137.97 L534.3,135.14 L534.8,134.48 L535.3,132.39 L535.8,131.98 L536.3,130.93 L536.8,127.17 L537.3,125.65 L537.8,124.09 L538.3,125.29 L538.8,127.9 L539.3,125.93 L539.8,123.41 L540.3,121 L540.8,120.97 L541.3,124.62 L541.8,124.38 L542.3,124.34 L542.8,127.29 L543.3,122.84 L543.8,120.92 L544.3,122.94 L544.8,122.65 L545.3,121.35 L545.8,121.91 L546.3,122.9 L546.8,124.82 L547.3,128.41 L547.8,125.13 L548.3,121.57 L548.8,122.22 L549.3,123.71 L549.8,123.99 L550.3,125.1 L550.8,123.11 L551.3,121.39 L551.8,123.72 L552.3,125.49 L552.8,126.26 L553.3,127.51 L553.8,128.97 L554.3,131.82 L554.8,132.35 L555.3,127.56 L555.8,129.03 L556.3,132.69 L556.8,130.71 L557.3,129.63 L557.8,131.99 L558.3,138.55 L558.8,140.68 L559.3,140.75 L559.8,143.48 L560.3,141 L560.8,140.42 L561.3,140.25 L561.8,136.87 L562.3,137.08 L562.8,139.19 L563.3,142.35 L563.8,145.03 L564.3,145.61 L564.8,145.79 L565.3,147.09 L565.8,150.18 L566.3,151.51 L566.8,153.95 L567.3,156.86 L567.8,157.6 L568.3,154.49 L568.8,151.86 L569.3,150.96 L569.8,149.33 L570.3,152.83 L570.8,154.63 L571.3,158.12 L571.8,155.96 L572.3,153.33 L572.8,157.53 L573.3,163.1 L573.8,162.32 L574.3,164.27 L574.8,167.08 L575.3,162.09 L575.8,160.86 L576.3,164.12 L576.8,162.91 L577.3,164.81 L577.8,167.08 L578.3,166.97 L578.8,170.72 L579.3,171.31 L579.8,174.79 L580.3,174.42 L580.8,174.86 L581.3,175.59 L581.8,177.38 L582.3,180.79 L582.8,181.51 L583.3,185.83 L583.8,183.56 L584.3,180.06 L584.8,183.28 L585.3,182.67 L585.8,182.03 L586.3,184.13 L586.8,181.82 L587.3,180.51 L587.8,183.78 L588.3,181.16 L588.8,176.28 L589.3,179.41 L589.8,181.86 L590.3,183.57 L590.8,183.34 L591.3,180.15 L591.8,178.29 L592.3,180.84 L592.8,180.89 L593.3,176.3 L593.8,175.62 L594.3,178.47 L594.8,175.31 L595.3,173.16 L595.8,174.63 L596.3,175.8 L596.8,177.81 L597.3,178.12 L597.8,176.42 L598.3,174.73 L598.8,173.18 L599.3,171.67 L599.8,171.31 L600.3,171.12 L600.8,172.1 L601.3,173.83 L601.8,173.08 L602.3,170.84 L602.8,170.32 L603.3,168.71 L603.8,168.79 L604.3,169.19 L604.8,165.37 L605.3,96.17 L605.8,164.66 L606.4,164.3 L606.8,163.68 L607.3,165.2 L607.8,164.42 L608.3,160.03 L608.8,159.92 L609.3,159.65 L609.8,155.84 L610.3,154.58 L610.8,155.91 L611.3,154.19 L611.8,151.92 L612.3,153.67 L612.8,152.97 L613.3,150.72 L613.8,149.13 L614.3,148.81 L614.8,145.92 L615.3,145.23 L615.8,146.77 L616.3,143.49 L616.8,139.94 L617.3,138.22 L617.8,139.1 L618.3,137.77 L618.8,134.44 L619.3,132.19 L619.8,132.85 L620.3,133.14 L620.8,130.23 L621.3,130.95 L621.8,130.17 L622.3,125.78 L622.8,124.75 L623.3,126.45 L623.8,124.29 L624.3,121.93 L624.8,121.77 L625.3,124.04 L625.8,125.37 L626.3,123.04 L626.8,123.81 L627.3,126.1 L627.8,124.19 L628.3,121.2 L628.8,123.76 L629.3,127.67 L629.8,127.75 L630.3,127.75 L630.8,126.25 L631.3,124.32 L631.8,124.5 L632.3,126.33 L632.8,125.88 L633.3,126.11 L633.8,126.21 L634.3,125.59 L634.8,121.67 L635.3,120.75 L635.8,124.31 L636.3,127.27 L636.8,127.82 L637.3,130.24 L637.8,132.25 L638.3,132.31 L638.8,130.79 L639.3,130.59 L639.8,133.23 L640.3,134.73 L640.8,135.45 L641.3,133.67 L641.8,132.43 L642.3,131.65 L642.8,134.54 L643.3,137.02 L643.8,137.07 L644.3,139.4 L644.8,143.65 L645.3,145.05 L645.8,141.9 L646.3,137.52 L646.8,138.69 L647.3,140.03 L647.8,141.3 L648.3,143.51 L648.8,144.19 L649.3,141.98 L649.8,140.5 L650.3,144.68 L650.8,149.02 L651.3,150.23 L651.8,150.07 L652.3,153.24 L652.8,150.76 L653.3,148.78 L653.8,152.44 L654.3,150.26 L654.8,148.64 L655.3,152.69 L655.8,154.8 L656.3,158.08 L656.8,161.74 L657.3,164.62 L657.8,162.03 L658.3,161.8 L658.8,163.41 L659.3,161.57 L659.8,165.56 L660.3,164.74 L660.8,162.69 L661.3,161.59 L661.8,159.07 L662.3,160.39 L662.8,163.21 L663.3,166.35 L663.8,168.47 L664.3,169.86 L664.8,175.43 L665.3,178.07 L665.8,178.26 L666.3,178.5 L666.8,178.24 L667.3,180.23 L667.8,182.99 L668.3,180.94 L668.8,183.27 L669.3,186.36 L669.8,180.48 L670.3,184.81 L670.8,187.72 L671.3,182.9 L671.8,184.4 L672.3,180.33 L672.8,181.3 L673.3,182.6 L673.8,175.34 L674.3,175.23 L674.8,178.08 L675.3,178.84 L675.8,179.8 L676.3,178.88 L676.8,179.07 L677.3,180.62 L677.8,176.97" fill="none" stroke="#D95319" stroke-width="2" stroke-linejoin="round"/><path d="M394.3,173.44 L394.8,171.78 L395.3,174.76 L395.8,175.3 L396.3,174.65 L396.8,175.41 L397.3,174.6 L397.8,174.72 L398.3,173.82 L398.8,173.8 L399.3,173.69 L399.8,172.84 L400.3,172.79 L400.8,173.13 L401.3,174.4 L401.8,174.92 L402.3,173.7 L402.8,171.52 L403.3,170.61 L403.8,170.77 L404.3,171.94 L404.8,173.72 L405.3,173.74 L405.8,173.66 L406.3,172.57 L406.8,171.45 L407.3,173.65 L407.8,175.05 L408.3,172.33 L408.8,170.91 L409.3,172.28 L409.8,171.14 L410.3,171.26 L410.8,173.17 L411.3,173.94 L411.8,176.57 L412.3,175.97 L412.8,175.75 L413.3,177.42 L413.8,176.73 L414.3,174.94 L414.8,173.64 L415.3,173.7 L415.8,174.67 L416.3,174.05 L416.8,173.17 L417.3,172.21 L417.8,169.78 L418.3,169.7 L418.8,167.5 L419.3,166.6 L419.8,167.54 L420.3,167.41 L420.8,167.6 L421.3,165.87 L421.8,163.22 L422.3,164.08 L422.8,162.52 L423.3,159.12 L423.8,158.05 L424.3,157.28 L424.8,158.9 L425.3,160 L425.8,156.17 L426.3,154.13 L426.8,157.05 L427.3,156.43 L427.8,154.78 L428.3,156.52 L428.8,156.15 L429.3,155.48 L429.8,153.6 L430.3,151.26 L430.8,151.1 L431.3,149.99 L431.8,148.28 L432.3,149.94 L432.8,149.97 L433.3,147.71 L433.8,147.68 L434.3,146.03 L434.8,142.86 L435.4,136.95 L435.8,239.04 L436.2,239.04 L436.5,134.72 L437,139.7 L437.3,139.87 L437.8,145.12 L438.3,145.3 L438.8,144 L439.3,144.91 L439.8,147.93 L440.3,148.59 L440.8,149.34 L441.3,152.48 L441.8,152.81 L442.3,151.81 L442.8,150.38 L443.3,149.55 L443.8,150.26 L444.3,149.87 L444.8,149.69 L445.3,149.68 L445.8,151.23 L446.3,153.33 L446.8,151.71 L447.3,151.75 L447.8,153.19 L448.3,152.15 L448.8,152.67 L449.3,153.34 L449.8,151.57 L450.3,153.93 L450.8,154.59 L451.3,150.33 L451.8,150.58 L452.3,153.13 L452.8,152.51 L453.3,150.8 L453.8,152.93 L454.3,155.17 L454.8,154.74 L455.3,155.05 L455.8,155.59 L456.3,156.43 L456.8,157.96 L457.3,159.42 L457.8,160.32 L458.3,161.62 L458.8,161.54 L459.3,161.44 L459.8,162.97 L460.3,161.6 L460.8,160.97 L461.3,164.61 L461.8,163.89 L462.3,163.96 L462.8,165.45 L463.3,165.6 L463.8,166.79 L464.3,167.44 L464.8,169.01 L465.3,169.63 L465.8,167.11 L466.3,169.69 L466.8,171.9 L467.3,169.18 L467.8,170.46 L468.3,172.47 L468.8,169.18 L469.3,168.26 L469.8,168.53 L470.3,167.96 L470.8,170.19 L471.3,170.54 L471.8,170.23 L472.3,169.76 L472.8,170.2 L473.3,171.48 L473.8,171.89 L474.3,170.73 L474.8,170.17 L475.3,172.76 L475.8,174.39 L476.3,173.07 L476.8,173.14 L477.3,173.98 L477.8,174.43 L478.3,174.4 L478.8,173.06 L479.3,171.85 L479.8,172.43 L480.3,171.42 L480.8,171.64 L481.3,171.26 L481.8,171.36 L482.3,172.46 L482.8,174.09 L483.3,176.7 L483.8,176.62 L484.3,173.84 L484.8,171.46 L485.3,172.92 L485.8,172.76 L486.3,171.42 L486.8,172.6 L487.3,175.04 L487.8,175.75 L488.3,173.58 L488.8,173.19 L489.3,172.92 L489.8,175.02 L490.3,174.24 L490.8,172.35 L491.3,172.66 L491.8,172.1 L492.3,171.25 L492.8,171.96 L493.3,174.19 L493.8,175.01 L494.3,172.21 L494.8,169.91 L495.3,171.53 L495.8,173.41 L496.3,174.32 L496.8,174.66 L497.3,175.66 L497.8,176.64 L498.3,173.83 L498.8,172.45 L499.3,174.82 L499.8,175.76 L500.3,175.15 L500.8,172.27 L501.3,170.02 L501.8,170.46 L502.3,170.73 L502.8,170.39 L503.3,171.2 L503.8,169.06 L504.3,167.02 L504.8,165.64 L505.3,165.8 L505.8,167.76 L506.3,164.79 L506.8,163.38 L507.3,164.17 L507.8,163.41 L508.3,160.62 L508.8,158.41 L509.3,157.89 L509.8,156.54 L510.3,154.81 L510.8,154.99 L511.3,155.5 L511.8,155.59 L512.3,154.51 L512.8,152.69 L513.3,152.57 L513.8,152.4 L514.3,152.13 L514.8,153.41 L515.3,153.41 L515.8,150.35 L516.3,148.02 L516.8,146.29 L517.3,145.78 L517.8,145.64 L518.3,143.29 L518.8,141.85 L519.3,142.03 L519.8,139.36 L519.95,136.95 L520.35,239.04 L520.75,239.04 L521.05,132 L521.55,139.7 L521.8,139.1 L522.3,141.77 L522.8,142.08 L523.3,143.02 L523.8,146.42 L524.3,147.55 L524.8,149.3 L525.3,149.74 L525.8,149.88 L526.3,149.14 L526.8,148.64 L527.3,149.81 L527.8,150.64 L528.3,152.64 L528.8,152.44 L529.3,151.77 L529.8,150.62 L530.3,149.72 L530.8,148.97 L531.3,148.28 L531.8,149.39 L532.3,150.21 L532.8,151.2 L533.3,151.08 L533.8,150.62 L534.3,152.31 L534.8,152.93 L535.3,150.21 L535.8,150.31 L536.3,153.38 L536.8,154.12 L537.3,155.5 L537.8,153.65 L538.3,152.24 L538.8,153.5 L539.3,152.2 L539.8,152.63 L540.3,154.41 L540.8,156.9 L541.3,156.22 L541.8,157.75 L542.3,158.58 L542.8,159.58 L543.3,158.9 L543.8,158.68 L544.3,160.44 L544.8,160.21 L545.3,160.08 L545.8,161.41 L546.3,162.57 L546.8,161.89 L547.3,162.53 L547.8,165.4 L548.3,167.77 L548.8,168.91 L549.3,169.86 L549.8,169.93 L550.3,168.85 L550.8,171.32 L551.3,171.71 L551.8,168.96 L552.3,168.9 L552.8,170.7 L553.3,169.63 L553.8,169.49 L554.3,172.3 L554.8,172.93 L555.3,171.9 L555.8,169.99 L556.3,169.03 L556.8,170.13 L557.3,172.87 L557.8,173.99 L558.3,173.82 L558.8,173.45 L559.3,174.49 L559.8,174.29 L560.3,171.82 L560.8,172.18 L561.3,172.47 L561.8,173.39 L562.3,175.51 L562.8,175.29 L563.3,172.63 L563.8,170.98 L564.3,172.83 L564.8,172.78 L565.3,172.77 L565.8,172.57 L566.3,171.82 L566.8,173.98 L567.3,173.71 L567.8,174.07 L568.3,175.86 L568.8,176.46 L569.3,175.03 L569.8,173.36 L570.3,173.53 L570.8,173.75 L571.3,172.04 L571.8,172.02 L572.3,174.37 L572.8,172.73 L573.3,170.84 L573.8,171.78 L574.3,175.31 L574.8,176.46 L575.3,174.06 L575.8,173.41 L576.3,172.26 L576.8,173.45 L577.3,174.03 L577.8,172.86 L578.3,171.82 L578.8,170.95 L579.3,171.1 L579.8,171.77 L580.3,174.85 L580.8,176.05 L581.3,176.11 L581.8,176.77 L582.3,175.3 L582.8,172.89 L583.3,173.52 L583.8,175.55 L584.3,175.34 L584.8,174.26 L585.3,171.86 L585.8,170.08 L586.3,170.47 L586.8,170.72 L587.3,172.92 L587.8,172.55 L588.3,171.52 L588.8,169.87 L589.3,168.09 L589.8,168.76 L590.3,168.6 L590.8,165.12 L591.3,164.35 L591.8,165.41 L592.3,163.04 L592.8,161.4 L593.3,160.57 L593.8,158.48 L594.3,155.5 L594.8,157.33 L595.3,158.63 L595.8,156.17 L596.3,155.73 L596.8,155.45 L597.3,155.18 L597.8,153.33 L598.3,152.81 L598.8,153.33 L599.3,152.17 L599.8,151.22 L600.3,150.68 L600.8,148.97 L601.3,147.98 L601.8,147.98 L602.3,147.1 L602.8,147.43 L603.3,147.19 L603.8,145.79 L604.3,142.4 L604.8,136.95 L605.2,239.04 L605.6,239.04 L605.9,129.28 L606.4,139.7 L606.8,142.54 L607.3,142.85 L607.8,142.2 L608.3,145.2 L608.8,145.22 L609.3,146.25 L609.8,149.23 L610.3,148.05 L610.8,149.37 L611.3,152.25 L611.8,150.25 L612.3,151.25 L612.8,152.2 L613.3,150.59 L613.8,148.21 L614.3,149.16 L614.8,151.71 L615.3,150.04 L615.8,149.95 L616.3,152.08 L616.8,151.98 L617.3,150.89 L617.8,151.18 L618.3,150.42 L618.8,150.1 L619.3,151.08 L619.8,151.98 L620.3,153.69 L620.8,154.26 L621.3,152.96 L621.8,153.34 L622.3,153.59 L622.8,154.2 L623.3,152.88 L623.8,151.44 L624.3,152.83 L624.8,155.51 L625.3,156.26 L625.8,156.29 L626.3,156.48 L626.8,158.53 L627.3,159.86 L627.8,160.34 L628.3,161.64 L628.8,161.51 L629.3,161.64 L629.8,162.24 L630.3,161.81 L630.8,161.73 L631.3,162.48 L631.8,163.3 L632.3,165.13 L632.8,166.49 L633.3,166.66 L633.8,167.94 L634.3,168.31 L634.8,168 L635.3,170.46 L635.8,171.27 L636.3,170.84 L636.8,170.01 L637.3,170.61 L637.8,172.51 L638.3,172.62 L638.8,170.19 L639.3,169.96 L639.8,171.82 L640.3,171.29 L640.8,173.6 L641.3,173.67 L641.8,171.33 L642.3,171.4 L642.8,171.29 L643.3,171.61 L643.8,172.73 L644.3,172.86 L644.8,172.6 L645.3,170.28 L645.8,170.35 L646.3,172.24 L646.8,173.37 L647.3,174.47 L647.8,172.36 L648.3,172.85 L648.8,175.5 L649.3,174.55 L649.8,174.17 L650.3,172.13 L650.8,174.3 L651.3,176.09 L651.8,172.9 L652.3,174.51 L652.8,175.96 L653.3,174.24 L653.8,171.69 L654.3,172.95 L654.8,176.12 L655.3,173.97 L655.8,170.57 L656.3,171.84 L656.8,175.72 L657.3,174 L657.8,172.01 L658.3,172.54 L658.8,172.57 L659.3,174.33 L659.8,174.9 L660.3,173.01 L660.8,171.43 L661.3,174.58 L661.8,176.14 L662.3,172.27 L662.8,171.29 L663.3,174.27 L663.8,173.63 L664.3,172.21 L664.8,172.54 L665.3,173.55 L665.8,174.59 L666.3,175.41 L666.8,175.38 L667.3,176.05 L667.8,176.59 L668.3,175.53 L668.8,173.3 L669.3,172.08 L669.8,172.85 L670.3,171.94 L670.8,170.71 L671.3,169.54 L671.8,168.95 L672.3,167.76 L672.8,167.17 L673.3,167.97 L673.8,169.38 L674.3,167.88 L674.8,166.28 L675.3,166.58 L675.8,167.54 L676.3,167.02 L676.8,164.37 L677.3,160.07 L677.8,158.3" fill="none" stroke="#EDB120" stroke-width="2" stroke-linejoin="round"/></g><rect x="395.3" y="93.9" width="281.6" height="127" fill="none" stroke="#262626" stroke-opacity="0.6" stroke-width="1.3"/><line x1="489.17" y1="93.9" x2="489.17" y2="96.9" stroke="#262626" stroke-width="1"/><line x1="489.17" y1="220.9" x2="489.17" y2="217.9" stroke="#262626" stroke-width="1"/><line x1="583.03" y1="93.9" x2="583.03" y2="96.9" stroke="#262626" stroke-width="1"/><line x1="583.03" y1="220.9" x2="583.03" y2="217.9" stroke="#262626" stroke-width="1"/><line x1="395.3" y1="112.04" x2="398.3" y2="112.04" stroke="#262626" stroke-width="1"/><line x1="676.9" y1="112.04" x2="673.9" y2="112.04" stroke="#262626" stroke-width="1"/><text x="391.8" y="115.94" text-anchor="end" style="font-family:'Liberation Sans',sans-serif;font-size:11px" fill="#262626" stroke="#262626" stroke-width="0.15">5</text><line x1="395.3" y1="157.4" x2="398.3" y2="157.4" stroke="#262626" stroke-width="1"/><line x1="676.9" y1="157.4" x2="673.9" y2="157.4" stroke="#262626" stroke-width="1"/><text x="391.8" y="161.3" text-anchor="end" style="font-family:'Liberation Sans',sans-serif;font-size:11px" fill="#262626" stroke="#262626" stroke-width="0.15">0</text><line x1="395.3" y1="202.76" x2="398.3" y2="202.76" stroke="#262626" stroke-width="1"/><line x1="676.9" y1="202.76" x2="673.9" y2="202.76" stroke="#262626" stroke-width="1"/><text x="391.8" y="206.66" text-anchor="end" style="font-family:'Liberation Sans',sans-serif;font-size:11px" fill="#262626" stroke="#262626" stroke-width="0.15">-5</text><line x1="489.17" y1="229.4" x2="489.17" y2="355.6" stroke="#e3e3e3" stroke-width="1"/><line x1="583.03" y1="229.4" x2="583.03" y2="355.6" stroke="#e3e3e3" stroke-width="1"/><line x1="395.3" y1="247.43" x2="676.9" y2="247.43" stroke="#e3e3e3" stroke-width="1"/><line x1="395.3" y1="292.5" x2="676.9" y2="292.5" stroke="#e3e3e3" stroke-width="1"/><line x1="395.3" y1="337.57" x2="676.9" y2="337.57" stroke="#e3e3e3" stroke-width="1"/><g clip-path="url(#cr1)"><path d="M394.3,293.04 L394.8,294.11 L395.3,295.02 L395.8,296.01 L396.3,296.08 L396.8,296.15 L397.3,295.27 L397.8,293.75 L398.3,293.41 L398.8,293.22 L399.3,294.6 L399.8,294.67 L400.3,294.53 L400.8,294.37 L401.3,293.84 L401.8,295.27 L402.3,295.61 L402.8,294.79 L403.3,295.13 L403.8,294.49 L404.3,292.95 L404.8,293.99 L405.3,295.82 L405.8,297.39 L406.3,297.36 L406.8,295.89 L407.3,297.59 L407.8,297.13 L408.3,294.85 L408.8,295.78 L409.3,296.65 L409.8,296.9 L410.3,295.98 L410.8,296.5 L411.3,297.46 L411.8,294.55 L412.3,294.29 L412.8,295.59 L413.3,295.8 L413.8,297.24 L414.3,297.18 L414.8,295.88 L415.3,296.76 L415.8,296.86 L416.3,294.98 L416.8,294.4 L417.3,296.85 L417.8,298.57 L418.3,298.62 L418.8,297.02 L419.3,295.18 L419.8,295.54 L420.3,296.85 L420.8,298.48 L421.3,297.72 L421.8,296.69 L422.3,297.53 L422.8,297.55 L423.3,296.33 L423.8,296.31 L424.3,297.79 L424.8,299.28 L425.3,299.25 L425.8,297.38 L426.3,297.46 L426.8,298.04 L427.3,298.52 L427.8,297.7 L428.3,297.33 L428.8,298.02 L429.3,298.98 L429.8,299.75 L430.3,298.89 L430.8,299.25 L431.3,300.33 L431.8,299.38 L432.3,296.74 L432.8,295.64 L433.3,294.7 L433.8,294.62 L434.3,295.93 L434.8,296.93 L435.3,297.15 L435.8,295 L436.3,294.92 L436.8,296.49 L437.3,297.27 L437.8,299.01 L438.3,300.75 L438.8,301.33 L439.3,300.84 L439.8,300.4 L440.3,300.15 L440.8,299.82 L441.3,300.21 L441.8,299.85 L442.3,299.34 L442.8,297.73 L443.3,298.39 L443.8,299.24 L444.3,295.28 L444.8,295.25 L445.3,298.13 L445.8,297.75 L446.3,295.59 L446.8,295.61 L447.3,296.08 L447.8,295.75 L448.3,296.47 L448.8,294 L449.3,293.88 L449.8,296.26 L450.3,296.61 L450.8,295.7 L451.3,294.81 L451.8,294.36 L452.3,294.47 L452.8,296.23 L453.3,295.79 L453.8,294.74 L454.3,295.35 L454.8,296.27 L455.3,296.45 L455.8,295.75 L456.3,295.25 L456.8,295.85 L457.3,295.76 L457.8,294.42 L458.3,295.42 L458.8,296.05 L459.3,295.83 L459.8,294.53 L460.3,295.95 L460.8,296.68 L461.3,296.27 L461.8,296.35 L462.3,294.22 L462.8,294.39 L463.3,294.99 L463.8,295.17 L464.3,293.64 L464.8,292.46 L465.3,292.84 L465.8,294.74 L466.3,296.64 L466.8,294.59 L467.3,293.82 L467.8,294.95 L468.3,294.47 L468.8,295.28 L469.3,294.86 L469.8,293.71 L470.3,293.89 L470.8,294.4 L471.3,294.29 L471.8,294.24 L472.3,293.78 L472.8,292.15 L473.3,292.11 L473.8,292.56 L474.3,292.73 L474.8,295.41 L475.3,295.2 L475.8,293.11 L476.3,293.73 L476.8,293.75 L477.3,295.03 L477.8,295.28 L478.3,293.58 L478.8,291.96 L479.3,293.11 L479.8,295.14 L480.3,293.44 L480.8,293.49 L481.3,293.03 L481.8,292.31 L482.3,294.88 L482.8,294.16 L483.3,292.19 L483.8,294.14 L484.3,294.32 L484.8,293.41 L485.3,293.53 L485.8,293.69 L486.3,296.36 L486.8,295.68 L487.3,293.63 L487.8,292.81 L488.3,292.88 L488.8,293.01 L489.3,294.75 L489.8,295.85 L490.3,295.97 L490.8,296.3 L491.3,296.35 L491.8,297.59 L492.3,297.55 L492.8,295.47 L493.3,293.55 L493.8,293.6 L494.3,295.52 L494.8,295.74 L495.3,296.42 L495.8,297.45 L496.3,298.04 L496.8,296.36 L497.3,294.31 L497.8,296.57 L498.3,297.16 L498.8,295.4 L499.3,294.97 L499.8,295.49 L500.3,296.69 L500.8,297.59 L501.3,296.83 L501.8,295.55 L502.3,296.38 L502.8,298.16 L503.3,296.54 L503.8,296.42 L504.3,296.53 L504.8,295.58 L505.3,295.79 L505.8,294.69 L506.3,294.78 L506.8,295.65 L507.3,297.06 L507.8,298.36 L508.3,297.09 L508.8,295.26 L509.3,295.06 L509.8,295.12 L510.3,295.19 L510.8,296.94 L511.3,296.43 L511.8,296.7 L512.3,297.76 L512.8,298.84 L513.3,298.13 L513.8,298.32 L514.3,298.88 L514.8,299.27 L515.3,298.81 L515.8,298.35 L516.3,298.19 L516.8,298.12 L517.3,298.55 L517.8,295.48 L518.3,295.43 L518.8,296.19 L519.3,295.84 L519.8,297.58 L520.3,297.44 L520.8,295.8 L521.3,297.97 L521.8,298.96 L522.3,299.8 L522.8,302.11 L523.3,302.11 L523.8,302.09 L524.3,299.99 L524.8,300.32 L525.3,301.05 L525.8,298.21 L526.3,299.8 L526.8,300.41 L527.3,298.77 L527.8,297.38 L528.3,297.35 L528.8,295.82 L529.3,296.33 L529.8,298.09 L530.3,298.87 L530.8,298.78 L531.3,297.18 L531.8,296.99 L532.3,295.89 L532.8,297.21 L533.3,295.82 L533.8,293.88 L534.3,294.22 L534.8,296.02 L535.3,296.96 L535.8,296.29 L536.3,296.17 L536.8,296.55 L537.3,295.71 L537.8,294.46 L538.3,294.42 L538.8,294.96 L539.3,294.1 L539.8,293.44 L540.3,296.75 L540.8,296.71 L541.3,295.17 L541.8,293.8 L542.3,294.01 L542.8,295.04 L543.3,295.35 L543.8,294.57 L544.3,294.39 L544.8,295.47 L545.3,295.72 L545.8,294.73 L546.3,294.55 L546.8,296.45 L547.3,295.47 L547.8,294.64 L548.3,294.87 L548.8,293.95 L549.3,293.23 L549.8,292.66 L550.3,294.17 L550.8,295.2 L551.3,295.81 L551.8,294.24 L552.3,292.76 L552.8,292.98 L553.3,293.58 L553.8,296.45 L554.3,294.82 L554.8,292.93 L555.3,294.04 L555.8,293.99 L556.3,293.48 L556.8,292.99 L557.3,294.81 L557.8,294.26 L558.3,293.29 L558.8,294.55 L559.3,292.58 L559.8,291.5 L560.3,293.09 L560.8,295.45 L561.3,295.03 L561.8,293.02 L562.3,293.25 L562.8,294.81 L563.3,295.46 L563.8,295.52 L564.3,294.73 L564.8,293.03 L565.3,292.41 L565.8,293.8 L566.3,294.54 L566.8,293.52 L567.3,294.21 L567.8,294.87 L568.3,292.69 L568.8,292.46 L569.3,293.57 L569.8,294.19 L570.3,294.97 L570.8,296.13 L571.3,296.26 L571.8,293.86 L572.3,292.82 L572.8,292.89 L573.3,293.47 L573.8,294.52 L574.3,295.68 L574.8,295.93 L575.3,294.97 L575.8,295.57 L576.3,295.36 L576.8,295.59 L577.3,297.72 L577.8,297.77 L578.3,297.82 L578.8,297.88 L579.3,296.02 L579.8,295.07 L580.3,295.89 L580.8,294.78 L581.3,293.94 L581.8,295.4 L582.3,295.38 L582.8,294.67 L583.3,295.83 L583.8,295.83 L584.3,297.08 L584.8,298.17 L585.3,297.09 L585.8,295.95 L586.3,296.22 L586.8,296.89 L587.3,295.8 L587.8,294.54 L588.3,294.76 L588.8,294.93 L589.3,295.98 L589.8,297.36 L590.3,296.79 L590.8,296.84 L591.3,297.59 L591.8,295.98 L592.3,295.77 L592.8,298.05 L593.3,297.52 L593.8,295.21 L594.3,295.62 L594.8,296.2 L595.3,296.72 L595.8,298.26 L596.3,298.6 L596.8,298.46 L597.3,296.5 L597.8,297.54 L598.3,297.88 L598.8,297.89 L599.3,299.57 L599.8,298.02 L600.3,297.1 L600.8,297.16 L601.3,298.52 L601.8,297.78 L602.3,296.58 L602.8,294.38 L603.3,293.54 L603.8,295.5 L604.3,296.3 L604.8,297.22 L605.3,298.1 L605.8,297.86 L606.3,298.11 L606.8,299.56 L607.3,300.84 L607.8,302.35 L608.3,300.84 L608.8,301.03 L609.3,302.96 L609.8,301.42 L610.3,300.17 L610.8,300.18 L611.3,297.8 L611.8,297.62 L612.3,297.37 L612.8,297.07 L613.3,296.4 L613.8,294.85 L614.3,296.13 L614.8,297.33 L615.3,297.54 L615.8,297.09 L616.3,295.3 L616.8,296.58 L617.3,296.66 L617.8,296.43 L618.3,297.82 L618.8,297.95 L619.3,295.44 L619.8,293.75 L620.3,295.2 L620.8,295.71 L621.3,294.89 L621.8,295.99 L622.3,296.77 L622.8,293.02 L623.3,293.28 L623.8,295.06 L624.3,294.1 L624.8,294.76 L625.3,295.27 L625.8,293.74 L626.3,293.59 L626.8,294.09 L627.3,294.55 L627.8,294.6 L628.3,294.26 L628.8,293.29 L629.3,292.72 L629.8,294.17 L630.3,296.68 L630.8,296.04 L631.3,293.32 L631.8,294.71 L632.3,296.68 L632.8,296.68 L633.3,294.76 L633.8,294.69 L634.3,295.87 L634.8,294.78 L635.3,293.35 L635.8,293.55 L636.3,294.67 L636.8,295.11 L637.3,293.61 L637.8,292.38 L638.3,293.61 L638.8,295.64 L639.3,296.16 L639.8,294.4 L640.3,294.26 L640.8,293.92 L641.3,292.91 L641.8,293.34 L642.3,293.02 L642.8,292.78 L643.3,294 L643.8,294.65 L644.3,291.9 L644.8,292.63 L645.3,295.01 L645.8,293.09 L646.3,292.84 L646.8,294.47 L647.3,295.5 L647.8,294.4 L648.3,292.47 L648.8,291.8 L649.3,292.68 L649.8,293.05 L650.3,294.05 L650.8,294.86 L651.3,294.62 L651.8,294.68 L652.3,293.53 L652.8,292.83 L653.3,294.37 L653.8,294.27 L654.3,293.9 L654.8,295.91 L655.3,295.73 L655.8,296.17 L656.3,296.09 L656.8,294.68 L657.3,294.93 L657.8,294.79 L658.3,294.96 L658.8,295.48 L659.3,296.51 L659.8,296.55 L660.3,296.11 L660.8,296.59 L661.3,296.01 L661.8,295.53 L662.3,296.9 L662.8,297.83 L663.3,297.35 L663.8,295.67 L664.3,295.16 L664.8,294.85 L665.3,294.09 L665.8,294.47 L666.3,295.64 L666.8,296.97 L667.3,297.8 L667.8,297.36 L668.3,296.38 L668.8,295.83 L669.3,296.1 L669.8,296.46 L670.3,295.97 L670.8,295.71 L671.3,296.04 L671.8,296 L672.3,296.77 L672.8,297.95 L673.3,297.12 L673.8,295.94 L674.3,296.59 L674.8,297.34 L675.3,295.27 L675.8,295.61 L676.3,297.78 L676.8,296.96 L677.3,297.81 L677.8,298" fill="none" stroke="#0072BD" stroke-width="2" stroke-linejoin="round"/><path d="M394.3,279.73 L394.8,279.88 L395.3,281.05 L395.8,283.87 L396.3,284.42 L396.8,283.42 L397.3,283.97 L397.8,285.25 L398.3,289.56 L398.8,289.82 L399.3,285.88 L399.8,286.73 L400.3,289.7 L400.8,293.35 L401.3,292.91 L401.8,293.43 L402.3,293.07 L402.8,292.7 L403.3,292.71 L403.8,290.44 L404.3,295.24 L404.8,297.35 L405.3,296.09 L405.8,299.23 L406.3,299.87 L406.8,299.02 L407.3,297.87 L407.8,300.99 L408.3,301.9 L408.8,297.91 L409.3,298.18 L409.8,300.48 L410.3,301.51 L410.8,304.04 L411.3,303.31 L411.8,301.07 L412.3,300.59 L412.8,298.21 L413.3,297.85 L413.8,299.49 L414.3,298.02 L414.8,300.22 L415.3,303.84 L415.8,302.53 L416.3,301.94 L416.8,300.61 L417.3,300.29 L417.8,299.05 L418.3,297.63 L418.8,298.22 L419.3,300.91 L419.8,301.24 L420.3,299.79 L420.8,302.14 L421.3,302.88 L421.8,300.67 L422.3,300.98 L422.8,299.98 L423.3,299.05 L423.8,302.05 L424.3,303.57 L424.8,303.68 L425.3,303.2 L425.8,303.36 L426.3,303.05 L426.8,301.61 L427.3,301.78 L427.8,302.92 L428.3,306.6 L428.8,304.73 L429.3,303.48 L429.8,303.73 L430.3,299.82 L430.8,295.16 L431.3,286.64 L431.8,276.18 L432.3,262.99 L432.8,253.68 L433.3,239.32 L433.8,299.71 L434.4,294.38 L434.8,293.91 L435.3,291.04 L435.8,284.69 L436.3,285.08 L436.8,289.25 L437.3,292.48 L437.8,295.46 L438.3,296.53 L438.8,297.36 L439.3,297.2 L439.8,296.76 L440.3,294.79 L440.8,295.88 L441.3,296.85 L441.8,297.87 L442.3,297.26 L442.8,294.1 L443.3,294.8 L443.8,294.07 L444.3,295.52 L444.8,297.12 L445.3,296.62 L445.8,295.07 L446.3,292.58 L446.8,291.26 L447.3,290.52 L447.8,288.67 L448.3,288.38 L448.8,290.14 L449.3,290.49 L449.8,285.74 L450.3,286.62 L450.8,288.99 L451.3,283.77 L451.8,282.47 L452.3,284.83 L452.8,284.9 L453.3,282.21 L453.8,280.07 L454.3,281.61 L454.8,281.49 L455.3,279.39 L455.8,278.31 L456.3,276.29 L456.8,277.58 L457.3,280.66 L457.8,279.27 L458.3,274.78 L458.8,273.99 L459.3,275.53 L459.8,273.01 L460.3,274.21 L460.8,275.76 L461.3,274.84 L461.8,275.61 L462.3,274.46 L462.8,272.27 L463.3,273.25 L463.8,275.56 L464.3,276.15 L464.8,274.66 L465.3,273.1 L465.8,273.19 L466.3,274.19 L466.8,275.58 L467.3,273.34 L467.8,273.63 L468.3,274.68 L468.8,274.18 L469.3,275.73 L469.8,278.55 L470.3,276.85 L470.8,274.6 L471.3,274.63 L471.8,277.55 L472.3,279.71 L472.8,279.85 L473.3,280.22 L473.8,277.02 L474.3,275.66 L474.8,277.66 L475.3,278.69 L475.8,277.9 L476.3,278.71 L476.8,279.4 L477.3,278.99 L477.8,282.78 L478.3,283.81 L478.8,279.36 L479.3,280.03 L479.8,282.92 L480.3,284.11 L480.8,285.5 L481.3,283.94 L481.8,284.51 L482.3,288.48 L482.8,291.34 L483.3,292.34 L483.8,293.19 L484.3,294.14 L484.8,292.61 L485.3,289.55 L485.8,293.82 L486.3,293.94 L486.8,290.83 L487.3,293.45 L487.8,293.4 L488.3,295.04 L488.8,298.01 L489.3,298.59 L489.8,299.16 L490.3,296.55 L490.8,297.63 L491.3,301.37 L491.8,302.02 L492.3,301.37 L492.8,301.44 L493.3,300.86 L493.8,301.65 L494.3,304.91 L494.8,304.78 L495.3,303.03 L495.8,303.67 L496.3,303.28 L496.8,299.24 L497.3,300.13 L497.8,302.23 L498.3,299.18 L498.8,299.81 L499.3,302.6 L499.8,303.12 L500.3,301.44 L500.8,299.34 L501.3,300.2 L501.8,300.99 L502.3,299.24 L502.8,298.3 L503.3,302.05 L503.8,303.36 L504.3,301.48 L504.8,300.64 L505.3,301.21 L505.8,303.14 L506.3,303.57 L506.8,305.18 L507.3,304.74 L507.8,303.32 L508.3,302.8 L508.8,303.46 L509.3,304.73 L509.8,304.77 L510.3,305.7 L510.8,303.68 L511.3,303.07 L511.8,303.63 L512.3,304.92 L512.8,305.95 L513.3,307.23 L513.8,308.34 L514.3,306.59 L514.8,302.11 L515.3,295.69 L515.8,289.89 L516.3,278.18 L516.8,263.99 L517.3,253.68 L517.8,240.67 L518.3,299.71 L518.9,294.38 L519.3,293.82 L519.8,291.69 L520.3,287.31 L520.8,283.09 L521.3,284.7 L521.8,291.22 L522.3,298.23 L522.8,299.23 L523.3,297.73 L523.8,296.16 L524.3,296.3 L524.8,297.72 L525.3,296.11 L525.8,296.21 L526.3,297.07 L526.8,294.05 L527.3,292.29 L527.8,292.65 L528.3,293.76 L528.8,295.31 L529.3,294.49 L529.8,292.71 L530.3,292.49 L530.8,292.46 L531.3,291.93 L531.8,290.67 L532.3,289.42 L532.8,286.61 L533.3,285.85 L533.8,289.08 L534.3,290.05 L534.8,289.55 L535.3,288.89 L535.8,285.76 L536.3,283.79 L536.8,284.74 L537.3,284.37 L537.8,283.99 L538.3,285.46 L538.8,285.22 L539.3,284.23 L539.8,280.04 L540.3,280 L540.8,279.63 L541.3,275.77 L541.8,277.07 L542.3,278.33 L542.8,278.43 L543.3,277.98 L543.8,275.98 L544.3,275.56 L544.8,274.77 L545.3,272.94 L545.8,273.44 L546.3,274.21 L546.8,274.41 L547.3,274.05 L547.8,275.07 L548.3,274.7 L548.8,272.78 L549.3,274.21 L549.8,271.62 L550.3,271.77 L550.8,275.87 L551.3,274.66 L551.8,276.54 L552.3,278.18 L552.8,278.44 L553.3,279.09 L553.8,277.54 L554.3,275.94 L554.8,274.37 L555.3,273.76 L555.8,273.67 L556.3,273.99 L556.8,276.23 L557.3,275.68 L557.8,276.08 L558.3,278.92 L558.8,276.79 L559.3,275.45 L559.8,277.64 L560.3,277.97 L560.8,277.29 L561.3,280.36 L561.8,281.89 L562.3,281.89 L562.8,281.91 L563.3,281.68 L563.8,280.64 L564.3,279.81 L564.8,283.73 L565.3,285.39 L565.8,286.81 L566.3,287.62 L566.8,286.11 L567.3,286.79 L567.8,291.28 L568.3,293.06 L568.8,290.44 L569.3,290.23 L569.8,289.82 L570.3,292.48 L570.8,293.7 L571.3,293.08 L571.8,293.84 L572.3,292.69 L572.8,292.43 L573.3,294.36 L573.8,295.67 L574.3,297.17 L574.8,300.04 L575.3,298.47 L575.8,297.42 L576.3,301.75 L576.8,304.13 L577.3,302.66 L577.8,299.58 L578.3,298.39 L578.8,299.68 L579.3,303.83 L579.8,305.18 L580.3,302.05 L580.8,301.28 L581.3,301.14 L581.8,301.69 L582.3,299.46 L582.8,297.43 L583.3,298.97 L583.8,302.13 L584.3,299.13 L584.8,298.59 L585.3,299.84 L585.8,297.15 L586.3,299.68 L586.8,302.03 L587.3,301.39 L587.8,301.24 L588.3,300.49 L588.8,298.72 L589.3,298.5 L589.8,301.21 L590.3,300.64 L590.8,301.11 L591.3,303.19 L591.8,300.05 L592.3,300.77 L592.8,304.43 L593.3,303.41 L593.8,304.24 L594.3,306.25 L594.8,304.51 L595.3,302.96 L595.8,305.17 L596.3,304.9 L596.8,305.95 L597.3,307.43 L597.8,306.52 L598.3,302.44 L598.8,301.59 L599.3,299.46 L599.8,296.41 L600.3,290.32 L600.8,277.88 L601.3,263.44 L601.7,253.68 L602.2,237.96 L602.7,299.71 L603.3,294.38 L603.8,296.35 L604.3,291.98 L604.8,287.57 L605.3,288.18 L605.8,289.8 L606.3,294.02 L606.8,297.31 L607.3,296.02 L607.8,295.96 L608.3,296.83 L608.8,296.92 L609.3,295.88 L609.8,297.98 L610.3,298.36 L610.8,296.96 L611.3,298.65 L611.8,297.15 L612.3,295.72 L612.8,294.59 L613.3,292.3 L613.8,295.45 L614.3,296.39 L614.8,290.4 L615.3,288.59 L615.8,288.28 L616.3,288.38 L616.8,291.13 L617.3,291.79 L617.8,288.51 L618.3,285.32 L618.8,286.58 L619.3,287.61 L619.8,285.9 L620.3,287.27 L620.8,287.56 L621.3,282.86 L621.8,280.5 L622.3,280.72 L622.8,280.52 L623.3,280.38 L623.8,283 L624.3,283.78 L624.8,281.64 L625.3,278.72 L625.8,276.48 L626.3,275.11 L626.8,277.35 L627.3,279.6 L627.8,277.53 L628.3,275.32 L628.8,277.02 L629.3,278.99 L629.8,277.28 L630.3,272.92 L630.8,274.55 L631.3,275.37 L631.8,273.77 L632.3,272.35 L632.8,272.42 L633.3,271.21 L633.8,271.47 L634.3,274.36 L634.8,274.69 L635.3,276.77 L635.8,277.19 L636.3,274.21 L636.8,273.36 L637.3,276.22 L637.8,276.51 L638.3,278.31 L638.8,279.22 L639.3,275.93 L639.8,274.66 L640.3,276.4 L640.8,276.16 L641.3,272.79 L641.8,274.65 L642.3,276.55 L642.8,278.6 L643.3,281.45 L643.8,280.45 L644.3,278.15 L644.8,278.98 L645.3,280.05 L645.8,280.91 L646.3,279.2 L646.8,276.67 L647.3,278.4 L647.8,283.56 L648.3,282.18 L648.8,279.87 L649.3,281.6 L649.8,283.09 L650.3,281.63 L650.8,282.66 L651.3,286.17 L651.8,289.9 L652.3,292.43 L652.8,291.71 L653.3,291.75 L653.8,290.97 L654.3,292.5 L654.8,290.91 L655.3,291.67 L655.8,295.07 L656.3,293.5 L656.8,295.01 L657.3,294.98 L657.8,292.82 L658.3,294.65 L658.8,293.48 L659.3,293.67 L659.8,296.76 L660.3,299.16 L660.8,303 L661.3,303.95 L661.8,302.84 L662.3,302.91 L662.8,301.62 L663.3,304.55 L663.8,305.95 L664.3,306.04 L664.8,303.24 L665.3,301.38 L665.8,303.74 L666.3,304.15 L666.8,301.81 L667.3,300.48 L667.8,301.1 L668.3,303.12 L668.8,301.75 L669.3,298.48 L669.8,299.41 L670.3,298.4 L670.8,299.56 L671.3,301.62 L671.8,300.56 L672.3,299.92 L672.8,301.34 L673.3,301.97 L673.8,302.44 L674.3,301.68 L674.8,299.92 L675.3,300.98 L675.8,299.87 L676.3,302.02 L676.8,304.9 L677.3,300.78 L677.8,301.14" fill="none" stroke="#D95319" stroke-width="2" stroke-linejoin="round"/><path d="M394.3,305.21 L394.8,305.26 L395.3,307.6 L395.8,306.9 L396.3,306.21 L396.8,307.34 L397.3,307.39 L397.8,307.45 L398.3,307.16 L398.8,306.27 L399.3,305.64 L399.8,306.09 L400.3,308.1 L400.8,308.61 L401.3,307.43 L401.8,304.24 L402.3,302.8 L402.8,304.66 L403.3,304.26 L403.8,304.52 L404.3,304.21 L404.8,303.18 L405.3,303.19 L405.8,301.93 L406.3,302.75 L406.8,302.8 L407.3,303.36 L407.8,303.51 L408.3,301.09 L408.8,299.16 L409.3,298.91 L409.8,300.54 L410.3,302.02 L410.8,300.78 L411.3,301.18 L411.8,302.79 L412.3,300.45 L412.8,300.54 L413.3,299.03 L413.8,296.42 L414.3,298.32 L414.8,299.82 L415.3,300.53 L415.8,301.36 L416.3,300.37 L416.8,299.04 L417.3,299.85 L417.8,300.76 L418.3,301.9 L418.8,301.63 L419.3,302.05 L419.8,301.68 L420.3,297.81 L420.8,295.65 L421.3,296.48 L421.8,296.79 L422.3,293.28 L422.8,290.04 L423.3,291.18 L423.8,292.41 L424.3,289.73 L424.8,287.23 L425.3,287.56 L425.8,287.47 L426.3,286.33 L426.8,283.97 L427.3,282.81 L427.8,284.79 L428.3,285.4 L428.8,286.59 L429.3,291.43 L429.8,300.97 L430.3,308.38 L430.8,313.84 L431.3,319.56 L431.8,323.26 L432.3,326.75 L432.8,326.72 L433.2,373.63 L433.6,373.63 L433.9,258.25 L434.4,260.05 L434.8,259.96 L435.3,263.25 L435.8,264.16 L436.3,267.25 L436.8,271.05 L437.3,273.19 L437.8,274.38 L438.3,277.74 L438.8,281.52 L439.3,286.45 L439.8,289.33 L440.3,289.69 L440.8,291.45 L441.3,293.32 L441.8,294.2 L442.3,294.76 L442.8,292.76 L443.3,291.42 L443.8,293.96 L444.3,296.16 L444.8,296.23 L445.3,295.15 L445.8,296.13 L446.3,296.91 L446.8,297.8 L447.3,297.81 L447.8,295.95 L448.3,293.56 L448.8,294.98 L449.3,296.54 L449.8,294.43 L450.3,293.9 L450.8,295.12 L451.3,294.07 L451.8,293.21 L452.3,292.51 L452.8,291.82 L453.3,293.47 L453.8,294.37 L454.3,293.88 L454.8,295.24 L455.3,296.33 L455.8,294.19 L456.3,295.05 L456.8,295.26 L457.3,293.65 L457.8,295.16 L458.3,295.33 L458.8,295.15 L459.3,294.91 L459.8,296.2 L460.3,297.98 L460.8,298.06 L461.3,296.11 L461.8,295.24 L462.3,298.04 L462.8,299.46 L463.3,299.36 L463.8,299.12 L464.3,298.32 L464.8,296.14 L465.3,298.33 L465.8,299.74 L466.3,297.58 L466.8,299.45 L467.3,300.17 L467.8,300.08 L468.3,300.01 L468.8,298.62 L469.3,300.32 L469.8,300.13 L470.3,299.09 L470.8,299.02 L471.3,298.36 L471.8,298.78 L472.3,298.8 L472.8,299.16 L473.3,299.96 L473.8,302.25 L474.3,302.03 L474.8,300.89 L475.3,300.03 L475.8,302.99 L476.3,305.64 L476.8,302.84 L477.3,304.18 L477.8,305.75 L478.3,302.61 L478.8,302.1 L479.3,304.44 L479.8,304.64 L480.3,302.73 L480.8,303.56 L481.3,304.54 L481.8,305.26 L482.3,306.68 L482.8,307.57 L483.3,306.06 L483.8,305.46 L484.3,304.34 L484.8,304.74 L485.3,308.61 L485.8,308.35 L486.3,305.56 L486.8,304.5 L487.3,304.38 L487.8,305.29 L488.3,303.59 L488.8,303.19 L489.3,303.73 L489.8,303.11 L490.3,304.8 L490.8,302.84 L491.3,303.92 L491.8,305.11 L492.3,302.74 L492.8,301.99 L493.3,301.41 L493.8,300.9 L494.3,301.85 L494.8,299.32 L495.3,298.83 L495.8,300.91 L496.3,301.52 L496.8,301.8 L497.3,299.74 L497.8,298.1 L498.3,298.46 L498.8,299.5 L499.3,298.65 L499.8,299.61 L500.3,300.86 L500.8,299.95 L501.3,301.17 L501.8,301.48 L502.3,301.85 L502.8,303.03 L503.3,300.36 L503.8,298.31 L504.3,298.18 L504.8,297.99 L505.3,297.25 L505.8,295.52 L506.3,293.91 L506.8,291.65 L507.3,290.5 L507.8,291.38 L508.3,290.19 L508.8,292.04 L509.3,291.2 L509.8,289.26 L510.3,286.54 L510.8,286.54 L511.3,285.43 L511.8,282.99 L512.3,284.14 L512.8,283.83 L513.3,284.63 L513.8,290.87 L514.3,301 L514.8,306.93 L515.3,311.31 L515.8,317.9 L516.3,321.37 L516.8,324.59 L517.3,326.72 L517.7,373.63 L518.1,373.63 L518.4,251.94 L518.9,260.05 L519.3,260.65 L519.8,262.75 L520.3,263.04 L520.8,265.47 L521.3,265.95 L521.8,269.32 L522.3,276.56 L522.8,278.78 L523.3,280.32 L523.8,284.18 L524.3,287.75 L524.8,289.49 L525.3,289.91 L525.8,290.14 L526.3,291.53 L526.8,292.03 L527.3,291.07 L527.8,291.03 L528.3,295.51 L528.8,296.42 L529.3,296.17 L529.8,296.07 L530.3,295.47 L530.8,294.36 L531.3,293.82 L531.8,294.71 L532.3,295.11 L532.8,293 L533.3,293.47 L533.8,294.8 L534.3,292.47 L534.8,292.3 L535.3,295.79 L535.8,295.64 L536.3,293.85 L536.8,294.24 L537.3,292.71 L537.8,292.07 L538.3,293.38 L538.8,292.98 L539.3,292.39 L539.8,293.36 L540.3,293.71 L540.8,293.79 L541.3,294.67 L541.8,295.68 L542.3,295.68 L542.8,296.6 L543.3,298.34 L543.8,296.51 L544.3,295.88 L544.8,297.54 L545.3,297.67 L545.8,297.8 L546.3,297.8 L546.8,297.9 L547.3,298.86 L547.8,298.1 L548.3,298.11 L548.8,298.13 L549.3,299.49 L549.8,301.33 L550.3,298.93 L550.8,298.13 L551.3,299.93 L551.8,299.53 L552.3,300.04 L552.8,300.46 L553.3,301.77 L553.8,302.33 L554.3,300.96 L554.8,300.08 L555.3,298.67 L555.8,300.21 L556.3,299.62 L556.8,299.53 L557.3,303.37 L557.8,303.67 L558.3,302.28 L558.8,300.37 L559.3,302.99 L559.8,304.07 L560.3,304.9 L560.8,303.12 L561.3,302.39 L561.8,302.23 L562.3,302.62 L562.8,307.04 L563.3,306.23 L563.8,304.46 L564.3,305.75 L564.8,303.98 L565.3,304.18 L565.8,304.76 L566.3,304.67 L566.8,306.75 L567.3,306.37 L567.8,306.31 L568.3,305.65 L568.8,304.08 L569.3,305.16 L569.8,305.31 L570.3,304.54 L570.8,305.11 L571.3,304.44 L571.8,304.06 L572.3,304.04 L572.8,304.51 L573.3,304.79 L573.8,303.17 L574.3,303.82 L574.8,304.42 L575.3,303.92 L575.8,302.53 L576.3,302.47 L576.8,302.51 L577.3,299.99 L577.8,299.82 L578.3,302.72 L578.8,302.69 L579.3,299.77 L579.8,299.92 L580.3,299.6 L580.8,298.42 L581.3,298.8 L581.8,299.37 L582.3,299.99 L582.8,299.71 L583.3,298.9 L583.8,297.97 L584.3,297.58 L584.8,298.69 L585.3,299.64 L585.8,299.67 L586.3,302.07 L586.8,303.74 L587.3,303.06 L587.8,302.26 L588.3,301.19 L588.8,300.48 L589.3,300.17 L589.8,298.25 L590.3,296.07 L590.8,296.97 L591.3,295.56 L591.8,293.47 L592.3,290.59 L592.8,288.92 L593.3,290.11 L593.8,288.74 L594.3,287.81 L594.8,287.3 L595.3,284.94 L595.8,284.04 L596.3,284.22 L596.8,282.94 L597.3,284.74 L597.8,287.38 L598.3,292.01 L598.8,300.21 L599.3,308.41 L599.8,313.59 L600.3,316.91 L600.8,321.82 L601.3,322.92 L601.7,326.72 L602.1,373.63 L602.5,373.63 L602.8,246.53 L603.3,260.05 L603.8,258.54 L604.3,260.38 L604.8,262.33 L605.3,263.76 L605.8,268.81 L606.3,274.32 L606.8,277.84 L607.3,280.76 L607.8,281.13 L608.3,283.25 L608.8,288.29 L609.3,291.33 L609.8,290.57 L610.3,291.26 L610.8,292.62 L611.3,291.94 L611.8,293.88 L612.3,293.74 L612.8,292.11 L613.3,292.99 L613.8,294.97 L614.3,296.86 L614.8,296.78 L615.3,295.76 L615.8,294.98 L616.3,294.93 L616.8,293 L617.3,292.17 L617.8,293.97 L618.3,295.81 L618.8,293.23 L619.3,292.75 L619.8,292.95 L620.3,291.34 L620.8,292.72 L621.3,294.5 L621.8,293.8 L622.3,294.35 L622.8,295.4 L623.3,294.98 L623.8,293.26 L624.3,293.48 L624.8,294.77 L625.3,295.02 L625.8,296.42 L626.3,294.76 L626.8,296.13 L627.3,298.33 L627.8,296.23 L628.3,297.41 L628.8,297.76 L629.3,295.41 L629.8,297.1 L630.3,298.33 L630.8,298.73 L631.3,298.57 L631.8,297.49 L632.3,297.9 L632.8,296.73 L633.3,296.6 L633.8,296.75 L634.3,296.71 L634.8,299.4 L635.3,299.9 L635.8,298.33 L636.3,300.17 L636.8,299.45 L637.3,298.06 L637.8,299.15 L638.3,300.24 L638.8,300.66 L639.3,299.57 L639.8,300.09 L640.3,300.45 L640.8,302.41 L641.3,301.3 L641.8,300.51 L642.3,303.7 L642.8,304.07 L643.3,303.65 L643.8,302.55 L644.3,303.04 L644.8,303.68 L645.3,304.05 L645.8,302.4 L646.3,301.38 L646.8,301.69 L647.3,303.51 L647.8,305.05 L648.3,305.22 L648.8,305.5 L649.3,304.03 L649.8,306.39 L650.3,308.28 L650.8,308.13 L651.3,308.6 L651.8,308.35 L652.3,307.9 L652.8,308.67 L653.3,307.61 L653.8,305.5 L654.3,306.72 L654.8,307.55 L655.3,305.9 L655.8,305.24 L656.3,305.62 L656.8,304.28 L657.3,302.47 L657.8,302.35 L658.3,303.17 L658.8,301.62 L659.3,300.6 L659.8,301.58 L660.3,303.21 L660.8,301.37 L661.3,301.8 L661.8,302.34 L662.3,301.24 L662.8,302.09 L663.3,302.11 L663.8,302.73 L664.3,302.79 L664.8,302.97 L665.3,299.85 L665.8,297.25 L666.3,296.93 L666.8,297.65 L667.3,297.61 L667.8,296.41 L668.3,296.26 L668.8,296.59 L669.3,298.83 L669.8,299.92 L670.3,300.27 L670.8,302.58 L671.3,303.69 L671.8,302.21 L672.3,299.75 L672.8,301.01 L673.3,299.55 L673.8,296.43 L674.3,296.94 L674.8,297.86 L675.3,296.11 L675.8,292.99 L676.3,291.74 L676.8,292.67 L677.3,290.94 L677.8,291" fill="none" stroke="#EDB120" stroke-width="2" stroke-linejoin="round"/></g><rect x="395.3" y="229.4" width="281.6" height="126.2" fill="none" stroke="#262626" stroke-opacity="0.6" stroke-width="1.3"/><line x1="489.17" y1="229.4" x2="489.17" y2="232.4" stroke="#262626" stroke-width="1"/><line x1="489.17" y1="355.6" x2="489.17" y2="352.6" stroke="#262626" stroke-width="1"/><line x1="583.03" y1="229.4" x2="583.03" y2="232.4" stroke="#262626" stroke-width="1"/><line x1="583.03" y1="355.6" x2="583.03" y2="352.6" stroke="#262626" stroke-width="1"/><line x1="395.3" y1="247.43" x2="398.3" y2="247.43" stroke="#262626" stroke-width="1"/><line x1="676.9" y1="247.43" x2="673.9" y2="247.43" stroke="#262626" stroke-width="1"/><text x="391.8" y="251.33" text-anchor="end" style="font-family:'Liberation Sans',sans-serif;font-size:11px" fill="#262626" stroke="#262626" stroke-width="0.15">5</text><line x1="395.3" y1="292.5" x2="398.3" y2="292.5" stroke="#262626" stroke-width="1"/><line x1="676.9" y1="292.5" x2="673.9" y2="292.5" stroke="#262626" stroke-width="1"/><text x="391.8" y="296.4" text-anchor="end" style="font-family:'Liberation Sans',sans-serif;font-size:11px" fill="#262626" stroke="#262626" stroke-width="0.15">0</text><line x1="395.3" y1="337.57" x2="398.3" y2="337.57" stroke="#262626" stroke-width="1"/><line x1="676.9" y1="337.57" x2="673.9" y2="337.57" stroke="#262626" stroke-width="1"/><text x="391.8" y="341.47" text-anchor="end" style="font-family:'Liberation Sans',sans-serif;font-size:11px" fill="#262626" stroke="#262626" stroke-width="0.15">-5</text><line x1="489.17" y1="365.3" x2="489.17" y2="491.2" stroke="#e3e3e3" stroke-width="1"/><line x1="583.03" y1="365.3" x2="583.03" y2="491.2" stroke="#e3e3e3" stroke-width="1"/><line x1="395.3" y1="383.29" x2="676.9" y2="383.29" stroke="#e3e3e3" stroke-width="1"/><line x1="395.3" y1="428.25" x2="676.9" y2="428.25" stroke="#e3e3e3" stroke-width="1"/><line x1="395.3" y1="473.21" x2="676.9" y2="473.21" stroke="#e3e3e3" stroke-width="1"/><g clip-path="url(#cr2)"><path d="M394.3,431.05 L394.8,431.03 L395.3,431.25 L395.8,432.46 L396.3,432.7 L396.8,431.96 L397.3,430.58 L397.8,429.26 L398.3,429.47 L398.8,431.21 L399.3,431.96 L399.8,431.34 L400.3,429.49 L400.8,428.98 L401.3,430.07 L401.8,430.89 L402.3,430.04 L402.8,429.09 L403.3,429.78 L403.8,429.87 L404.3,428.38 L404.8,428.54 L405.3,428.48 L405.8,427.59 L406.3,428.59 L406.8,428.86 L407.3,428.99 L407.8,430.38 L408.3,430.58 L408.8,431.1 L409.3,431.21 L409.8,431.36 L410.3,432.25 L410.8,432.44 L411.3,436.11 L411.8,436.64 L412.3,435.68 L412.8,435.47 L413.3,434.23 L413.8,433.71 L414.3,431.29 L414.8,432.27 L415.3,432.87 L415.8,431.4 L416.3,433.11 L416.8,432.51 L417.3,430.93 L417.8,431.88 L418.3,432.5 L418.8,429.44 L419.3,429.38 L419.8,433.29 L420.3,433.59 L420.8,432.55 L421.3,432.1 L421.8,431.87 L422.3,432.41 L422.8,431.9 L423.3,431.44 L423.8,433 L424.3,433.28 L424.8,432.5 L425.3,431.17 L425.8,430.5 L426.3,431.52 L426.8,431.96 L427.3,431.58 L427.8,429.99 L428.3,430.75 L428.8,432.12 L429.3,431.11 L429.8,432.36 L430.3,432.89 L430.8,432.06 L431.3,432.69 L431.8,432.46 L432.3,431.36 L432.8,431.06 L433.3,432.24 L433.8,433.17 L434.3,431.23 L434.8,432.39 L435.3,434.19 L435.8,431.8 L436.3,429.35 L436.8,426.22 L437.3,424.88 L437.8,424.85 L438.3,424.02 L438.8,425.09 L439.3,426.97 L439.8,428.33 L440.3,430.54 L440.8,432.16 L441.3,434.06 L441.8,434.23 L442.3,432.64 L442.8,433.24 L443.3,433.89 L443.8,436.29 L444.3,436.53 L444.8,436.63 L445.3,438.05 L445.8,435.64 L446.3,435.4 L446.8,434.69 L447.3,431.92 L447.8,431.29 L448.3,431.34 L448.8,430.37 L449.3,429.57 L449.8,428.67 L450.3,426.98 L450.8,428.79 L451.3,430.16 L451.8,429.33 L452.3,429.97 L452.8,430.76 L453.3,429.88 L453.8,429.32 L454.3,430.96 L454.8,431.45 L455.3,429.88 L455.8,430.64 L456.3,432.02 L456.8,429.89 L457.3,428.48 L457.8,430.99 L458.3,433 L458.8,431.86 L459.3,431.89 L459.8,432.58 L460.3,432.13 L460.8,431.62 L461.3,433.47 L461.8,434.1 L462.3,434.23 L462.8,432.41 L463.3,431.62 L463.8,433.93 L464.3,433.45 L464.8,431.49 L465.3,432.1 L465.8,432.95 L466.3,432.39 L466.8,431.12 L467.3,431.36 L467.8,431.91 L468.3,432.08 L468.8,432.83 L469.3,433.54 L469.8,433.02 L470.3,432.51 L470.8,432.92 L471.3,431.91 L471.8,431.31 L472.3,431.36 L472.8,433.06 L473.3,433.31 L473.8,432.49 L474.3,433.6 L474.8,433.8 L475.3,432.11 L475.8,430.7 L476.3,432.24 L476.8,433.81 L477.3,433.17 L477.8,432.56 L478.3,431.15 L478.8,431.91 L479.3,434.12 L479.8,433.66 L480.3,432.08 L480.8,431.67 L481.3,430.93 L481.8,429.37 L482.3,429.86 L482.8,431.79 L483.3,432.75 L483.8,431.92 L484.3,429.64 L484.8,429.96 L485.3,429.6 L485.8,429.27 L486.3,428.92 L486.8,428.59 L487.3,430.62 L487.8,431.34 L488.3,431.67 L488.8,431.93 L489.3,430.97 L489.8,428.79 L490.3,427.57 L490.8,428.08 L491.3,429.86 L491.8,430.71 L492.3,429.7 L492.8,428.69 L493.3,430.58 L493.8,431.15 L494.3,431.14 L494.8,434.16 L495.3,434.8 L495.8,433.68 L496.3,434.75 L496.8,435.01 L497.3,432.86 L497.8,431.32 L498.3,430.74 L498.8,431.72 L499.3,433.3 L499.8,431.33 L500.3,431.74 L500.8,433.07 L501.3,433.56 L501.8,431.45 L502.3,429.38 L502.8,430.24 L503.3,430.93 L503.8,431.65 L504.3,432.16 L504.8,431.31 L505.3,431.57 L505.8,431.06 L506.3,430.88 L506.8,432.61 L507.3,431.14 L507.8,430.54 L508.3,431.15 L508.8,431.39 L509.3,433.63 L509.8,432.96 L510.3,432.27 L510.8,431.88 L511.3,432.11 L511.8,433.9 L512.3,433.15 L512.8,431.35 L513.3,431.6 L513.8,433.03 L514.3,432.48 L514.8,432.77 L515.3,433.97 L515.8,433.5 L516.3,433.54 L516.8,432.35 L517.3,432.72 L517.8,433.13 L518.3,432.2 L518.8,434.19 L519.3,435.55 L519.8,434.69 L520.3,432.67 L520.8,429.15 L521.3,426.89 L521.8,426.57 L522.3,424.44 L522.8,425.26 L523.3,427.55 L523.8,428.64 L524.3,429.57 L524.8,430.84 L525.3,432.01 L525.8,432.95 L526.3,433.97 L526.8,434.11 L527.3,436.33 L527.8,438.34 L528.3,437.18 L528.8,437.97 L529.3,438 L529.8,437.79 L530.3,437.66 L530.8,436.09 L531.3,434.9 L531.8,432.4 L532.3,430.87 L532.8,430.68 L533.3,428.34 L533.8,427.59 L534.3,429.79 L534.8,428.78 L535.3,427.19 L535.8,426.94 L536.3,426.58 L536.8,428.1 L537.3,428.84 L537.8,427.31 L538.3,428.38 L538.8,429.33 L539.3,431.85 L539.8,432.06 L540.3,429.17 L540.8,430.35 L541.3,432.41 L541.8,430.86 L542.3,430.1 L542.8,429.16 L543.3,431.24 L543.8,432.71 L544.3,430.72 L544.8,432 L545.3,432.89 L545.8,430.41 L546.3,429.95 L546.8,430.65 L547.3,433.98 L547.8,434.47 L548.3,432.22 L548.8,432.4 L549.3,432.78 L549.8,430.37 L550.3,430.37 L550.8,433.45 L551.3,433.07 L551.8,432.54 L552.3,432.99 L552.8,432.8 L553.3,431.91 L553.8,431.65 L554.3,433.27 L554.8,433.57 L555.3,432.2 L555.8,432.47 L556.3,431.92 L556.8,430.9 L557.3,432.65 L557.8,433.02 L558.3,430.57 L558.8,430.34 L559.3,431.19 L559.8,431.7 L560.3,432.17 L560.8,434.06 L561.3,433 L561.8,431.56 L562.3,431.54 L562.8,431.7 L563.3,431.8 L563.8,432.13 L564.3,431.94 L564.8,430.77 L565.3,431.09 L565.8,430.95 L566.3,432.16 L566.8,433.27 L567.3,430.42 L567.8,428.66 L568.3,428.95 L568.8,430.37 L569.3,431.52 L569.8,431.05 L570.3,429.29 L570.8,430.72 L571.3,430.82 L571.8,429.13 L572.3,429.15 L572.8,430.42 L573.3,430.27 L573.8,430.53 L574.3,429.7 L574.8,428.33 L575.3,430.47 L575.8,429.46 L576.3,427.55 L576.8,429.25 L577.3,428.82 L577.8,429.84 L578.3,432.29 L578.8,431.44 L579.3,434.43 L579.8,435.24 L580.3,433.76 L580.8,434.53 L581.3,435.05 L581.8,434.29 L582.3,433.75 L582.8,434.23 L583.3,433.17 L583.8,433.01 L584.3,431.2 L584.8,431.29 L585.3,433.2 L585.8,432.37 L586.3,431.74 L586.8,430.83 L587.3,430.17 L587.8,431.06 L588.3,432.05 L588.8,431.77 L589.3,430.78 L589.8,430.24 L590.3,431.34 L590.8,433.59 L591.3,431.42 L591.8,429.38 L592.3,430.49 L592.8,431 L593.3,431.67 L593.8,432.8 L594.3,432.68 L594.8,432.1 L595.3,432.4 L595.8,433.48 L596.3,433.29 L596.8,431.7 L597.3,431.93 L597.8,432.47 L598.3,433.85 L598.8,434.13 L599.3,432.62 L599.8,433.55 L600.3,434.64 L600.8,433.75 L601.3,433.16 L601.8,433.27 L602.3,433.11 L602.8,433.15 L603.3,433.18 L603.8,434.98 L604.3,434.03 L604.8,430.55 L605.3,426.61 L605.8,425.39 L606.3,426.3 L606.8,425.31 L607.3,424.3 L607.8,425.37 L608.3,426.97 L608.8,428.94 L609.3,430.81 L609.8,431.76 L610.3,432.86 L610.8,434.26 L611.3,435.18 L611.8,433.9 L612.3,434.56 L612.8,437.17 L613.3,437.78 L613.8,437.75 L614.3,436.94 L614.8,436.76 L615.3,436.6 L615.8,434.22 L616.3,432.47 L616.8,431.6 L617.3,429.67 L617.8,428.48 L618.3,427.04 L618.8,427.17 L619.3,428.81 L619.8,430.03 L620.3,430.26 L620.8,429.36 L621.3,430.54 L621.8,430.67 L622.3,429.17 L622.8,428.91 L623.3,429.39 L623.8,430.06 L624.3,430.6 L624.8,431.25 L625.3,432.28 L625.8,431.94 L626.3,429.36 L626.8,429.49 L627.3,430.63 L627.8,431.73 L628.3,431.02 L628.8,431.01 L629.3,431.68 L629.8,431.11 L630.3,432.7 L630.8,432.07 L631.3,431.38 L631.8,432.17 L632.3,431.88 L632.8,432.1 L633.3,432.8 L633.8,432.4 L634.3,432.43 L634.8,432.76 L635.3,432.97 L635.8,434.25 L636.3,434.25 L636.8,433.44 L637.3,432.87 L637.8,431.49 L638.3,432.89 L638.8,433.76 L639.3,434.19 L639.8,434.58 L640.3,433.75 L640.8,434.58 L641.3,434.58 L641.8,433.87 L642.3,432.28 L642.8,432.48 L643.3,433.19 L643.8,431.3 L644.3,430.74 L644.8,433.17 L645.3,431.62 L645.8,430.36 L646.3,431.99 L646.8,431.46 L647.3,430.97 L647.8,431.35 L648.3,431.22 L648.8,432.53 L649.3,431.84 L649.8,430.73 L650.3,432.18 L650.8,432.73 L651.3,430.91 L651.8,430.38 L652.3,430.94 L652.8,429.96 L653.3,429.8 L653.8,431.5 L654.3,431 L654.8,428.89 L655.3,428.62 L655.8,427.99 L656.3,428.33 L656.8,428.95 L657.3,427.88 L657.8,428.7 L658.3,428.53 L658.8,427.57 L659.3,427.58 L659.8,427.51 L660.3,427.5 L660.8,429.62 L661.3,429.61 L661.8,429.21 L662.3,430.62 L662.8,431.7 L663.3,431.85 L663.8,432.31 L664.3,434.52 L664.8,434.71 L665.3,433.35 L665.8,433.95 L666.3,434.38 L666.8,433.51 L667.3,433.09 L667.8,432.03 L668.3,430.42 L668.8,429.38 L669.3,429.38 L669.8,429.67 L670.3,429.71 L670.8,429.45 L671.3,430.7 L671.8,431.23 L672.3,430.65 L672.8,431.33 L673.3,431.97 L673.8,432.28 L674.3,432.12 L674.8,432.72 L675.3,432.07 L675.8,431.08 L676.3,431.42 L676.8,431.12 L677.3,430.63 L677.8,431.42" fill="none" stroke="#0072BD" stroke-width="2" stroke-linejoin="round"/><path d="M394.3,417.48 L394.8,417.47 L395.3,419.11 L395.8,414.59 L396.3,416.08 L396.8,416.05 L397.3,414.38 L397.8,414.72 L398.3,415.18 L398.8,415.71 L399.3,420.04 L399.8,420.71 L400.3,420.75 L400.8,423.83 L401.3,425.37 L401.8,420.59 L402.3,419.89 L402.8,423.69 L403.3,424.23 L403.8,424.32 L404.3,424 L404.8,425.1 L405.3,426.83 L405.8,428.44 L406.3,428.15 L406.8,425.86 L407.3,421.9 L407.8,421.93 L408.3,422.11 L408.8,422.49 L409.3,425.42 L409.8,428.21 L410.3,428.22 L410.8,429.64 L411.3,430.74 L411.8,427.29 L412.3,429.08 L412.8,432.05 L413.3,434.48 L413.8,439.43 L414.3,440.56 L414.8,439.61 L415.3,437.07 L415.8,434.32 L416.3,435.63 L416.8,438.5 L417.3,437.25 L417.8,437.08 L418.3,438.64 L418.8,438 L419.3,435.72 L419.8,435.31 L420.3,437.52 L420.8,438.22 L421.3,438.96 L421.8,437.52 L422.3,436.57 L422.8,438.35 L423.3,437.72 L423.8,438.33 L424.3,439.35 L424.8,440.75 L425.3,437.38 L425.8,434.63 L426.3,436.55 L426.8,433.92 L427.3,434.25 L427.8,436.15 L428.3,435.81 L428.8,434.82 L429.3,434.1 L429.8,435.3 L430.3,436.49 L430.8,436.83 L431.3,435.31 L431.8,438.81 L432.3,440.86 L432.8,438.92 L433.3,439.27 L433.8,441.27 L434.3,439.72 L434.8,437.89 L435.3,438.64 L435.8,437.37 L436.3,434.23 L436.5,428.3 L437,373.66 L437.5,435.44 L438.1,420.76 L438.3,422.32 L438.8,420.22 L439.3,415.48 L439.8,410.28 L440.3,403.87 L440.8,403.4 L441.3,410.16 L441.8,415.18 L442.3,417.92 L442.8,420.22 L443.3,423.25 L443.8,426.79 L444.3,425.41 L444.8,424.61 L445.3,427.44 L445.8,428.03 L446.3,428.02 L446.8,425.99 L447.3,425.12 L447.8,425.43 L448.3,429.98 L448.8,430.6 L449.3,425.33 L449.8,423.8 L450.3,424.19 L450.8,428.81 L451.3,427.98 L451.8,426.45 L452.3,429.46 L452.8,429.43 L453.3,425.69 L453.8,423.26 L454.3,423.61 L454.8,426.41 L455.3,423.93 L455.8,423.68 L456.3,426.42 L456.8,426.01 L457.3,423.35 L457.8,420.05 L458.3,419.82 L458.8,419.63 L459.3,420.37 L459.8,419.77 L460.3,421.64 L460.8,420.11 L461.3,416.05 L461.8,417.51 L462.3,418.47 L462.8,417.44 L463.3,415.38 L463.8,415.28 L464.3,417.41 L464.8,418.81 L465.3,421.01 L465.8,421.28 L466.3,419.33 L466.8,418.93 L467.3,418.91 L467.8,417.54 L468.3,416.97 L468.8,417.47 L469.3,417.03 L469.8,416.99 L470.3,417.74 L470.8,417.2 L471.3,419.26 L471.8,417.93 L472.3,417 L472.8,417.22 L473.3,415.13 L473.8,414.49 L474.3,414.29 L474.8,417.04 L475.3,415.66 L475.8,414.19 L476.3,415.63 L476.8,415.92 L477.3,414.85 L477.8,413.99 L478.3,415.22 L478.8,418.69 L479.3,419.73 L479.8,417.54 L480.3,414.58 L480.8,414.35 L481.3,417.25 L481.8,416.36 L482.3,416.79 L482.8,419.05 L483.3,419.21 L483.8,421.89 L484.3,421.24 L484.8,418.87 L485.3,421.09 L485.8,423.8 L486.3,423.47 L486.8,420.13 L487.3,421.75 L487.8,425.72 L488.3,424.48 L488.8,425.57 L489.3,428 L489.8,428.28 L490.3,426.35 L490.8,426.35 L491.3,426.38 L491.8,425.69 L492.3,425.4 L492.8,426.93 L493.3,427.4 L493.8,425.67 L494.3,423.69 L494.8,423.46 L495.3,424.09 L495.8,431.56 L496.3,434.07 L496.8,434.78 L497.3,434.8 L497.8,438.06 L498.3,437.47 L498.8,435.49 L499.3,438.7 L499.8,438.69 L500.3,437.87 L500.8,438.69 L501.3,437 L501.8,436.25 L502.3,438.93 L502.8,439.18 L503.3,437.33 L503.8,437.95 L504.3,436.01 L504.8,436.02 L505.3,435.33 L505.8,432.93 L506.3,436.34 L506.8,437.5 L507.3,434.7 L507.8,435.33 L508.3,438.79 L508.8,438.54 L509.3,434.31 L509.8,436.57 L510.3,438.49 L510.8,436.35 L511.3,437.1 L511.8,437.46 L512.3,437.54 L512.8,435.45 L513.3,434.11 L513.8,436.79 L514.3,435.6 L514.8,436.23 L515.3,437.75 L515.8,436.16 L516.3,435.82 L516.8,435.91 L517.3,436.31 L517.8,436.87 L518.3,436.88 L518.8,436.14 L519.3,434.36 L519.8,434.98 L520.3,434.29 L520.8,428.3 L521.3,375.64 L521.8,435.44 L522.4,420.76 L522.8,421.92 L523.3,421.71 L523.8,414.08 L524.3,409.29 L524.8,406.09 L525.3,405.8 L525.8,410.52 L526.3,413.81 L526.8,416.66 L527.3,420.14 L527.8,424.17 L528.3,426.26 L528.8,425.32 L529.3,423.99 L529.8,424 L530.3,425.11 L530.8,427.14 L531.3,429.84 L531.8,428.76 L532.3,425.44 L532.8,426.68 L533.3,426.58 L533.8,424.23 L534.3,424.98 L534.8,425.12 L535.3,424.71 L535.8,428.22 L536.3,429.15 L536.8,427.38 L537.3,426.02 L537.8,426.55 L538.3,427.73 L538.8,427.76 L539.3,427.12 L539.8,425.53 L540.3,423.72 L540.8,422.08 L541.3,422.31 L541.8,422.17 L542.3,421.41 L542.8,420.84 L543.3,418.41 L543.8,421.3 L544.3,423.04 L544.8,418.92 L545.3,416.78 L545.8,418.22 L546.3,418.94 L546.8,416.2 L547.3,417.16 L547.8,420.83 L548.3,420.83 L548.8,420.06 L549.3,418.91 L549.8,418.61 L550.3,417.27 L550.8,416.05 L551.3,419.48 L551.8,420.3 L552.3,420.61 L552.8,419.32 L553.3,415.76 L553.8,416.41 L554.3,417 L554.8,417.81 L555.3,418.46 L555.8,414.2 L556.3,415.83 L556.8,416.93 L557.3,413.17 L557.8,417.02 L558.3,419.47 L558.8,419.02 L559.3,415.74 L559.8,415.05 L560.3,416.72 L560.8,415.29 L561.3,415.05 L561.8,415.89 L562.3,416.67 L562.8,415.56 L563.3,416.35 L563.8,415.71 L564.3,415.23 L564.8,418.9 L565.3,417.7 L565.8,416.15 L566.3,420.25 L566.8,421.05 L567.3,420.69 L567.8,422.77 L568.3,420.21 L568.8,420.73 L569.3,421.78 L569.8,421.49 L570.3,419.59 L570.8,419.56 L571.3,424.5 L571.8,426.35 L572.3,426.29 L572.8,424.79 L573.3,423.75 L573.8,422.79 L574.3,422.82 L574.8,424.32 L575.3,424.33 L575.8,424.94 L576.3,425.2 L576.8,424.03 L577.3,423.43 L577.8,425.5 L578.3,429.39 L578.8,429.92 L579.3,427.09 L579.8,430.16 L580.3,432.85 L580.8,431.7 L581.3,434.13 L581.8,437.83 L582.3,435.73 L582.8,434.21 L583.3,436.57 L583.8,436.6 L584.3,434.35 L584.8,437.08 L585.3,434.59 L585.8,433.93 L586.3,437.98 L586.8,438.2 L587.3,437.72 L587.8,438.02 L588.3,438.14 L588.8,434.76 L589.3,434.45 L589.8,436.35 L590.3,434.49 L590.8,435.44 L591.3,436.37 L591.8,435.72 L592.3,436.95 L592.8,436.68 L593.3,436.95 L593.8,437.16 L594.3,438.41 L594.8,439.04 L595.3,437.24 L595.8,436.44 L596.3,438.42 L596.8,439.04 L597.3,438.26 L597.8,437.32 L598.3,436.18 L598.8,436.17 L599.3,437.57 L599.8,438.03 L600.3,439.35 L600.8,441.34 L601.3,441.59 L601.8,440.55 L602.3,441.66 L602.8,440.9 L603.3,438.49 L603.8,437.99 L604.3,437.64 L604.8,431.68 L605,428.3 L605.5,371.6 L606,435.44 L606.6,420.76 L606.8,419.61 L607.3,418.32 L607.8,412.39 L608.3,407.47 L608.8,405.76 L609.3,406.37 L609.8,409.2 L610.3,413.16 L610.8,417.91 L611.3,417.76 L611.8,422.1 L612.3,427.02 L612.8,425.58 L613.3,426.07 L613.8,428.15 L614.3,428.8 L614.8,428.31 L615.3,429.54 L615.8,429.04 L616.3,428.15 L616.8,428.71 L617.3,427.17 L617.8,427.67 L618.3,427.82 L618.8,427.08 L619.3,426.95 L619.8,425.96 L620.3,426.12 L620.8,427.41 L621.3,428.67 L621.8,428.45 L622.3,427.16 L622.8,425.01 L623.3,423.73 L623.8,425.18 L624.3,426.07 L624.8,426.89 L625.3,427.38 L625.8,426.53 L626.3,424.43 L626.8,424.53 L627.3,424.25 L627.8,422.13 L628.3,420.38 L628.8,422.76 L629.3,418.25 L629.8,415.43 L630.3,418.52 L630.8,417.62 L631.3,418.07 L631.8,416.89 L632.3,417.99 L632.8,421.42 L633.3,420.24 L633.8,419.71 L634.3,417.84 L634.8,419.06 L635.3,421.93 L635.8,419.5 L636.3,417.75 L636.8,416.65 L637.3,416.81 L637.8,415.08 L638.3,416.01 L638.8,418.54 L639.3,416.61 L639.8,417.06 L640.3,418.31 L640.8,418.18 L641.3,418.31 L641.8,418.9 L642.3,418.52 L642.8,418.93 L643.3,417.62 L643.8,417.73 L644.3,415.51 L644.8,412.71 L645.3,412.85 L645.8,415.37 L646.3,417.89 L646.8,416.06 L647.3,415.13 L647.8,416.2 L648.3,417.61 L648.8,417.05 L649.3,417.35 L649.8,418.92 L650.3,420.53 L650.8,422.04 L651.3,419.35 L651.8,419.61 L652.3,421.53 L652.8,420.25 L653.3,420.14 L653.8,419.9 L654.3,423.73 L654.8,425.12 L655.3,421.23 L655.8,424.69 L656.3,427.07 L656.8,424.46 L657.3,424.42 L657.8,426.95 L658.3,424.77 L658.8,424.59 L659.3,425.02 L659.8,426.05 L660.3,426.53 L660.8,423.85 L661.3,423.96 L661.8,428.91 L662.3,428.53 L662.8,425.33 L663.3,427.79 L663.8,426.07 L664.3,428.56 L664.8,430.34 L665.3,431.36 L665.8,433.59 L666.3,434.08 L666.8,439.52 L667.3,440.13 L667.8,437.94 L668.3,437.09 L668.8,435.62 L669.3,437.19 L669.8,437.54 L670.3,434.89 L670.8,435.93 L671.3,438.3 L671.8,439.27 L672.3,436.88 L672.8,434.41 L673.3,436.63 L673.8,439.61 L674.3,436.73 L674.8,437.04 L675.3,438.62 L675.8,437.73 L676.3,440.33 L676.8,439.45 L677.3,437.47 L677.8,435.81" fill="none" stroke="#D95319" stroke-width="2" stroke-linejoin="round"/><path d="M394.3,435.99 L394.8,438.23 L395.3,436.1 L395.8,435.71 L396.3,437.63 L396.8,437.72 L397.3,438.05 L397.8,438.67 L398.3,438.06 L398.8,436.43 L399.3,437.99 L399.8,441.14 L400.3,440.9 L400.8,441.17 L401.3,442.05 L401.8,439.23 L402.3,437.26 L402.8,437.37 L403.3,440.93 L403.8,440.63 L404.3,442.07 L404.8,443.18 L405.3,440.08 L405.8,438.82 L406.3,442.24 L406.8,444.31 L407.3,442.98 L407.8,441.46 L408.3,443.19 L408.8,442.87 L409.3,443.03 L409.8,445.48 L410.3,444.36 L410.8,443.1 L411.3,445.13 L411.8,445.86 L412.3,444.52 L412.8,443.83 L413.3,443.22 L413.8,442.37 L414.3,441.57 L414.8,441.36 L415.3,442.88 L415.8,443.88 L416.3,443.5 L416.8,440.97 L417.3,437.34 L417.8,437.56 L418.3,441.41 L418.8,439.16 L419.3,437.02 L419.8,437.68 L420.3,437.73 L420.8,438.39 L421.3,438.48 L421.8,435.46 L422.3,433.08 L422.8,433.86 L423.3,435.49 L423.8,434.35 L424.3,432.28 L424.8,431.51 L425.3,432.69 L425.8,431.97 L426.3,429.25 L426.8,429.58 L427.3,431.32 L427.8,429.38 L428.3,427.02 L428.8,426.05 L429.3,425.9 L429.8,427.19 L430.3,427.31 L430.8,427.23 L431.3,427.23 L431.8,426.02 L432.3,424.51 L432.8,421.75 L433.3,422.03 L433.8,423.28 L434.3,422.66 L434.8,421.08 L435.3,420.04 L435.8,417.4 L436.3,407.16 L436.5,402.74 L436.9,509.19 L437.3,509.19 L437.6,389.13 L438.1,390.21 L438.3,388.51 L438.8,390.24 L439.3,392.17 L439.8,394.31 L440.3,396.74 L440.8,400.09 L441.3,401.04 L441.8,401.88 L442.3,404.77 L442.8,408.01 L443.3,412.4 L443.8,415.98 L444.3,416.92 L444.8,416.65 L445.3,419.51 L445.8,421.75 L446.3,421.06 L446.8,423.41 L447.3,426.16 L447.8,427.35 L448.3,426.66 L448.8,426.33 L449.3,429.41 L449.8,432.78 L450.3,433.59 L450.8,431.48 L451.3,431.8 L451.8,432.94 L452.3,431.15 L452.8,431.08 L453.3,430.8 L453.8,428.19 L454.3,428.89 L454.8,430.43 L455.3,429.32 L455.8,428.54 L456.3,429.06 L456.8,428.73 L457.3,428.23 L457.8,429.45 L458.3,430.4 L458.8,428.93 L459.3,427.03 L459.8,426.17 L460.3,428.48 L460.8,429.01 L461.3,427.58 L461.8,429.1 L462.3,429.7 L462.8,429.06 L463.3,428.06 L463.8,430.18 L464.3,431.71 L464.8,430.98 L465.3,432.1 L465.8,430.97 L466.3,430.13 L466.8,432.71 L467.3,434.17 L467.8,433.16 L468.3,434.73 L468.8,434.39 L469.3,433.27 L469.8,434.28 L470.3,434.02 L470.8,432.32 L471.3,432.64 L471.8,434.96 L472.3,433.13 L472.8,433.29 L473.3,435.71 L473.8,436.66 L474.3,434.94 L474.8,433.16 L475.3,433.9 L475.8,434.21 L476.3,435.12 L476.8,436.44 L477.3,437.46 L477.8,436.47 L478.3,435.77 L478.8,434.69 L479.3,435.81 L479.8,438.24 L480.3,438.67 L480.8,436.83 L481.3,437.24 L481.8,438.13 L482.3,435.58 L482.8,436.92 L483.3,438.05 L483.8,440.52 L484.3,441.82 L484.8,441.66 L485.3,441.21 L485.8,439.55 L486.3,440.66 L486.8,439.76 L487.3,438.67 L487.8,440.36 L488.3,441.43 L488.8,442.63 L489.3,442.52 L489.8,438.96 L490.3,439.81 L490.8,441.92 L491.3,442.03 L491.8,441.86 L492.3,441 L492.8,442.29 L493.3,444.84 L493.8,445.31 L494.3,442.27 L494.8,442.12 L495.3,442.83 L495.8,443.15 L496.3,445.83 L496.8,444.79 L497.3,442.29 L497.8,443.13 L498.3,443.58 L498.8,442.33 L499.3,442.22 L499.8,441.81 L500.3,441.05 L500.8,443.32 L501.3,442.83 L501.8,440.56 L502.3,440.74 L502.8,439.12 L503.3,438.22 L503.8,437.59 L504.3,435.49 L504.8,435.55 L505.3,438.05 L505.8,438.67 L506.3,435.72 L506.8,434.88 L507.3,436.35 L507.8,435.74 L508.3,433.83 L508.8,432.79 L509.3,431.87 L509.8,432.18 L510.3,432.3 L510.8,430.83 L511.3,429.77 L511.8,431.04 L512.3,430.69 L512.8,429.38 L513.3,427.18 L513.8,424.15 L514.3,423.71 L514.8,423.24 L515.3,425.02 L515.8,424.28 L516.3,423.13 L516.8,422.47 L517.3,422.38 L517.8,423.41 L518.3,421.99 L518.8,419.54 L519.3,420.12 L519.8,418.34 L520.3,411.2 L520.8,402.74 L521.2,509.19 L521.6,509.19 L521.9,389.58 L522.4,390.21 L522.8,392.31 L523.3,394.28 L523.8,394.51 L524.3,394.84 L524.8,396.9 L525.3,399.32 L525.8,401.2 L526.3,403.5 L526.8,406.06 L527.3,409.31 L527.8,412.09 L528.3,415.98 L528.8,418.03 L529.3,416.92 L529.8,419.06 L530.3,423.67 L530.8,423.47 L531.3,423.23 L531.8,427.76 L532.3,428.66 L532.8,426.71 L533.3,427.31 L533.8,427.97 L534.3,428.96 L534.8,431.14 L535.3,434.44 L535.8,434.95 L536.3,432.8 L536.8,430 L537.3,430.34 L537.8,430.9 L538.3,428.83 L538.8,430.18 L539.3,431.2 L539.8,430.97 L540.3,428.61 L540.8,428.88 L541.3,431.2 L541.8,431.07 L542.3,430.03 L542.8,429.36 L543.3,428.05 L543.8,428.52 L544.3,427.88 L544.8,428.95 L545.3,429.03 L545.8,427.44 L546.3,428.22 L546.8,428.42 L547.3,429.79 L547.8,430.48 L548.3,429.77 L548.8,432.06 L549.3,432.68 L549.8,432.45 L550.3,433.21 L550.8,432.81 L551.3,431.34 L551.8,432.08 L552.3,433.43 L552.8,435.01 L553.3,435.37 L553.8,432.85 L554.3,432.32 L554.8,433.18 L555.3,434.63 L555.8,436.18 L556.3,435.71 L556.8,436.1 L557.3,437.13 L557.8,434.88 L558.3,434.54 L558.8,433.63 L559.3,434.21 L559.8,435.81 L560.3,435.76 L560.8,436.32 L561.3,436.5 L561.8,436.97 L562.3,436.32 L562.8,437.09 L563.3,436.56 L563.8,434.62 L564.3,435.95 L564.8,436.78 L565.3,436.23 L565.8,437.41 L566.3,435.43 L566.8,438.07 L567.3,441.02 L567.8,441.38 L568.3,441.41 L568.8,439.94 L569.3,436.9 L569.8,437.04 L570.3,437.47 L570.8,437.25 L571.3,439.05 L571.8,440.04 L572.3,437.92 L572.8,438.41 L573.3,440.19 L573.8,440.1 L574.3,442.22 L574.8,443.92 L575.3,442.24 L575.8,441.05 L576.3,442.62 L576.8,443.73 L577.3,443.05 L577.8,443.04 L578.3,442.33 L578.8,442.2 L579.3,442.88 L579.8,444.59 L580.3,445.86 L580.8,444.05 L581.3,444.51 L581.8,444.37 L582.3,443.1 L582.8,443.95 L583.3,442.21 L583.8,441.71 L584.3,442.99 L584.8,442.61 L585.3,441.17 L585.8,437.36 L586.3,438.77 L586.8,441.18 L587.3,438.62 L587.8,437.08 L588.3,436.77 L588.8,439.57 L589.3,437.9 L589.8,436.11 L590.3,437.28 L590.8,437.26 L591.3,437.92 L591.8,436.68 L592.3,434.12 L592.8,432.08 L593.3,432.91 L593.8,432.46 L594.3,431.36 L594.8,430.91 L595.3,429.52 L595.8,428.23 L596.3,428.44 L596.8,428.71 L597.3,427.33 L597.8,426.65 L598.3,427.3 L598.8,425.09 L599.3,424.24 L599.8,424.73 L600.3,423.31 L600.8,421.81 L601.3,423.42 L601.8,422 L602.3,419.88 L602.8,423.48 L603.3,423.18 L603.8,419.31 L604.3,414.6 L604.8,408.39 L605,402.74 L605.4,509.19 L605.8,509.19 L606.1,385.98 L606.6,390.21 L606.8,392.59 L607.3,393.33 L607.8,392.81 L608.3,394.34 L608.8,396.58 L609.3,398.34 L609.8,402.19 L610.3,402.47 L610.8,403.79 L611.3,409.88 L611.8,412.79 L612.3,412.74 L612.8,416.52 L613.3,419.18 L613.8,420.03 L614.3,422.13 L614.8,424.16 L615.3,425.33 L615.8,425.88 L616.3,427.47 L616.8,428.17 L617.3,429.5 L617.8,430.7 L618.3,430.49 L618.8,432.8 L619.3,432.54 L619.8,429.87 L620.3,429.48 L620.8,431.41 L621.3,430.52 L621.8,427.91 L622.3,428.69 L622.8,429.38 L623.3,429.33 L623.8,427.2 L624.3,426.61 L624.8,428.54 L625.3,429.85 L625.8,429.85 L626.3,428.5 L626.8,426.05 L627.3,427.81 L627.8,429.84 L628.3,429.23 L628.8,430.23 L629.3,429.65 L629.8,428.54 L630.3,430.81 L630.8,432.7 L631.3,430.3 L631.8,429.1 L632.3,430.07 L632.8,431.2 L633.3,432.42 L633.8,431.64 L634.3,432.02 L634.8,433.96 L635.3,433.69 L635.8,431.81 L636.3,433.24 L636.8,433.43 L637.3,431.92 L637.8,434.29 L638.3,435.3 L638.8,434.59 L639.3,433.98 L639.8,433.23 L640.3,435.3 L640.8,437.13 L641.3,434.96 L641.8,433.39 L642.3,434.05 L642.8,433.81 L643.3,432.62 L643.8,434.36 L644.3,435.02 L644.8,434.87 L645.3,435.56 L645.8,433.57 L646.3,436.15 L646.8,437.42 L647.3,436.45 L647.8,437.36 L648.3,437.18 L648.8,438.14 L649.3,439.38 L649.8,437.74 L650.3,436.04 L650.8,437.66 L651.3,440.49 L651.8,437.77 L652.3,436.36 L652.8,437.74 L653.3,440.21 L653.8,441.36 L654.3,440.12 L654.8,440.63 L655.3,439.28 L655.8,438.21 L656.3,439.63 L656.8,441.02 L657.3,442.6 L657.8,442.58 L658.3,441.59 L658.8,441.32 L659.3,442.22 L659.8,441.88 L660.3,441.58 L660.8,440.53 L661.3,441.15 L661.8,443.99 L662.3,443.96 L662.8,441.48 L663.3,442.19 L663.8,443.8 L664.3,443.65 L664.8,443.29 L665.3,442.56 L665.8,443.7 L666.3,443.98 L666.8,441.83 L667.3,440.09 L667.8,439.77 L668.3,439.67 L668.8,440.66 L669.3,441.54 L669.8,439.71 L670.3,440.04 L670.8,440.54 L671.3,440.71 L671.8,440.53 L672.3,438.82 L672.8,439.29 L673.3,437.56 L673.8,436.73 L674.3,437.43 L674.8,436.6 L675.3,436.66 L675.8,434.5 L676.3,433.82 L676.8,434.61 L677.3,434.81 L677.8,434.75" fill="none" stroke="#EDB120" stroke-width="2" stroke-linejoin="round"/></g><rect x="395.3" y="365.3" width="281.6" height="125.9" fill="none" stroke="#262626" stroke-opacity="0.6" stroke-width="1.3"/><line x1="489.17" y1="365.3" x2="489.17" y2="368.3" stroke="#262626" stroke-width="1"/><line x1="489.17" y1="491.2" x2="489.17" y2="488.2" stroke="#262626" stroke-width="1"/><line x1="583.03" y1="365.3" x2="583.03" y2="368.3" stroke="#262626" stroke-width="1"/><line x1="583.03" y1="491.2" x2="583.03" y2="488.2" stroke="#262626" stroke-width="1"/><line x1="395.3" y1="383.29" x2="398.3" y2="383.29" stroke="#262626" stroke-width="1"/><line x1="676.9" y1="383.29" x2="673.9" y2="383.29" stroke="#262626" stroke-width="1"/><text x="391.8" y="387.19" text-anchor="end" style="font-family:'Liberation Sans',sans-serif;font-size:11px" fill="#262626" stroke="#262626" stroke-width="0.15">5</text><line x1="395.3" y1="428.25" x2="398.3" y2="428.25" stroke="#262626" stroke-width="1"/><line x1="676.9" y1="428.25" x2="673.9" y2="428.25" stroke="#262626" stroke-width="1"/><text x="391.8" y="432.15" text-anchor="end" style="font-family:'Liberation Sans',sans-serif;font-size:11px" fill="#262626" stroke="#262626" stroke-width="0.15">0</text><line x1="395.3" y1="473.21" x2="398.3" y2="473.21" stroke="#262626" stroke-width="1"/><line x1="676.9" y1="473.21" x2="673.9" y2="473.21" stroke="#262626" stroke-width="1"/><text x="391.8" y="477.11" text-anchor="end" style="font-family:'Liberation Sans',sans-serif;font-size:11px" fill="#262626" stroke="#262626" stroke-width="0.15">-5</text><text x="69.6" y="506.1" text-anchor="middle" style="font-family:'Liberation Sans',sans-serif;font-size:11px" fill="#262626" stroke="#262626" stroke-width="0.15">0</text><text x="395.3" y="506.1" text-anchor="middle" style="font-family:'Liberation Sans',sans-serif;font-size:11px" fill="#262626" stroke="#262626" stroke-width="0.15">0</text><text x="163.57" y="506.1" text-anchor="middle" style="font-family:'Liberation Sans',sans-serif;font-size:11px" fill="#262626" stroke="#262626" stroke-width="0.15">0.4</text><text x="489.17" y="506.1" text-anchor="middle" style="font-family:'Liberation Sans',sans-serif;font-size:11px" fill="#262626" stroke="#262626" stroke-width="0.15">0.4</text><text x="257.53" y="506.1" text-anchor="middle" style="font-family:'Liberation Sans',sans-serif;font-size:11px" fill="#262626" stroke="#262626" stroke-width="0.15">0.8</text><text x="583.03" y="506.1" text-anchor="middle" style="font-family:'Liberation Sans',sans-serif;font-size:11px" fill="#262626" stroke="#262626" stroke-width="0.15">0.8</text><text x="351.5" y="506.1" text-anchor="middle" style="font-family:'Liberation Sans',sans-serif;font-size:11px" fill="#262626" stroke="#262626" stroke-width="0.15">1.2</text><text x="676.9" y="506.1" text-anchor="middle" style="font-family:'Liberation Sans',sans-serif;font-size:11px" fill="#262626" stroke="#262626" stroke-width="0.15">1.2</text><text x="365.5" y="505" style="font-family:'Liberation Serif',serif;font-size:13.3px" fill="#262626" stroke="#262626" stroke-width="0.2">(m)</text><text transform="translate(27.3,156) rotate(-90)" text-anchor="middle" style="font-family:'Liberation Serif',serif;font-size:18.3px" fill="#000" stroke="#000" stroke-width="0.25">(a). Cycloid</text><text transform="translate(14.9,277) rotate(-90)" text-anchor="middle" style="font-family:'Liberation Serif',serif;font-size:18.3px" fill="#000" stroke="#000" stroke-width="0.25">Symmetric cubic</text><text transform="translate(37.2,297.5) rotate(-90)" text-anchor="middle" style="font-family:'Liberation Serif',serif;font-size:18.3px" fill="#000" stroke="#000" stroke-width="0.25">polynomial</text><text transform="translate(25.0,352.5) rotate(-90)" text-anchor="middle" style="font-family:'Liberation Serif',serif;font-size:18.3px" fill="#000" stroke="#000" stroke-width="0.25">(b).</text><text transform="translate(15.2,439.5) rotate(-90)" text-anchor="middle" style="font-family:'Liberation Serif',serif;font-size:18.3px" fill="#000" stroke="#000" stroke-width="0.25">Optimize</text><text transform="translate(36.5,438.5) rotate(-90)" text-anchor="middle" style="font-family:'Liberation Serif',serif;font-size:18.3px" fill="#000" stroke="#000" stroke-width="0.25">trajectory</text><text transform="translate(27.0,494.5) rotate(-90)" text-anchor="middle" style="font-family:'Liberation Serif',serif;font-size:18.3px" fill="#000" stroke="#000" stroke-width="0.25">(c).</text><rect x="163.3" y="1.6" width="189.2" height="85.8" fill="#fff" stroke="#262626" stroke-opacity="0.6" stroke-width="1.3"/><line x1="167.3" y1="13.3" x2="207.5" y2="13.3" stroke="#0072BD" stroke-width="2.2"/><text x="210.5" y="19.0" style="font-family:'Liberation Serif',serif;font-size:17px" fill="#000" stroke="#000" stroke-width="0.25">swing trajectory</text><line x1="167.3" y1="34.2" x2="207.5" y2="34.2" stroke="#D95319" stroke-width="1.7"/><text x="210.5" y="39.900000000000006" style="font-family:'Liberation Serif',serif;font-size:17px" fill="#000" stroke="#000" stroke-width="0.25">hip joint velocity</text><line x1="167.3" y1="54.8" x2="207.5" y2="54.8" stroke="#D95319" stroke-width="1.9" stroke-dasharray="7,7.8"/><text x="210.5" y="60.5" style="font-family:'Liberation Serif',serif;font-size:17px" fill="#000" stroke="#000" stroke-width="0.25">thigh joint velocity</text><line x1="167.3" y1="75.0" x2="207.5" y2="75.0" stroke="#D95319" stroke-width="2.0" stroke-dasharray="0.2,3.8" stroke-linecap="round"/><text x="210.5" y="80.7" style="font-family:'Liberation Serif',serif;font-size:17px" fill="#000" stroke="#000" stroke-width="0.25">shank joint velocity</text><rect x="498.5" y="15.5" width="178.5" height="66" fill="#fff" stroke="#262626" stroke-opacity="0.6" stroke-width="1.3"/><line x1="503.4" y1="28.4" x2="542.9" y2="28.4" stroke="#0072BD" stroke-width="2"/><text x="546" y="34.1" style="font-family:'Liberation Serif',serif;font-size:17px" fill="#000" stroke="#000" stroke-width="0.25">hip joint torque</text><line x1="503.4" y1="49.4" x2="542.9" y2="49.4" stroke="#D95319" stroke-width="2"/><text x="546" y="55.1" style="font-family:'Liberation Serif',serif;font-size:17px" fill="#000" stroke="#000" stroke-width="0.25">thigh joint torque</text><line x1="503.4" y1="70.4" x2="542.9" y2="70.4" stroke="#EDB120" stroke-width="2"/><text x="546" y="76.10000000000001" style="font-family:'Liberation Serif',serif;font-size:17px" fill="#000" stroke="#000" stroke-width="0.25">shank joint torque</text><text x="53" y="80.3" style="font-family:'Liberation Serif',serif;font-size:13px" fill="#0072BD" stroke="#0072BD" stroke-width="0.2">(m)</text><text x="342.4" y="92.5" style="font-family:'Liberation Serif',serif;font-size:13px;letter-spacing:0.25px" fill="#D6585A" stroke="#D6585A" stroke-width="0.2">(rad/s)</text><text x="383.3" y="88.3" style="font-family:'Liberation Serif',serif;font-size:13.3px" fill="#262626" stroke="#262626" stroke-width="0.2">(N·m)</text></svg>
</body></html>
